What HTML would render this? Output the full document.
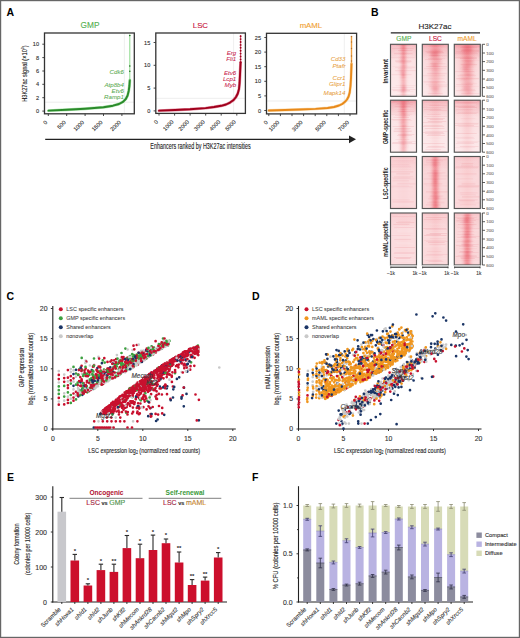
<!DOCTYPE html>
<html><head><meta charset="utf-8"><style>
html,body{margin:0;padding:0;background:#fff;}
svg{display:block;font-family:"Liberation Sans", sans-serif;}
</style></head><body>
<svg width="520" height="638" viewBox="0 0 520 638">
<rect x="0" y="0" width="520" height="638" fill="#fff"/>
<text x="6.5" y="16" font-size="10.5" fill="#000" font-weight="bold">A</text>
<text x="371" y="16" font-size="10.5" fill="#000" font-weight="bold">B</text>
<text x="6.5" y="300" font-size="10.5" fill="#000" font-weight="bold">C</text>
<text x="252" y="300" font-size="10.5" fill="#000" font-weight="bold">D</text>
<text x="7" y="480.5" font-size="10.5" fill="#000" font-weight="bold">E</text>
<text x="252" y="480.5" font-size="10.5" fill="#000" font-weight="bold">F</text>
<line x1="44.5" y1="102.2" x2="134.3" y2="102.2" stroke="#e0e0e0" stroke-width="0.6"/>
<line x1="124.4" y1="33" x2="124.4" y2="113.8" stroke="#e4e4e4" stroke-width="0.6"/>
<polyline points="48.5,110.6 66.7,109.8 85,108.7 103.5,107.2 113,105.7 119,104 123,101.8 125.8,99 127.6,95.5 128.7,91 129.4,86 129.8,80.3" fill="none" stroke="#6fcf6f" stroke-width="2.9" stroke-linejoin="round" stroke-linecap="round" opacity="0.55"/>
<polyline points="48.5,110.6 66.7,109.8 85,108.7 103.5,107.2 113,105.7 119,104 123,101.8 125.8,99 127.6,95.5 128.7,91 129.4,86 129.8,80.3" fill="none" stroke="#2a8a2a" stroke-width="1.9" stroke-linejoin="round" stroke-linecap="round"/>
<line x1="129.8" y1="80.3" x2="129.8" y2="34.5" stroke="#6fcf6f" stroke-width="0.8"/>
<circle cx="129.8" cy="35.5" r="0.8" fill="#1f6a1f"/>
<circle cx="129.8" cy="66" r="0.8" fill="#1f6a1f"/>
<circle cx="129.8" cy="71.2" r="0.8" fill="#1f6a1f"/>
<rect x="44.5" y="33" width="89.8" height="80.8" fill="none" stroke="#333" stroke-width="1.3"/>
<line x1="42.3" y1="111.1" x2="44.5" y2="111.1" stroke="#333" stroke-width="0.9"/>
<text x="39" y="113.1" font-size="5.6" fill="#333" stroke="#333" stroke-width="0.12" text-anchor="end">0</text>
<line x1="42.3" y1="97.7" x2="44.5" y2="97.7" stroke="#333" stroke-width="0.9"/>
<text x="39" y="99.7" font-size="5.6" fill="#333" stroke="#333" stroke-width="0.12" text-anchor="end">2</text>
<line x1="42.3" y1="84.3" x2="44.5" y2="84.3" stroke="#333" stroke-width="0.9"/>
<text x="39" y="86.3" font-size="5.6" fill="#333" stroke="#333" stroke-width="0.12" text-anchor="end">4</text>
<line x1="42.3" y1="71" x2="44.5" y2="71" stroke="#333" stroke-width="0.9"/>
<text x="39" y="73" font-size="5.6" fill="#333" stroke="#333" stroke-width="0.12" text-anchor="end">6</text>
<line x1="42.3" y1="57.6" x2="44.5" y2="57.6" stroke="#333" stroke-width="0.9"/>
<text x="39" y="59.6" font-size="5.6" fill="#333" stroke="#333" stroke-width="0.12" text-anchor="end">8</text>
<line x1="42.3" y1="44.2" x2="44.5" y2="44.2" stroke="#333" stroke-width="0.9"/>
<text x="39" y="46.2" font-size="5.6" fill="#333" stroke="#333" stroke-width="0.12" text-anchor="end">10</text>
<line x1="48.3" y1="113.8" x2="48.3" y2="116" stroke="#333" stroke-width="0.9"/>
<line x1="66.7" y1="113.8" x2="66.7" y2="116" stroke="#333" stroke-width="0.9"/>
<line x1="85.1" y1="113.8" x2="85.1" y2="116" stroke="#333" stroke-width="0.9"/>
<line x1="103.5" y1="113.8" x2="103.5" y2="116" stroke="#333" stroke-width="0.9"/>
<line x1="121.9" y1="113.8" x2="121.9" y2="116" stroke="#333" stroke-width="0.9"/>
<text x="47.7" y="122.8" font-size="5.6" fill="#333" stroke="#333" stroke-width="0.12" text-anchor="end" transform="rotate(-45 47.7 122.8)">0</text>
<text x="66.1" y="122.8" font-size="5.6" fill="#333" stroke="#333" stroke-width="0.12" text-anchor="end" transform="rotate(-45 66.1 122.8)">500</text>
<text x="84.5" y="122.8" font-size="5.6" fill="#333" stroke="#333" stroke-width="0.12" text-anchor="end" transform="rotate(-45 84.5 122.8)">1000</text>
<text x="102.9" y="122.8" font-size="5.6" fill="#333" stroke="#333" stroke-width="0.12" text-anchor="end" transform="rotate(-45 102.9 122.8)">1500</text>
<text x="121.3" y="122.8" font-size="5.6" fill="#333" stroke="#333" stroke-width="0.12" text-anchor="end" transform="rotate(-45 121.3 122.8)">2000</text>
<text x="90" y="28.3" font-size="8.3" fill="#55b04f" stroke="#55b04f" stroke-width="0.12" text-anchor="middle">GMP</text>
<text x="124" y="73.8" font-size="6.2" fill="#5aaa50" stroke="#5aaa50" stroke-width="0.05" text-anchor="end" font-style="italic">Cdk6</text>
<text x="124" y="86.5" font-size="6.2" fill="#5aaa50" stroke="#5aaa50" stroke-width="0.05" text-anchor="end" font-style="italic">Atp8b4</text>
<text x="124" y="93" font-size="6.2" fill="#5aaa50" stroke="#5aaa50" stroke-width="0.05" text-anchor="end" font-style="italic">Etv6</text>
<text x="124" y="99" font-size="6.2" fill="#5aaa50" stroke="#5aaa50" stroke-width="0.05" text-anchor="end" font-style="italic">Ramp1</text>
<line x1="155.8" y1="98.3" x2="245.4" y2="98.3" stroke="#e0e0e0" stroke-width="0.6"/>
<line x1="233.6" y1="33" x2="233.6" y2="113.4" stroke="#e4e4e4" stroke-width="0.6"/>
<polyline points="159,110.6 175,110 190,109.3 205.6,108.1 214,107 221.2,105.8 226,104.5 230,102.6 233.6,100 236,97 237.8,93.5 239,89 239.6,83 240,75 240.4,66 240.6,62.5" fill="none" stroke="#d04060" stroke-width="2.9" stroke-linejoin="round" stroke-linecap="round" opacity="0.55"/>
<polyline points="159,110.6 175,110 190,109.3 205.6,108.1 214,107 221.2,105.8 226,104.5 230,102.6 233.6,100 236,97 237.8,93.5 239,89 239.6,83 240,75 240.4,66 240.6,62.5" fill="none" stroke="#a0001c" stroke-width="1.9" stroke-linejoin="round" stroke-linecap="round"/>
<line x1="240.6" y1="62.5" x2="240.6" y2="35" stroke="#d04060" stroke-width="0.8"/>
<circle cx="240.6" cy="36.2" r="0.95" fill="#a0001c"/>
<circle cx="240.6" cy="39.1" r="0.95" fill="#a0001c"/>
<circle cx="240.6" cy="42" r="0.95" fill="#a0001c"/>
<circle cx="240.6" cy="44.9" r="0.95" fill="#a0001c"/>
<circle cx="240.6" cy="47.8" r="0.95" fill="#a0001c"/>
<circle cx="240.6" cy="50.7" r="0.95" fill="#a0001c"/>
<circle cx="240.6" cy="53.6" r="0.95" fill="#a0001c"/>
<circle cx="240.6" cy="56.5" r="0.95" fill="#a0001c"/>
<circle cx="240.6" cy="59.4" r="0.95" fill="#a0001c"/>
<circle cx="240.6" cy="62.3" r="0.95" fill="#a0001c"/>
<rect x="155.8" y="33" width="89.6" height="80.4" fill="none" stroke="#333" stroke-width="1.3"/>
<line x1="153.6" y1="110.9" x2="155.8" y2="110.9" stroke="#333" stroke-width="0.9"/>
<text x="150.3" y="112.9" font-size="5.6" fill="#333" stroke="#333" stroke-width="0.12" text-anchor="end">0</text>
<line x1="153.6" y1="88.1" x2="155.8" y2="88.1" stroke="#333" stroke-width="0.9"/>
<text x="150.3" y="90.1" font-size="5.6" fill="#333" stroke="#333" stroke-width="0.12" text-anchor="end">5</text>
<line x1="153.6" y1="65.3" x2="155.8" y2="65.3" stroke="#333" stroke-width="0.9"/>
<text x="150.3" y="67.3" font-size="5.6" fill="#333" stroke="#333" stroke-width="0.12" text-anchor="end">10</text>
<line x1="153.6" y1="42.5" x2="155.8" y2="42.5" stroke="#333" stroke-width="0.9"/>
<text x="150.3" y="44.5" font-size="5.6" fill="#333" stroke="#333" stroke-width="0.12" text-anchor="end">15</text>
<line x1="159" y1="113.4" x2="159" y2="115.6" stroke="#333" stroke-width="0.9"/>
<line x1="174.6" y1="113.4" x2="174.6" y2="115.6" stroke="#333" stroke-width="0.9"/>
<line x1="190.1" y1="113.4" x2="190.1" y2="115.6" stroke="#333" stroke-width="0.9"/>
<line x1="205.7" y1="113.4" x2="205.7" y2="115.6" stroke="#333" stroke-width="0.9"/>
<line x1="221.2" y1="113.4" x2="221.2" y2="115.6" stroke="#333" stroke-width="0.9"/>
<line x1="236.8" y1="113.4" x2="236.8" y2="115.6" stroke="#333" stroke-width="0.9"/>
<text x="158.4" y="122.4" font-size="5.6" fill="#333" stroke="#333" stroke-width="0.12" text-anchor="end" transform="rotate(-45 158.4 122.4)">0</text>
<text x="174" y="122.4" font-size="5.6" fill="#333" stroke="#333" stroke-width="0.12" text-anchor="end" transform="rotate(-45 174 122.4)">1000</text>
<text x="189.5" y="122.4" font-size="5.6" fill="#333" stroke="#333" stroke-width="0.12" text-anchor="end" transform="rotate(-45 189.5 122.4)">2000</text>
<text x="205.1" y="122.4" font-size="5.6" fill="#333" stroke="#333" stroke-width="0.12" text-anchor="end" transform="rotate(-45 205.1 122.4)">3000</text>
<text x="220.6" y="122.4" font-size="5.6" fill="#333" stroke="#333" stroke-width="0.12" text-anchor="end" transform="rotate(-45 220.6 122.4)">4000</text>
<text x="236.2" y="122.4" font-size="5.6" fill="#333" stroke="#333" stroke-width="0.12" text-anchor="end" transform="rotate(-45 236.2 122.4)">5000</text>
<text x="200.4" y="28.3" font-size="7.8" fill="#c8143c" stroke="#c8143c" stroke-width="0.12" text-anchor="middle">LSC</text>
<text x="236.3" y="54.6" font-size="6.2" fill="#c8204a" stroke="#c8204a" stroke-width="0.05" text-anchor="end" font-style="italic">Erg</text>
<text x="236.3" y="61.3" font-size="6.2" fill="#c8204a" stroke="#c8204a" stroke-width="0.05" text-anchor="end" font-style="italic">Fli1</text>
<text x="236.3" y="75.2" font-size="6.2" fill="#c8204a" stroke="#c8204a" stroke-width="0.05" text-anchor="end" font-style="italic">Etv6</text>
<text x="236.3" y="81" font-size="6.2" fill="#c8204a" stroke="#c8204a" stroke-width="0.05" text-anchor="end" font-style="italic">Lcp1</text>
<text x="236.3" y="87.3" font-size="6.2" fill="#c8204a" stroke="#c8204a" stroke-width="0.05" text-anchor="end" font-style="italic">Myb</text>
<line x1="266.5" y1="101" x2="356.6" y2="101" stroke="#e0e0e0" stroke-width="0.6"/>
<line x1="344.3" y1="33.3" x2="344.3" y2="113.9" stroke="#e4e4e4" stroke-width="0.6"/>
<polyline points="268.8,110.5 285,110 300,109.5 315.5,108.9 327.6,108 334,107 339,105.5 342.5,103.8 345,101.8 347,99.5 348.6,96.5 349.7,92.5 350.5,86 351,78 351.3,70 351.5,64" fill="none" stroke="#f6c070" stroke-width="2.9" stroke-linejoin="round" stroke-linecap="round" opacity="0.55"/>
<polyline points="268.8,110.5 285,110 300,109.5 315.5,108.9 327.6,108 334,107 339,105.5 342.5,103.8 345,101.8 347,99.5 348.6,96.5 349.7,92.5 350.5,86 351,78 351.3,70 351.5,64" fill="none" stroke="#e8891a" stroke-width="1.9" stroke-linejoin="round" stroke-linecap="round"/>
<line x1="351.5" y1="64" x2="351.5" y2="36" stroke="#eea040" stroke-width="1.4"/>
<circle cx="351.5" cy="36.5" r="0.7" fill="#b07030"/>
<circle cx="351.5" cy="42" r="0.7" fill="#b07030"/>
<circle cx="351.5" cy="48.5" r="0.7" fill="#b07030"/>
<circle cx="351.5" cy="56" r="0.7" fill="#b07030"/>
<circle cx="351.5" cy="61" r="0.7" fill="#b07030"/>
<rect x="266.5" y="33.3" width="90.1" height="80.6" fill="none" stroke="#333" stroke-width="1.3"/>
<line x1="264.3" y1="110.5" x2="266.5" y2="110.5" stroke="#333" stroke-width="0.9"/>
<text x="261" y="112.5" font-size="5.6" fill="#333" stroke="#333" stroke-width="0.12" text-anchor="end">0</text>
<line x1="264.3" y1="95.9" x2="266.5" y2="95.9" stroke="#333" stroke-width="0.9"/>
<text x="261" y="97.9" font-size="5.6" fill="#333" stroke="#333" stroke-width="0.12" text-anchor="end">5</text>
<line x1="264.3" y1="81.3" x2="266.5" y2="81.3" stroke="#333" stroke-width="0.9"/>
<text x="261" y="83.3" font-size="5.6" fill="#333" stroke="#333" stroke-width="0.12" text-anchor="end">10</text>
<line x1="264.3" y1="66.7" x2="266.5" y2="66.7" stroke="#333" stroke-width="0.9"/>
<text x="261" y="68.7" font-size="5.6" fill="#333" stroke="#333" stroke-width="0.12" text-anchor="end">15</text>
<line x1="264.3" y1="52.1" x2="266.5" y2="52.1" stroke="#333" stroke-width="0.9"/>
<text x="261" y="54.1" font-size="5.6" fill="#333" stroke="#333" stroke-width="0.12" text-anchor="end">20</text>
<line x1="264.3" y1="37.5" x2="266.5" y2="37.5" stroke="#333" stroke-width="0.9"/>
<text x="261" y="39.5" font-size="5.6" fill="#333" stroke="#333" stroke-width="0.12" text-anchor="end">25</text>
<line x1="268.8" y1="113.9" x2="268.8" y2="116.1" stroke="#333" stroke-width="0.9"/>
<line x1="280.4" y1="113.9" x2="280.4" y2="116.1" stroke="#333" stroke-width="0.9"/>
<line x1="292" y1="113.9" x2="292" y2="116.1" stroke="#333" stroke-width="0.9"/>
<line x1="303.6" y1="113.9" x2="303.6" y2="116.1" stroke="#333" stroke-width="0.9"/>
<line x1="315.2" y1="113.9" x2="315.2" y2="116.1" stroke="#333" stroke-width="0.9"/>
<line x1="326.8" y1="113.9" x2="326.8" y2="116.1" stroke="#333" stroke-width="0.9"/>
<line x1="338.4" y1="113.9" x2="338.4" y2="116.1" stroke="#333" stroke-width="0.9"/>
<line x1="350" y1="113.9" x2="350" y2="116.1" stroke="#333" stroke-width="0.9"/>
<text x="268.2" y="122.9" font-size="5.6" fill="#333" stroke="#333" stroke-width="0.12" text-anchor="end" transform="rotate(-45 268.2 122.9)">0</text>
<text x="279.8" y="122.9" font-size="5.6" fill="#333" stroke="#333" stroke-width="0.12" text-anchor="end" transform="rotate(-45 279.8 122.9)">1000</text>
<text x="303" y="122.9" font-size="5.6" fill="#333" stroke="#333" stroke-width="0.12" text-anchor="end" transform="rotate(-45 303 122.9)">3000</text>
<text x="326.2" y="122.9" font-size="5.6" fill="#333" stroke="#333" stroke-width="0.12" text-anchor="end" transform="rotate(-45 326.2 122.9)">5000</text>
<text x="349.4" y="122.9" font-size="5.6" fill="#333" stroke="#333" stroke-width="0.12" text-anchor="end" transform="rotate(-45 349.4 122.9)">7000</text>
<text x="310.9" y="28.3" font-size="7.8" fill="#f0a030" stroke="#f0a030" stroke-width="0.12" text-anchor="middle">mAML</text>
<text x="345.5" y="60.6" font-size="6.2" fill="#e8a040" stroke="#e8a040" stroke-width="0.05" text-anchor="end" font-style="italic">Cd33</text>
<text x="345.5" y="67.8" font-size="6.2" fill="#e8a040" stroke="#e8a040" stroke-width="0.05" text-anchor="end" font-style="italic">Ptafr</text>
<text x="345.5" y="80.4" font-size="6.2" fill="#e8a040" stroke="#e8a040" stroke-width="0.05" text-anchor="end" font-style="italic">Ccr1</text>
<text x="345.5" y="86" font-size="6.2" fill="#e8a040" stroke="#e8a040" stroke-width="0.05" text-anchor="end" font-style="italic">Glipr1</text>
<text x="345.5" y="94.5" font-size="6.2" fill="#e8a040" stroke="#e8a040" stroke-width="0.05" text-anchor="end" font-style="italic">Mapk14</text>
<text x="26.9" y="73.6" font-size="7.2" fill="#222" stroke="#222" stroke-width="0.12" text-anchor="middle" transform="rotate(-90 26.9 73.6)" textLength="56.5" lengthAdjust="spacingAndGlyphs">H3K27ac signal (×10<tspan font-size="4.4" dy="-2.6">3</tspan><tspan dy="2.6">)</tspan></text>
<line x1="45.2" y1="139.3" x2="350" y2="139.3" stroke="#222" stroke-width="1.2"/>
<path d="M349,135.4 L356,139.3 L349,143.2 Z" fill="#222"/>
<text x="150.3" y="149.4" font-size="8.6" fill="#222" stroke="#222" stroke-width="0.12" textLength="100.5" lengthAdjust="spacingAndGlyphs">Enhancers ranked by H3K27ac intensities</text>
<defs><linearGradient id="hb00" x1="0" x2="1" y1="0" y2="0"><stop offset="0.00" stop-color="#fbdcde"/><stop offset="0.05" stop-color="#fbdcde"/><stop offset="0.10" stop-color="#fbdcde"/><stop offset="0.15" stop-color="#fbdcde"/><stop offset="0.20" stop-color="#fbdcde"/><stop offset="0.25" stop-color="#fbdbde"/><stop offset="0.30" stop-color="#fbd9db"/><stop offset="0.35" stop-color="#fad0d3"/><stop offset="0.40" stop-color="#f7bcc0"/><stop offset="0.45" stop-color="#f4a2a8"/><stop offset="0.50" stop-color="#f3969c"/><stop offset="0.55" stop-color="#f4a2a8"/><stop offset="0.60" stop-color="#f7bcc0"/><stop offset="0.65" stop-color="#fad0d3"/><stop offset="0.70" stop-color="#fbd9db"/><stop offset="0.75" stop-color="#fbdbde"/><stop offset="0.80" stop-color="#fbdcde"/><stop offset="0.85" stop-color="#fbdcde"/><stop offset="0.90" stop-color="#fbdcde"/><stop offset="0.95" stop-color="#fbdcde"/><stop offset="1.00" stop-color="#fbdcde"/></linearGradient><linearGradient id="hb01" x1="0" x2="1" y1="0" y2="0"><stop offset="0.00" stop-color="#fad7d9"/><stop offset="0.05" stop-color="#fad6d9"/><stop offset="0.10" stop-color="#fad5d8"/><stop offset="0.15" stop-color="#fad3d6"/><stop offset="0.20" stop-color="#facfd2"/><stop offset="0.25" stop-color="#f9c8cb"/><stop offset="0.30" stop-color="#f8bec2"/><stop offset="0.35" stop-color="#f6b2b7"/><stop offset="0.40" stop-color="#f5a7ac"/><stop offset="0.45" stop-color="#f49ea4"/><stop offset="0.50" stop-color="#f49ba1"/><stop offset="0.55" stop-color="#f49ea4"/><stop offset="0.60" stop-color="#f5a7ac"/><stop offset="0.65" stop-color="#f6b2b7"/><stop offset="0.70" stop-color="#f8bec2"/><stop offset="0.75" stop-color="#f9c8cb"/><stop offset="0.80" stop-color="#facfd2"/><stop offset="0.85" stop-color="#fad3d6"/><stop offset="0.90" stop-color="#fad5d8"/><stop offset="0.95" stop-color="#fad6d9"/><stop offset="1.00" stop-color="#fad7d9"/></linearGradient><linearGradient id="hb02" x1="0" x2="1" y1="0" y2="0"><stop offset="0.00" stop-color="#fad5d7"/><stop offset="0.05" stop-color="#fad4d6"/><stop offset="0.10" stop-color="#fad2d5"/><stop offset="0.15" stop-color="#f9cfd1"/><stop offset="0.20" stop-color="#f9c9cc"/><stop offset="0.25" stop-color="#f8c0c3"/><stop offset="0.30" stop-color="#f6b4b8"/><stop offset="0.35" stop-color="#f5a6ab"/><stop offset="0.40" stop-color="#f3999f"/><stop offset="0.45" stop-color="#f28f96"/><stop offset="0.50" stop-color="#f28c93"/><stop offset="0.55" stop-color="#f28f96"/><stop offset="0.60" stop-color="#f3999f"/><stop offset="0.65" stop-color="#f5a6ab"/><stop offset="0.70" stop-color="#f6b4b8"/><stop offset="0.75" stop-color="#f8c0c3"/><stop offset="0.80" stop-color="#f9c9cc"/><stop offset="0.85" stop-color="#f9cfd1"/><stop offset="0.90" stop-color="#fad2d5"/><stop offset="0.95" stop-color="#fad4d6"/><stop offset="1.00" stop-color="#fad5d7"/></linearGradient><linearGradient id="hb10" x1="0" x2="1" y1="0" y2="0"><stop offset="0.00" stop-color="#fbdee0"/><stop offset="0.05" stop-color="#fbdee0"/><stop offset="0.10" stop-color="#fbdee0"/><stop offset="0.15" stop-color="#fbdee0"/><stop offset="0.20" stop-color="#fbdddf"/><stop offset="0.25" stop-color="#fbdcde"/><stop offset="0.30" stop-color="#fad7da"/><stop offset="0.35" stop-color="#f9cbce"/><stop offset="0.40" stop-color="#f7b6ba"/><stop offset="0.45" stop-color="#f49fa4"/><stop offset="0.50" stop-color="#f3949b"/><stop offset="0.55" stop-color="#f49fa4"/><stop offset="0.60" stop-color="#f7b6ba"/><stop offset="0.65" stop-color="#f9cbce"/><stop offset="0.70" stop-color="#fad7da"/><stop offset="0.75" stop-color="#fbdcde"/><stop offset="0.80" stop-color="#fbdddf"/><stop offset="0.85" stop-color="#fbdee0"/><stop offset="0.90" stop-color="#fbdee0"/><stop offset="0.95" stop-color="#fbdee0"/><stop offset="1.00" stop-color="#fbdee0"/></linearGradient><linearGradient id="hb11" x1="0" x2="1" y1="0" y2="0"><stop offset="0.00" stop-color="#fbdcde"/><stop offset="0.05" stop-color="#fbdcde"/><stop offset="0.10" stop-color="#fbdcde"/><stop offset="0.15" stop-color="#fbdbdd"/><stop offset="0.20" stop-color="#fbdadc"/><stop offset="0.25" stop-color="#fbd8da"/><stop offset="0.30" stop-color="#fad5d7"/><stop offset="0.35" stop-color="#fad1d3"/><stop offset="0.40" stop-color="#f9cccf"/><stop offset="0.45" stop-color="#f9c9cc"/><stop offset="0.50" stop-color="#f9c8cb"/><stop offset="0.55" stop-color="#f9c9cc"/><stop offset="0.60" stop-color="#f9cccf"/><stop offset="0.65" stop-color="#fad1d3"/><stop offset="0.70" stop-color="#fad5d7"/><stop offset="0.75" stop-color="#fbd8da"/><stop offset="0.80" stop-color="#fbdadc"/><stop offset="0.85" stop-color="#fbdbdd"/><stop offset="0.90" stop-color="#fbdcde"/><stop offset="0.95" stop-color="#fbdcde"/><stop offset="1.00" stop-color="#fbdcde"/></linearGradient><linearGradient id="hb12" x1="0" x2="1" y1="0" y2="0"><stop offset="0.00" stop-color="#fbdadc"/><stop offset="0.05" stop-color="#fbdadc"/><stop offset="0.10" stop-color="#fbdadc"/><stop offset="0.15" stop-color="#fbd9db"/><stop offset="0.20" stop-color="#fbd8da"/><stop offset="0.25" stop-color="#fad5d8"/><stop offset="0.30" stop-color="#fad1d4"/><stop offset="0.35" stop-color="#f9cccf"/><stop offset="0.40" stop-color="#f9c7ca"/><stop offset="0.45" stop-color="#f8c3c6"/><stop offset="0.50" stop-color="#f8c1c5"/><stop offset="0.55" stop-color="#f8c3c6"/><stop offset="0.60" stop-color="#f9c7ca"/><stop offset="0.65" stop-color="#f9cccf"/><stop offset="0.70" stop-color="#fad1d4"/><stop offset="0.75" stop-color="#fad5d8"/><stop offset="0.80" stop-color="#fbd8da"/><stop offset="0.85" stop-color="#fbd9db"/><stop offset="0.90" stop-color="#fbdadc"/><stop offset="0.95" stop-color="#fbdadc"/><stop offset="1.00" stop-color="#fbdadc"/></linearGradient><linearGradient id="hb20" x1="0" x2="1" y1="0" y2="0"><stop offset="0.00" stop-color="#fbdadc"/><stop offset="0.05" stop-color="#fbdadc"/><stop offset="0.10" stop-color="#fbdadc"/><stop offset="0.15" stop-color="#fbdadc"/><stop offset="0.20" stop-color="#fbdadc"/><stop offset="0.25" stop-color="#fbd9db"/><stop offset="0.30" stop-color="#fbd8db"/><stop offset="0.35" stop-color="#fad7da"/><stop offset="0.40" stop-color="#fad6d9"/><stop offset="0.45" stop-color="#fad6d8"/><stop offset="0.50" stop-color="#fad5d8"/><stop offset="0.55" stop-color="#fad6d8"/><stop offset="0.60" stop-color="#fad6d9"/><stop offset="0.65" stop-color="#fad7da"/><stop offset="0.70" stop-color="#fbd8db"/><stop offset="0.75" stop-color="#fbd9db"/><stop offset="0.80" stop-color="#fbdadc"/><stop offset="0.85" stop-color="#fbdadc"/><stop offset="0.90" stop-color="#fbdadc"/><stop offset="0.95" stop-color="#fbdadc"/><stop offset="1.00" stop-color="#fbdadc"/></linearGradient><linearGradient id="hb21" x1="0" x2="1" y1="0" y2="0"><stop offset="0.00" stop-color="#fad7d9"/><stop offset="0.05" stop-color="#fad7d9"/><stop offset="0.10" stop-color="#fad7d9"/><stop offset="0.15" stop-color="#fad7d9"/><stop offset="0.20" stop-color="#fad6d9"/><stop offset="0.25" stop-color="#fad5d7"/><stop offset="0.30" stop-color="#facfd2"/><stop offset="0.35" stop-color="#f8c2c5"/><stop offset="0.40" stop-color="#f6adb2"/><stop offset="0.45" stop-color="#f3979d"/><stop offset="0.50" stop-color="#f28d94"/><stop offset="0.55" stop-color="#f3979d"/><stop offset="0.60" stop-color="#f6adb2"/><stop offset="0.65" stop-color="#f8c2c5"/><stop offset="0.70" stop-color="#facfd2"/><stop offset="0.75" stop-color="#fad5d7"/><stop offset="0.80" stop-color="#fad6d9"/><stop offset="0.85" stop-color="#fad7d9"/><stop offset="0.90" stop-color="#fad7d9"/><stop offset="0.95" stop-color="#fad7d9"/><stop offset="1.00" stop-color="#fad7d9"/></linearGradient><linearGradient id="hb22" x1="0" x2="1" y1="0" y2="0"><stop offset="0.00" stop-color="#fbd9db"/><stop offset="0.05" stop-color="#fbd8db"/><stop offset="0.10" stop-color="#fbd8db"/><stop offset="0.15" stop-color="#fbd8da"/><stop offset="0.20" stop-color="#fad7da"/><stop offset="0.25" stop-color="#fad6d9"/><stop offset="0.30" stop-color="#fad4d7"/><stop offset="0.35" stop-color="#fad3d5"/><stop offset="0.40" stop-color="#fad1d3"/><stop offset="0.45" stop-color="#facfd2"/><stop offset="0.50" stop-color="#f9cfd1"/><stop offset="0.55" stop-color="#facfd2"/><stop offset="0.60" stop-color="#fad1d3"/><stop offset="0.65" stop-color="#fad3d5"/><stop offset="0.70" stop-color="#fad4d7"/><stop offset="0.75" stop-color="#fad6d9"/><stop offset="0.80" stop-color="#fad7da"/><stop offset="0.85" stop-color="#fbd8da"/><stop offset="0.90" stop-color="#fbd8db"/><stop offset="0.95" stop-color="#fbd8db"/><stop offset="1.00" stop-color="#fbd9db"/></linearGradient><linearGradient id="hb30" x1="0" x2="1" y1="0" y2="0"><stop offset="0.00" stop-color="#fbdcde"/><stop offset="0.05" stop-color="#fbdcde"/><stop offset="0.10" stop-color="#fbdcde"/><stop offset="0.15" stop-color="#fbdcde"/><stop offset="0.20" stop-color="#fbdbde"/><stop offset="0.25" stop-color="#fbdbdd"/><stop offset="0.30" stop-color="#fbdbdd"/><stop offset="0.35" stop-color="#fbdadc"/><stop offset="0.40" stop-color="#fbd9dc"/><stop offset="0.45" stop-color="#fbd9db"/><stop offset="0.50" stop-color="#fbd9db"/><stop offset="0.55" stop-color="#fbd9db"/><stop offset="0.60" stop-color="#fbd9dc"/><stop offset="0.65" stop-color="#fbdadc"/><stop offset="0.70" stop-color="#fbdbdd"/><stop offset="0.75" stop-color="#fbdbdd"/><stop offset="0.80" stop-color="#fbdbde"/><stop offset="0.85" stop-color="#fbdcde"/><stop offset="0.90" stop-color="#fbdcde"/><stop offset="0.95" stop-color="#fbdcde"/><stop offset="1.00" stop-color="#fbdcde"/></linearGradient><linearGradient id="hb31" x1="0" x2="1" y1="0" y2="0"><stop offset="0.00" stop-color="#fbdadc"/><stop offset="0.05" stop-color="#fbdadc"/><stop offset="0.10" stop-color="#fbdadc"/><stop offset="0.15" stop-color="#fbdadc"/><stop offset="0.20" stop-color="#fbd9db"/><stop offset="0.25" stop-color="#fbd8da"/><stop offset="0.30" stop-color="#fad6d8"/><stop offset="0.35" stop-color="#fad4d6"/><stop offset="0.40" stop-color="#fad1d4"/><stop offset="0.45" stop-color="#facfd2"/><stop offset="0.50" stop-color="#f9cfd1"/><stop offset="0.55" stop-color="#facfd2"/><stop offset="0.60" stop-color="#fad1d4"/><stop offset="0.65" stop-color="#fad4d6"/><stop offset="0.70" stop-color="#fad6d8"/><stop offset="0.75" stop-color="#fbd8da"/><stop offset="0.80" stop-color="#fbd9db"/><stop offset="0.85" stop-color="#fbdadc"/><stop offset="0.90" stop-color="#fbdadc"/><stop offset="0.95" stop-color="#fbdadc"/><stop offset="1.00" stop-color="#fbdadc"/></linearGradient><linearGradient id="hb32" x1="0" x2="1" y1="0" y2="0"><stop offset="0.00" stop-color="#fad7d9"/><stop offset="0.05" stop-color="#fad7d9"/><stop offset="0.10" stop-color="#fad7d9"/><stop offset="0.15" stop-color="#fad7d9"/><stop offset="0.20" stop-color="#fad6d8"/><stop offset="0.25" stop-color="#fad3d5"/><stop offset="0.30" stop-color="#f9cbcf"/><stop offset="0.35" stop-color="#f8bec2"/><stop offset="0.40" stop-color="#f5aaaf"/><stop offset="0.45" stop-color="#f3989e"/><stop offset="0.50" stop-color="#f29197"/><stop offset="0.55" stop-color="#f3989e"/><stop offset="0.60" stop-color="#f5aaaf"/><stop offset="0.65" stop-color="#f8bec2"/><stop offset="0.70" stop-color="#f9cbcf"/><stop offset="0.75" stop-color="#fad3d5"/><stop offset="0.80" stop-color="#fad6d8"/><stop offset="0.85" stop-color="#fad7d9"/><stop offset="0.90" stop-color="#fad7d9"/><stop offset="0.95" stop-color="#fad7d9"/><stop offset="1.00" stop-color="#fad7d9"/></linearGradient><filter id="blr" x="-20%" y="-20%" width="140%" height="140%"><feGaussianBlur stdDeviation="0.9"/></filter><linearGradient id="vfade" x1="0" x2="0" y1="0" y2="1"><stop offset="0" stop-color="#fff" stop-opacity="0"/><stop offset="1" stop-color="#fff" stop-opacity="0.45"/></linearGradient><linearGradient id="vtop" x1="0" x2="0" y1="0" y2="1"><stop offset="0" stop-color="#e85a6a" stop-opacity="1"/><stop offset="0.25" stop-color="#e85a6a" stop-opacity="0.55"/><stop offset="1" stop-color="#e04050" stop-opacity="0"/></linearGradient></defs>
<rect x="390.5" y="44.3" width="26" height="52" fill="url(#hb00)"/>
<rect x="390.5" y="44.3" width="26" height="52" fill="url(#vfade)"/>
<rect x="390.5" y="44.3" width="26" height="16" fill="url(#vtop)" opacity="0.3"/>
<g filter="url(#blr)">
<ellipse cx="403.8" cy="76.3" rx="2.2" ry="1.3" fill="#e04858" opacity="0.08"/>
<ellipse cx="403.6" cy="88.2" rx="2.3" ry="2.2" fill="#e04858" opacity="0.08"/>
<ellipse cx="403.9" cy="60.8" rx="1.6" ry="1.7" fill="#e04858" opacity="0.10"/>
<ellipse cx="402.1" cy="72.9" rx="2.2" ry="1.9" fill="#e04858" opacity="0.11"/>
<ellipse cx="403.3" cy="56.6" rx="2" ry="1.1" fill="#e04858" opacity="0.07"/>
<ellipse cx="400.9" cy="71" rx="2.4" ry="1.9" fill="#e04858" opacity="0.09"/>
<ellipse cx="403" cy="70.1" rx="1.5" ry="2" fill="#e04858" opacity="0.08"/>
<ellipse cx="403.5" cy="64" rx="2.3" ry="1.2" fill="#e04858" opacity="0.08"/>
<ellipse cx="403.6" cy="88.6" rx="2.3" ry="2" fill="#e04858" opacity="0.10"/>
<ellipse cx="404.4" cy="50.7" rx="1.9" ry="2.3" fill="#e04858" opacity="0.09"/>
<ellipse cx="402.3" cy="75" rx="1.7" ry="1.5" fill="#e04858" opacity="0.08"/>
<ellipse cx="403.4" cy="85.5" rx="2.5" ry="1.9" fill="#e04858" opacity="0.09"/>
<ellipse cx="403" cy="76.9" rx="1.4" ry="1.7" fill="#e04858" opacity="0.08"/>
<ellipse cx="404.4" cy="65.6" rx="2.5" ry="1.3" fill="#e04858" opacity="0.10"/>
<ellipse cx="401.4" cy="60.7" rx="2.1" ry="1.2" fill="#e04858" opacity="0.12"/>
<ellipse cx="403.2" cy="91.7" rx="2" ry="1.2" fill="#e04858" opacity="0.07"/>
<ellipse cx="403.2" cy="90.8" rx="1.5" ry="2.3" fill="#e04858" opacity="0.09"/>
<ellipse cx="403.5" cy="73.6" rx="1.8" ry="1.4" fill="#e04858" opacity="0.07"/>
<ellipse cx="404.2" cy="88.4" rx="1.9" ry="1.5" fill="#e04858" opacity="0.10"/>
<ellipse cx="402.2" cy="47.5" rx="1.3" ry="1.2" fill="#e04858" opacity="0.13"/>
<ellipse cx="402.6" cy="77.9" rx="1.9" ry="2.3" fill="#e04858" opacity="0.08"/>
<ellipse cx="403.7" cy="74.6" rx="1.7" ry="1.8" fill="#e04858" opacity="0.10"/>
</g>
<rect x="396.4" y="45.3" width="13.8" height="0.8" fill="#d84858" opacity="0.15"/>
<rect x="390.6" y="46.3" width="21" height="0.8" fill="#ffffff" opacity="0.10"/>
<rect x="392" y="48.3" width="21.6" height="0.8" fill="#d84858" opacity="0.13"/>
<rect x="395" y="49.3" width="18.9" height="0.8" fill="#ffffff" opacity="0.09"/>
<rect x="398.1" y="50.3" width="14.3" height="0.8" fill="#d84858" opacity="0.15"/>
<rect x="395" y="51.3" width="18.1" height="0.8" fill="#ffffff" opacity="0.15"/>
<rect x="393.9" y="53.3" width="18.6" height="0.8" fill="#d84858" opacity="0.15"/>
<rect x="396.1" y="55.3" width="15.5" height="0.8" fill="#ffffff" opacity="0.14"/>
<rect x="390.9" y="57.3" width="23.9" height="0.8" fill="#d84858" opacity="0.09"/>
<rect x="395.1" y="60.3" width="16.2" height="0.8" fill="#d84858" opacity="0.12"/>
<rect x="395.4" y="61.3" width="16.1" height="0.8" fill="#d84858" opacity="0.16"/>
<rect x="396.5" y="62.3" width="13.7" height="0.8" fill="#d84858" opacity="0.06"/>
<rect x="397.3" y="64.3" width="15.1" height="0.8" fill="#ffffff" opacity="0.15"/>
<rect x="392.5" y="66.3" width="22.1" height="0.8" fill="#d84858" opacity="0.05"/>
<rect x="395.1" y="67.3" width="20.1" height="0.8" fill="#d84858" opacity="0.11"/>
<rect x="397.8" y="68.3" width="14.5" height="0.8" fill="#d84858" opacity="0.05"/>
<rect x="395" y="70.3" width="21.2" height="0.8" fill="#d84858" opacity="0.12"/>
<rect x="391.4" y="74.3" width="20.2" height="0.8" fill="#d84858" opacity="0.09"/>
<rect x="391.5" y="76.3" width="19" height="0.8" fill="#ffffff" opacity="0.14"/>
<rect x="395.3" y="78.3" width="20.5" height="0.8" fill="#ffffff" opacity="0.11"/>
<rect x="396.8" y="79.3" width="17.2" height="0.8" fill="#ffffff" opacity="0.12"/>
<rect x="392.2" y="83.3" width="19.9" height="0.8" fill="#ffffff" opacity="0.05"/>
<rect x="395.6" y="85.3" width="20.1" height="0.8" fill="#d84858" opacity="0.08"/>
<rect x="397" y="86.3" width="16.6" height="0.8" fill="#ffffff" opacity="0.06"/>
<rect x="392.4" y="87.3" width="21.5" height="0.8" fill="#d84858" opacity="0.11"/>
<rect x="395" y="88.3" width="19.1" height="0.8" fill="#ffffff" opacity="0.06"/>
<rect x="391.5" y="89.3" width="23.9" height="0.8" fill="#d84858" opacity="0.13"/>
<rect x="392.9" y="90.3" width="17.1" height="0.8" fill="#d84858" opacity="0.15"/>
<rect x="397.4" y="91.3" width="16.2" height="0.8" fill="#d84858" opacity="0.07"/>
<rect x="396.9" y="93.3" width="14.3" height="0.8" fill="#ffffff" opacity="0.13"/>
<rect x="396.4" y="94.3" width="18.6" height="0.8" fill="#d84858" opacity="0.06"/>
<rect x="397.5" y="95.3" width="18" height="0.8" fill="#ffffff" opacity="0.11"/>
<rect x="390.5" y="44.3" width="26" height="52" fill="none" stroke="#555" stroke-width="1.15"/>
<rect x="422.3" y="44.3" width="26" height="52" fill="url(#hb01)"/>
<rect x="422.3" y="44.3" width="26" height="52" fill="url(#vfade)"/>
<rect x="422.3" y="44.3" width="26" height="16" fill="url(#vtop)" opacity="0.35"/>
<g filter="url(#blr)">
<ellipse cx="434.2" cy="55.1" rx="3.8" ry="2.1" fill="#e04858" opacity="0.12"/>
<ellipse cx="437.1" cy="91.4" rx="4.2" ry="1.6" fill="#e04858" opacity="0.09"/>
<ellipse cx="434.9" cy="55.2" rx="4.1" ry="2.1" fill="#e04858" opacity="0.09"/>
<ellipse cx="434.2" cy="64.5" rx="2.4" ry="2.3" fill="#e04858" opacity="0.09"/>
<ellipse cx="434.6" cy="64.9" rx="4" ry="1.6" fill="#e04858" opacity="0.11"/>
<ellipse cx="434.9" cy="90.4" rx="2.7" ry="2.1" fill="#e04858" opacity="0.10"/>
<ellipse cx="433.6" cy="53.4" rx="4.3" ry="2.4" fill="#e04858" opacity="0.08"/>
<ellipse cx="438.3" cy="50.7" rx="2.6" ry="1.3" fill="#e04858" opacity="0.10"/>
<ellipse cx="435.3" cy="67.7" rx="2.8" ry="2.4" fill="#e04858" opacity="0.08"/>
<ellipse cx="434.9" cy="83.2" rx="3.4" ry="1" fill="#e04858" opacity="0.08"/>
<ellipse cx="437.8" cy="61.3" rx="3.4" ry="1.1" fill="#e04858" opacity="0.11"/>
<ellipse cx="436.4" cy="89" rx="2.9" ry="1.6" fill="#e04858" opacity="0.07"/>
<ellipse cx="434" cy="52.3" rx="3.5" ry="1.2" fill="#e04858" opacity="0.08"/>
<ellipse cx="433.6" cy="87.6" rx="2.8" ry="2" fill="#e04858" opacity="0.08"/>
<ellipse cx="435.9" cy="71.6" rx="3.5" ry="1.9" fill="#e04858" opacity="0.09"/>
<ellipse cx="436.3" cy="65.3" rx="4.4" ry="1.3" fill="#e04858" opacity="0.07"/>
<ellipse cx="436.1" cy="51.7" rx="4.5" ry="1.3" fill="#e04858" opacity="0.12"/>
<ellipse cx="435" cy="56.3" rx="3.5" ry="2.4" fill="#e04858" opacity="0.07"/>
<ellipse cx="439.7" cy="61.4" rx="2.5" ry="1.4" fill="#e04858" opacity="0.09"/>
<ellipse cx="435" cy="88.6" rx="4.3" ry="2.1" fill="#e04858" opacity="0.09"/>
<ellipse cx="437.4" cy="87.1" rx="4.1" ry="1.5" fill="#e04858" opacity="0.07"/>
<ellipse cx="434.5" cy="82.6" rx="4.5" ry="1.9" fill="#e04858" opacity="0.08"/>
</g>
<rect x="429.8" y="45.3" width="14" height="0.8" fill="#d84858" opacity="0.11"/>
<rect x="427.3" y="47.3" width="13.6" height="0.8" fill="#ffffff" opacity="0.14"/>
<rect x="428.8" y="48.3" width="16.9" height="0.8" fill="#ffffff" opacity="0.10"/>
<rect x="428.3" y="49.3" width="19.5" height="0.8" fill="#ffffff" opacity="0.07"/>
<rect x="425.5" y="51.3" width="17.2" height="0.8" fill="#d84858" opacity="0.16"/>
<rect x="426.7" y="52.3" width="17.3" height="0.8" fill="#d84858" opacity="0.13"/>
<rect x="426.6" y="54.3" width="21.1" height="0.8" fill="#ffffff" opacity="0.10"/>
<rect x="429.2" y="55.3" width="17.6" height="0.8" fill="#d84858" opacity="0.07"/>
<rect x="426.6" y="56.3" width="15.4" height="0.8" fill="#ffffff" opacity="0.13"/>
<rect x="427.6" y="57.3" width="15.7" height="0.8" fill="#ffffff" opacity="0.12"/>
<rect x="428.1" y="58.3" width="17.2" height="0.8" fill="#d84858" opacity="0.11"/>
<rect x="424.9" y="59.3" width="16.9" height="0.8" fill="#d84858" opacity="0.13"/>
<rect x="425.8" y="60.3" width="17" height="0.8" fill="#ffffff" opacity="0.14"/>
<rect x="426.8" y="61.3" width="17.1" height="0.8" fill="#ffffff" opacity="0.09"/>
<rect x="425.6" y="62.3" width="21.3" height="0.8" fill="#ffffff" opacity="0.12"/>
<rect x="430.1" y="63.3" width="15.5" height="0.8" fill="#d84858" opacity="0.08"/>
<rect x="429.7" y="64.3" width="11.7" height="0.8" fill="#ffffff" opacity="0.09"/>
<rect x="426.2" y="65.3" width="16.8" height="0.8" fill="#ffffff" opacity="0.08"/>
<rect x="426.2" y="66.3" width="20.6" height="0.8" fill="#d84858" opacity="0.15"/>
<rect x="426" y="67.3" width="16.3" height="0.8" fill="#ffffff" opacity="0.14"/>
<rect x="423.9" y="68.3" width="22" height="0.8" fill="#d84858" opacity="0.09"/>
<rect x="425.8" y="71.3" width="22" height="0.8" fill="#ffffff" opacity="0.13"/>
<rect x="425.2" y="72.3" width="18.1" height="0.8" fill="#ffffff" opacity="0.08"/>
<rect x="427.2" y="73.3" width="19.5" height="0.8" fill="#d84858" opacity="0.10"/>
<rect x="422.8" y="75.3" width="22.2" height="0.8" fill="#d84858" opacity="0.08"/>
<rect x="428.3" y="78.3" width="16.2" height="0.8" fill="#d84858" opacity="0.07"/>
<rect x="428.2" y="80.3" width="17.5" height="0.8" fill="#ffffff" opacity="0.12"/>
<rect x="423.4" y="81.3" width="21.5" height="0.8" fill="#d84858" opacity="0.10"/>
<rect x="423.7" y="82.3" width="22.4" height="0.8" fill="#d84858" opacity="0.06"/>
<rect x="426" y="84.3" width="22.2" height="0.8" fill="#d84858" opacity="0.07"/>
<rect x="428.5" y="85.3" width="18.4" height="0.8" fill="#d84858" opacity="0.07"/>
<rect x="428.7" y="86.3" width="18.4" height="0.8" fill="#d84858" opacity="0.09"/>
<rect x="427" y="89.3" width="15.3" height="0.8" fill="#ffffff" opacity="0.06"/>
<rect x="423.2" y="90.3" width="22.6" height="0.8" fill="#ffffff" opacity="0.15"/>
<rect x="430" y="91.3" width="13.5" height="0.8" fill="#ffffff" opacity="0.14"/>
<rect x="429.7" y="92.3" width="13.8" height="0.8" fill="#ffffff" opacity="0.12"/>
<rect x="427.9" y="93.3" width="14.9" height="0.8" fill="#d84858" opacity="0.11"/>
<rect x="424.9" y="94.3" width="22.8" height="0.8" fill="#ffffff" opacity="0.14"/>
<rect x="425.8" y="95.3" width="15.3" height="0.8" fill="#d84858" opacity="0.07"/>
<rect x="422.3" y="44.3" width="26" height="52" fill="none" stroke="#555" stroke-width="1.15"/>
<rect x="454.3" y="44.3" width="26" height="52" fill="url(#hb02)"/>
<rect x="454.3" y="44.3" width="26" height="52" fill="url(#vfade)"/>
<rect x="454.3" y="44.3" width="26" height="16" fill="url(#vtop)" opacity="0.45"/>
<g filter="url(#blr)">
<ellipse cx="468.1" cy="59.7" rx="4.2" ry="2.3" fill="#e04858" opacity="0.10"/>
<ellipse cx="467.9" cy="46.5" rx="3.1" ry="1.2" fill="#e04858" opacity="0.12"/>
<ellipse cx="462.6" cy="79.2" rx="3.2" ry="2.4" fill="#e04858" opacity="0.08"/>
<ellipse cx="467.3" cy="80" rx="4.5" ry="1.2" fill="#e04858" opacity="0.09"/>
<ellipse cx="468.7" cy="48" rx="4.6" ry="1.1" fill="#e04858" opacity="0.09"/>
<ellipse cx="468.9" cy="83" rx="3.3" ry="1.9" fill="#e04858" opacity="0.09"/>
<ellipse cx="467" cy="87.7" rx="4.4" ry="2" fill="#e04858" opacity="0.10"/>
<ellipse cx="470.4" cy="64.5" rx="4.2" ry="1.6" fill="#e04858" opacity="0.07"/>
<ellipse cx="469.5" cy="92.5" rx="3" ry="2.1" fill="#e04858" opacity="0.08"/>
<ellipse cx="464.1" cy="68.8" rx="3.6" ry="1.4" fill="#e04858" opacity="0.09"/>
<ellipse cx="469.4" cy="50" rx="3.2" ry="1.3" fill="#e04858" opacity="0.08"/>
<ellipse cx="467.7" cy="68.7" rx="4.3" ry="2.4" fill="#e04858" opacity="0.09"/>
<ellipse cx="467.5" cy="73.8" rx="2.7" ry="1.2" fill="#e04858" opacity="0.11"/>
<ellipse cx="466" cy="69.1" rx="2.7" ry="1.9" fill="#e04858" opacity="0.12"/>
<ellipse cx="467.4" cy="87.9" rx="3.8" ry="1.6" fill="#e04858" opacity="0.10"/>
<ellipse cx="467.5" cy="49.8" rx="4.5" ry="1.7" fill="#e04858" opacity="0.10"/>
<ellipse cx="468.7" cy="92.8" rx="2.6" ry="1.6" fill="#e04858" opacity="0.07"/>
<ellipse cx="466.6" cy="50.2" rx="4.9" ry="1.9" fill="#e04858" opacity="0.11"/>
<ellipse cx="469.7" cy="61.8" rx="4.4" ry="1.9" fill="#e04858" opacity="0.12"/>
<ellipse cx="468.8" cy="72.7" rx="4" ry="1.7" fill="#e04858" opacity="0.08"/>
<ellipse cx="469.3" cy="76" rx="2.8" ry="1.8" fill="#e04858" opacity="0.11"/>
<ellipse cx="466.5" cy="65.6" rx="3.4" ry="1.8" fill="#e04858" opacity="0.11"/>
</g>
<rect x="461.5" y="44.3" width="18" height="0.8" fill="#ffffff" opacity="0.06"/>
<rect x="461.4" y="45.3" width="18.6" height="0.8" fill="#ffffff" opacity="0.07"/>
<rect x="461.5" y="46.3" width="18.3" height="0.8" fill="#d84858" opacity="0.07"/>
<rect x="460.1" y="47.3" width="16.8" height="0.8" fill="#d84858" opacity="0.10"/>
<rect x="460.2" y="48.3" width="19.2" height="0.8" fill="#ffffff" opacity="0.09"/>
<rect x="461.1" y="50.3" width="17.9" height="0.8" fill="#d84858" opacity="0.14"/>
<rect x="455.6" y="51.3" width="23.6" height="0.8" fill="#d84858" opacity="0.12"/>
<rect x="455.3" y="52.3" width="21.4" height="0.8" fill="#d84858" opacity="0.06"/>
<rect x="454.6" y="53.3" width="23.2" height="0.8" fill="#d84858" opacity="0.11"/>
<rect x="457.5" y="55.3" width="15.9" height="0.8" fill="#ffffff" opacity="0.09"/>
<rect x="455.4" y="57.3" width="21.5" height="0.8" fill="#d84858" opacity="0.13"/>
<rect x="459.9" y="58.3" width="16.7" height="0.8" fill="#d84858" opacity="0.15"/>
<rect x="455.3" y="59.3" width="17.9" height="0.8" fill="#ffffff" opacity="0.16"/>
<rect x="461.6" y="60.3" width="18.4" height="0.8" fill="#d84858" opacity="0.06"/>
<rect x="457.9" y="62.3" width="18" height="0.8" fill="#ffffff" opacity="0.06"/>
<rect x="460.6" y="64.3" width="16.5" height="0.8" fill="#d84858" opacity="0.16"/>
<rect x="461.7" y="68.3" width="15.7" height="0.8" fill="#ffffff" opacity="0.10"/>
<rect x="458" y="70.3" width="18.8" height="0.8" fill="#ffffff" opacity="0.09"/>
<rect x="454.8" y="71.3" width="19.6" height="0.8" fill="#d84858" opacity="0.10"/>
<rect x="456.1" y="72.3" width="22.4" height="0.8" fill="#ffffff" opacity="0.12"/>
<rect x="457.2" y="73.3" width="20.6" height="0.8" fill="#ffffff" opacity="0.08"/>
<rect x="459.7" y="74.3" width="14.7" height="0.8" fill="#d84858" opacity="0.07"/>
<rect x="457.5" y="75.3" width="18.3" height="0.8" fill="#d84858" opacity="0.12"/>
<rect x="458.9" y="76.3" width="20.2" height="0.8" fill="#ffffff" opacity="0.09"/>
<rect x="456.3" y="78.3" width="22.5" height="0.8" fill="#d84858" opacity="0.16"/>
<rect x="461.7" y="80.3" width="18.3" height="0.8" fill="#ffffff" opacity="0.12"/>
<rect x="456.9" y="81.3" width="20.8" height="0.8" fill="#ffffff" opacity="0.12"/>
<rect x="454.9" y="82.3" width="23.8" height="0.8" fill="#ffffff" opacity="0.05"/>
<rect x="461.5" y="83.3" width="15.4" height="0.8" fill="#d84858" opacity="0.06"/>
<rect x="456.2" y="84.3" width="16.6" height="0.8" fill="#d84858" opacity="0.13"/>
<rect x="454.5" y="86.3" width="24.1" height="0.8" fill="#d84858" opacity="0.06"/>
<rect x="455.1" y="87.3" width="24" height="0.8" fill="#ffffff" opacity="0.06"/>
<rect x="460.5" y="89.3" width="14.5" height="0.8" fill="#d84858" opacity="0.09"/>
<rect x="456.3" y="90.3" width="19.4" height="0.8" fill="#d84858" opacity="0.12"/>
<rect x="461.2" y="93.3" width="18.5" height="0.8" fill="#d84858" opacity="0.11"/>
<rect x="460.4" y="94.3" width="16.3" height="0.8" fill="#ffffff" opacity="0.13"/>
<rect x="461.9" y="95.3" width="16.5" height="0.8" fill="#ffffff" opacity="0.05"/>
<rect x="454.3" y="44.3" width="26" height="52" fill="none" stroke="#555" stroke-width="1.15"/>
<rect x="390.5" y="100.2" width="26" height="52" fill="url(#hb10)"/>
<rect x="390.5" y="100.2" width="26" height="52" fill="url(#vfade)"/>
<rect x="390.5" y="100.2" width="26" height="16" fill="url(#vtop)" opacity="0.5"/>
<g filter="url(#blr)">
<ellipse cx="403.2" cy="143.8" rx="1.8" ry="1.8" fill="#e04858" opacity="0.07"/>
<ellipse cx="402" cy="123.5" rx="2.4" ry="1.8" fill="#e04858" opacity="0.11"/>
<ellipse cx="402.7" cy="145.2" rx="1.8" ry="2.4" fill="#e04858" opacity="0.09"/>
<ellipse cx="402.9" cy="106.8" rx="2.8" ry="1.9" fill="#e04858" opacity="0.08"/>
<ellipse cx="403.6" cy="126.7" rx="2" ry="2.4" fill="#e04858" opacity="0.12"/>
<ellipse cx="403.9" cy="108.2" rx="2" ry="2.3" fill="#e04858" opacity="0.11"/>
<ellipse cx="402.8" cy="137.2" rx="1.7" ry="2.2" fill="#e04858" opacity="0.07"/>
<ellipse cx="403.1" cy="135.7" rx="2.1" ry="2.5" fill="#e04858" opacity="0.09"/>
<ellipse cx="404.3" cy="104.9" rx="2.3" ry="1.1" fill="#e04858" opacity="0.09"/>
<ellipse cx="402.9" cy="103.1" rx="1.9" ry="1.8" fill="#e04858" opacity="0.09"/>
<ellipse cx="404.8" cy="133.7" rx="2.7" ry="2.4" fill="#e04858" opacity="0.09"/>
<ellipse cx="406.2" cy="124.5" rx="1.8" ry="2.2" fill="#e04858" opacity="0.09"/>
<ellipse cx="405.5" cy="136.8" rx="2.3" ry="2.4" fill="#e04858" opacity="0.07"/>
<ellipse cx="404.4" cy="140.9" rx="1.9" ry="1.5" fill="#e04858" opacity="0.07"/>
<ellipse cx="404.7" cy="114.6" rx="1.5" ry="2" fill="#e04858" opacity="0.13"/>
<ellipse cx="403.2" cy="149.3" rx="2.5" ry="1.3" fill="#e04858" opacity="0.10"/>
<ellipse cx="401.7" cy="111.9" rx="2.6" ry="1.9" fill="#e04858" opacity="0.10"/>
<ellipse cx="403.3" cy="111.8" rx="1.8" ry="1.2" fill="#e04858" opacity="0.08"/>
<ellipse cx="404.7" cy="140.7" rx="1.6" ry="1" fill="#e04858" opacity="0.08"/>
<ellipse cx="402.4" cy="108.7" rx="2.2" ry="1.6" fill="#e04858" opacity="0.10"/>
<ellipse cx="403.9" cy="112.1" rx="1.8" ry="1.6" fill="#e04858" opacity="0.10"/>
<ellipse cx="405.6" cy="145.6" rx="2.4" ry="1.5" fill="#e04858" opacity="0.10"/>
</g>
<rect x="395.7" y="100.2" width="20" height="0.8" fill="#ffffff" opacity="0.11"/>
<rect x="392.8" y="101.2" width="16.2" height="0.8" fill="#d84858" opacity="0.16"/>
<rect x="391.2" y="102.2" width="21.6" height="0.8" fill="#d84858" opacity="0.07"/>
<rect x="396.8" y="103.2" width="13.4" height="0.8" fill="#d84858" opacity="0.09"/>
<rect x="395.4" y="104.2" width="17.7" height="0.8" fill="#d84858" opacity="0.07"/>
<rect x="394.9" y="106.2" width="15.6" height="0.8" fill="#d84858" opacity="0.11"/>
<rect x="393.8" y="108.2" width="19.5" height="0.8" fill="#ffffff" opacity="0.16"/>
<rect x="394.5" y="110.2" width="15.2" height="0.8" fill="#ffffff" opacity="0.12"/>
<rect x="397.7" y="111.2" width="16.4" height="0.8" fill="#d84858" opacity="0.10"/>
<rect x="397.9" y="112.2" width="18.4" height="0.8" fill="#ffffff" opacity="0.10"/>
<rect x="390.9" y="114.2" width="21.3" height="0.8" fill="#d84858" opacity="0.06"/>
<rect x="395.2" y="115.2" width="14.9" height="0.8" fill="#d84858" opacity="0.09"/>
<rect x="393.4" y="117.2" width="15.6" height="0.8" fill="#d84858" opacity="0.11"/>
<rect x="392.8" y="118.2" width="17.6" height="0.8" fill="#ffffff" opacity="0.15"/>
<rect x="391.4" y="119.2" width="19.2" height="0.8" fill="#d84858" opacity="0.15"/>
<rect x="392.8" y="120.2" width="19.4" height="0.8" fill="#d84858" opacity="0.07"/>
<rect x="394.1" y="123.2" width="16.4" height="0.8" fill="#ffffff" opacity="0.12"/>
<rect x="397.4" y="124.2" width="12.9" height="0.8" fill="#ffffff" opacity="0.15"/>
<rect x="392.6" y="126.2" width="21.4" height="0.8" fill="#d84858" opacity="0.13"/>
<rect x="390.6" y="127.2" width="24.4" height="0.8" fill="#ffffff" opacity="0.12"/>
<rect x="394.5" y="128.2" width="16.1" height="0.8" fill="#d84858" opacity="0.14"/>
<rect x="394.1" y="129.2" width="15.5" height="0.8" fill="#d84858" opacity="0.08"/>
<rect x="393.5" y="130.2" width="18.5" height="0.8" fill="#d84858" opacity="0.06"/>
<rect x="393.7" y="131.2" width="18" height="0.8" fill="#d84858" opacity="0.15"/>
<rect x="398" y="134.2" width="16.3" height="0.8" fill="#d84858" opacity="0.14"/>
<rect x="397.1" y="135.2" width="14.6" height="0.8" fill="#d84858" opacity="0.14"/>
<rect x="391" y="136.2" width="18" height="0.8" fill="#ffffff" opacity="0.06"/>
<rect x="394.2" y="138.2" width="21.3" height="0.8" fill="#ffffff" opacity="0.06"/>
<rect x="395.5" y="139.2" width="13.9" height="0.8" fill="#d84858" opacity="0.08"/>
<rect x="398.2" y="141.2" width="17.6" height="0.8" fill="#d84858" opacity="0.10"/>
<rect x="392.5" y="142.2" width="19.6" height="0.8" fill="#d84858" opacity="0.15"/>
<rect x="392.1" y="143.2" width="23.7" height="0.8" fill="#d84858" opacity="0.15"/>
<rect x="397.8" y="145.2" width="16.7" height="0.8" fill="#ffffff" opacity="0.15"/>
<rect x="396.5" y="146.2" width="19.6" height="0.8" fill="#ffffff" opacity="0.09"/>
<rect x="390.5" y="100.2" width="26" height="52" fill="none" stroke="#555" stroke-width="1.15"/>
<rect x="422.3" y="100.2" width="26" height="52" fill="url(#hb11)"/>
<rect x="422.3" y="100.2" width="26" height="52" fill="url(#vfade)"/>
<rect x="422.3" y="100.2" width="26" height="16" fill="url(#vtop)" opacity="0.35"/>
<rect x="423.4" y="101.2" width="21.9" height="0.8" fill="#ffffff" opacity="0.06"/>
<rect x="424.5" y="103.2" width="16" height="0.8" fill="#ffffff" opacity="0.11"/>
<rect x="429.4" y="105.2" width="17.4" height="0.8" fill="#d84858" opacity="0.09"/>
<rect x="427.5" y="106.2" width="15" height="0.8" fill="#ffffff" opacity="0.15"/>
<rect x="422.7" y="107.2" width="21.7" height="0.8" fill="#d84858" opacity="0.06"/>
<rect x="424.1" y="109.2" width="17.2" height="0.8" fill="#d84858" opacity="0.12"/>
<rect x="429.6" y="110.2" width="17.3" height="0.8" fill="#d84858" opacity="0.11"/>
<rect x="429.6" y="111.2" width="12.9" height="0.8" fill="#ffffff" opacity="0.11"/>
<rect x="429.9" y="112.2" width="18.3" height="0.8" fill="#ffffff" opacity="0.06"/>
<rect x="427.1" y="114.2" width="13.5" height="0.8" fill="#d84858" opacity="0.10"/>
<rect x="425.9" y="115.2" width="19.1" height="0.8" fill="#ffffff" opacity="0.09"/>
<rect x="424.2" y="116.2" width="23" height="0.8" fill="#d84858" opacity="0.10"/>
<rect x="428.9" y="117.2" width="16.7" height="0.8" fill="#ffffff" opacity="0.08"/>
<rect x="426.6" y="118.2" width="18.2" height="0.8" fill="#d84858" opacity="0.15"/>
<rect x="429.8" y="119.2" width="13.3" height="0.8" fill="#d84858" opacity="0.16"/>
<rect x="427.8" y="121.2" width="18.4" height="0.8" fill="#d84858" opacity="0.15"/>
<rect x="422.8" y="122.2" width="19.4" height="0.8" fill="#d84858" opacity="0.12"/>
<rect x="423" y="124.2" width="20.2" height="0.8" fill="#ffffff" opacity="0.09"/>
<rect x="424.1" y="125.2" width="18.6" height="0.8" fill="#d84858" opacity="0.12"/>
<rect x="423" y="126.2" width="21.1" height="0.8" fill="#d84858" opacity="0.13"/>
<rect x="422.7" y="127.2" width="19.5" height="0.8" fill="#ffffff" opacity="0.15"/>
<rect x="424.8" y="128.2" width="19.7" height="0.8" fill="#d84858" opacity="0.13"/>
<rect x="427.6" y="129.2" width="17.7" height="0.8" fill="#ffffff" opacity="0.13"/>
<rect x="425.9" y="130.2" width="18" height="0.8" fill="#ffffff" opacity="0.09"/>
<rect x="425.3" y="131.2" width="22.4" height="0.8" fill="#d84858" opacity="0.10"/>
<rect x="423.1" y="132.2" width="20.3" height="0.8" fill="#d84858" opacity="0.15"/>
<rect x="425.1" y="133.2" width="19.3" height="0.8" fill="#d84858" opacity="0.15"/>
<rect x="427.9" y="134.2" width="12.7" height="0.8" fill="#d84858" opacity="0.09"/>
<rect x="426.8" y="135.2" width="18.1" height="0.8" fill="#d84858" opacity="0.14"/>
<rect x="423.3" y="136.2" width="22.7" height="0.8" fill="#ffffff" opacity="0.14"/>
<rect x="428.1" y="139.2" width="15.2" height="0.8" fill="#ffffff" opacity="0.15"/>
<rect x="429.5" y="140.2" width="16.4" height="0.8" fill="#ffffff" opacity="0.09"/>
<rect x="425.8" y="141.2" width="16.3" height="0.8" fill="#ffffff" opacity="0.05"/>
<rect x="425.9" y="142.2" width="20.9" height="0.8" fill="#ffffff" opacity="0.12"/>
<rect x="423" y="143.2" width="21.7" height="0.8" fill="#d84858" opacity="0.13"/>
<rect x="429.7" y="144.2" width="12.1" height="0.8" fill="#ffffff" opacity="0.14"/>
<rect x="428" y="145.2" width="14.5" height="0.8" fill="#ffffff" opacity="0.07"/>
<rect x="427.5" y="146.2" width="16.7" height="0.8" fill="#d84858" opacity="0.14"/>
<rect x="426.1" y="147.2" width="19.3" height="0.8" fill="#d84858" opacity="0.09"/>
<rect x="427.6" y="148.2" width="13" height="0.8" fill="#ffffff" opacity="0.14"/>
<rect x="425.4" y="149.2" width="15.5" height="0.8" fill="#d84858" opacity="0.11"/>
<rect x="426.3" y="150.2" width="15.8" height="0.8" fill="#ffffff" opacity="0.13"/>
<rect x="423.8" y="151.2" width="22.1" height="0.8" fill="#d84858" opacity="0.09"/>
<rect x="422.3" y="100.2" width="26" height="52" fill="none" stroke="#555" stroke-width="1.15"/>
<rect x="454.3" y="100.2" width="26" height="52" fill="url(#hb12)"/>
<rect x="454.3" y="100.2" width="26" height="52" fill="url(#vfade)"/>
<rect x="454.3" y="100.2" width="26" height="16" fill="url(#vtop)" opacity="0.4"/>
<rect x="456.1" y="100.2" width="16.9" height="0.8" fill="#d84858" opacity="0.16"/>
<rect x="459.3" y="101.2" width="17.6" height="0.8" fill="#ffffff" opacity="0.16"/>
<rect x="457" y="102.2" width="20.1" height="0.8" fill="#d84858" opacity="0.06"/>
<rect x="455.4" y="104.2" width="20.5" height="0.8" fill="#ffffff" opacity="0.16"/>
<rect x="456.9" y="105.2" width="21.9" height="0.8" fill="#ffffff" opacity="0.05"/>
<rect x="454.4" y="106.2" width="20.3" height="0.8" fill="#d84858" opacity="0.12"/>
<rect x="458.5" y="107.2" width="18.3" height="0.8" fill="#d84858" opacity="0.14"/>
<rect x="454.8" y="108.2" width="21.6" height="0.8" fill="#ffffff" opacity="0.16"/>
<rect x="456.2" y="109.2" width="16.6" height="0.8" fill="#d84858" opacity="0.06"/>
<rect x="457.7" y="112.2" width="20.3" height="0.8" fill="#d84858" opacity="0.08"/>
<rect x="456.5" y="113.2" width="20.1" height="0.8" fill="#d84858" opacity="0.13"/>
<rect x="455.1" y="114.2" width="23.8" height="0.8" fill="#ffffff" opacity="0.12"/>
<rect x="462" y="115.2" width="12.9" height="0.8" fill="#ffffff" opacity="0.08"/>
<rect x="461.5" y="116.2" width="14.1" height="0.8" fill="#ffffff" opacity="0.08"/>
<rect x="461" y="117.2" width="16.6" height="0.8" fill="#ffffff" opacity="0.09"/>
<rect x="460.9" y="118.2" width="14.5" height="0.8" fill="#d84858" opacity="0.05"/>
<rect x="459.5" y="120.2" width="20.3" height="0.8" fill="#ffffff" opacity="0.09"/>
<rect x="457.8" y="121.2" width="21" height="0.8" fill="#ffffff" opacity="0.12"/>
<rect x="454.9" y="123.2" width="23.5" height="0.8" fill="#d84858" opacity="0.13"/>
<rect x="457.5" y="124.2" width="20.3" height="0.8" fill="#d84858" opacity="0.07"/>
<rect x="455.1" y="125.2" width="18.9" height="0.8" fill="#d84858" opacity="0.14"/>
<rect x="458.5" y="126.2" width="20" height="0.8" fill="#d84858" opacity="0.10"/>
<rect x="456.6" y="129.2" width="18.5" height="0.8" fill="#ffffff" opacity="0.05"/>
<rect x="456.4" y="133.2" width="20.2" height="0.8" fill="#d84858" opacity="0.14"/>
<rect x="455.4" y="134.2" width="23.6" height="0.8" fill="#ffffff" opacity="0.13"/>
<rect x="461.6" y="135.2" width="11.1" height="0.8" fill="#ffffff" opacity="0.10"/>
<rect x="454.3" y="137.2" width="19.5" height="0.8" fill="#d84858" opacity="0.08"/>
<rect x="456.8" y="138.2" width="17.8" height="0.8" fill="#d84858" opacity="0.06"/>
<rect x="461" y="139.2" width="14.4" height="0.8" fill="#ffffff" opacity="0.08"/>
<rect x="460.2" y="140.2" width="16.1" height="0.8" fill="#ffffff" opacity="0.07"/>
<rect x="456.9" y="141.2" width="22.9" height="0.8" fill="#d84858" opacity="0.07"/>
<rect x="457.3" y="142.2" width="20.4" height="0.8" fill="#d84858" opacity="0.10"/>
<rect x="455.8" y="143.2" width="18.3" height="0.8" fill="#d84858" opacity="0.12"/>
<rect x="460.2" y="144.2" width="13.5" height="0.8" fill="#ffffff" opacity="0.10"/>
<rect x="459.8" y="146.2" width="18.6" height="0.8" fill="#d84858" opacity="0.13"/>
<rect x="454.5" y="147.2" width="20.7" height="0.8" fill="#d84858" opacity="0.06"/>
<rect x="454.6" y="150.2" width="24.2" height="0.8" fill="#ffffff" opacity="0.12"/>
<rect x="458.5" y="151.2" width="19.1" height="0.8" fill="#d84858" opacity="0.10"/>
<rect x="454.3" y="100.2" width="26" height="52" fill="none" stroke="#555" stroke-width="1.15"/>
<rect x="390.5" y="156.5" width="26" height="52" fill="url(#hb20)"/>
<rect x="390.5" y="156.5" width="26" height="16" fill="url(#vtop)" opacity="0.14"/>
<rect x="392.4" y="156.5" width="18.6" height="0.8" fill="#ffffff" opacity="0.11"/>
<rect x="392.6" y="159.5" width="20.5" height="0.8" fill="#ffffff" opacity="0.15"/>
<rect x="392.6" y="160.5" width="21.1" height="0.8" fill="#d84858" opacity="0.11"/>
<rect x="392.1" y="162.5" width="24.3" height="0.8" fill="#d84858" opacity="0.05"/>
<rect x="390.9" y="164.5" width="18.6" height="0.8" fill="#d84858" opacity="0.11"/>
<rect x="391.8" y="166.5" width="19.5" height="0.8" fill="#d84858" opacity="0.10"/>
<rect x="394.5" y="169.5" width="16.5" height="0.8" fill="#d84858" opacity="0.05"/>
<rect x="390.7" y="170.5" width="23.7" height="0.8" fill="#ffffff" opacity="0.10"/>
<rect x="390.9" y="171.5" width="22.4" height="0.8" fill="#d84858" opacity="0.16"/>
<rect x="392" y="172.5" width="19" height="0.8" fill="#ffffff" opacity="0.07"/>
<rect x="396.2" y="173.5" width="13.8" height="0.8" fill="#d84858" opacity="0.15"/>
<rect x="394.4" y="174.5" width="18.4" height="0.8" fill="#ffffff" opacity="0.06"/>
<rect x="394" y="176.5" width="19.3" height="0.8" fill="#d84858" opacity="0.10"/>
<rect x="392.4" y="177.5" width="18" height="0.8" fill="#d84858" opacity="0.08"/>
<rect x="392.9" y="178.5" width="21.7" height="0.8" fill="#d84858" opacity="0.07"/>
<rect x="398.1" y="179.5" width="11.8" height="0.8" fill="#ffffff" opacity="0.11"/>
<rect x="392.4" y="180.5" width="16.7" height="0.8" fill="#d84858" opacity="0.10"/>
<rect x="395.1" y="181.5" width="19.2" height="0.8" fill="#ffffff" opacity="0.07"/>
<rect x="397.4" y="183.5" width="18.2" height="0.8" fill="#d84858" opacity="0.12"/>
<rect x="397.6" y="184.5" width="12.5" height="0.8" fill="#ffffff" opacity="0.15"/>
<rect x="391" y="185.5" width="18" height="0.8" fill="#d84858" opacity="0.05"/>
<rect x="390.6" y="186.5" width="22" height="0.8" fill="#d84858" opacity="0.09"/>
<rect x="393.4" y="187.5" width="16.5" height="0.8" fill="#ffffff" opacity="0.15"/>
<rect x="395.3" y="189.5" width="18.4" height="0.8" fill="#ffffff" opacity="0.14"/>
<rect x="395.7" y="192.5" width="19" height="0.8" fill="#ffffff" opacity="0.06"/>
<rect x="393.2" y="193.5" width="21.8" height="0.8" fill="#ffffff" opacity="0.08"/>
<rect x="392.2" y="194.5" width="20.7" height="0.8" fill="#ffffff" opacity="0.09"/>
<rect x="391.2" y="196.5" width="18" height="0.8" fill="#ffffff" opacity="0.08"/>
<rect x="395.9" y="198.5" width="18.2" height="0.8" fill="#ffffff" opacity="0.12"/>
<rect x="391.9" y="199.5" width="17.6" height="0.8" fill="#d84858" opacity="0.08"/>
<rect x="392.7" y="201.5" width="21.1" height="0.8" fill="#d84858" opacity="0.13"/>
<rect x="392.8" y="203.5" width="17.4" height="0.8" fill="#ffffff" opacity="0.11"/>
<rect x="397" y="204.5" width="11.9" height="0.8" fill="#ffffff" opacity="0.13"/>
<rect x="391.2" y="207.5" width="21.9" height="0.8" fill="#d84858" opacity="0.11"/>
<rect x="390.5" y="156.5" width="26" height="52" fill="none" stroke="#555" stroke-width="1.15"/>
<rect x="422.3" y="156.5" width="26" height="52" fill="url(#hb21)"/>
<rect x="422.3" y="156.5" width="26" height="16" fill="url(#vtop)" opacity="0.14"/>
<g filter="url(#blr)">
<ellipse cx="436.1" cy="193" rx="1.5" ry="2.4" fill="#e04858" opacity="0.09"/>
<ellipse cx="435.6" cy="172.5" rx="2.8" ry="2.1" fill="#e04858" opacity="0.10"/>
<ellipse cx="434.4" cy="180.7" rx="2" ry="2.2" fill="#e04858" opacity="0.12"/>
<ellipse cx="435.7" cy="181" rx="2.1" ry="2.1" fill="#e04858" opacity="0.12"/>
<ellipse cx="435.7" cy="174.4" rx="2.4" ry="1.8" fill="#e04858" opacity="0.08"/>
<ellipse cx="436.8" cy="206.1" rx="1.5" ry="2.4" fill="#e04858" opacity="0.11"/>
<ellipse cx="434.1" cy="164.5" rx="2.1" ry="2.1" fill="#e04858" opacity="0.13"/>
<ellipse cx="435" cy="184.3" rx="2.7" ry="2" fill="#e04858" opacity="0.13"/>
<ellipse cx="434.5" cy="171.5" rx="2.8" ry="1.5" fill="#e04858" opacity="0.10"/>
<ellipse cx="435.4" cy="174.5" rx="1.8" ry="1.5" fill="#e04858" opacity="0.08"/>
<ellipse cx="434" cy="195.2" rx="2.3" ry="1.4" fill="#e04858" opacity="0.10"/>
<ellipse cx="436.8" cy="194.7" rx="2.4" ry="1.6" fill="#e04858" opacity="0.11"/>
<ellipse cx="435.6" cy="201.6" rx="2.3" ry="2" fill="#e04858" opacity="0.08"/>
<ellipse cx="435.2" cy="204.7" rx="2.7" ry="1.9" fill="#e04858" opacity="0.13"/>
<ellipse cx="434.9" cy="162.8" rx="2.6" ry="2.4" fill="#e04858" opacity="0.12"/>
<ellipse cx="435.6" cy="187.4" rx="2.3" ry="1.8" fill="#e04858" opacity="0.13"/>
<ellipse cx="437.5" cy="198.2" rx="2.9" ry="1.1" fill="#e04858" opacity="0.12"/>
<ellipse cx="435.3" cy="180.8" rx="1.9" ry="1.7" fill="#e04858" opacity="0.13"/>
<ellipse cx="434.8" cy="160.2" rx="2.2" ry="2.3" fill="#e04858" opacity="0.09"/>
<ellipse cx="437" cy="198" rx="1.9" ry="1.8" fill="#e04858" opacity="0.12"/>
<ellipse cx="435.2" cy="200.7" rx="1.9" ry="2.1" fill="#e04858" opacity="0.12"/>
<ellipse cx="435" cy="177" rx="2.8" ry="1.7" fill="#e04858" opacity="0.13"/>
</g>
<rect x="424.7" y="156.5" width="19.1" height="0.8" fill="#ffffff" opacity="0.07"/>
<rect x="428.1" y="157.5" width="19.1" height="0.8" fill="#ffffff" opacity="0.07"/>
<rect x="429.1" y="158.5" width="15.3" height="0.8" fill="#ffffff" opacity="0.14"/>
<rect x="426.2" y="159.5" width="20.3" height="0.8" fill="#d84858" opacity="0.10"/>
<rect x="426" y="160.5" width="16.9" height="0.8" fill="#d84858" opacity="0.09"/>
<rect x="427.2" y="161.5" width="14.1" height="0.8" fill="#ffffff" opacity="0.16"/>
<rect x="426.4" y="162.5" width="14.2" height="0.8" fill="#d84858" opacity="0.14"/>
<rect x="424.7" y="163.5" width="17.1" height="0.8" fill="#ffffff" opacity="0.11"/>
<rect x="424.3" y="164.5" width="16.6" height="0.8" fill="#d84858" opacity="0.08"/>
<rect x="427.8" y="165.5" width="14.5" height="0.8" fill="#ffffff" opacity="0.08"/>
<rect x="423.3" y="166.5" width="24.5" height="0.8" fill="#ffffff" opacity="0.07"/>
<rect x="428" y="167.5" width="15.9" height="0.8" fill="#ffffff" opacity="0.10"/>
<rect x="424.9" y="168.5" width="22.7" height="0.8" fill="#ffffff" opacity="0.13"/>
<rect x="428.5" y="169.5" width="19.4" height="0.8" fill="#ffffff" opacity="0.14"/>
<rect x="426.6" y="171.5" width="15.3" height="0.8" fill="#ffffff" opacity="0.15"/>
<rect x="427" y="172.5" width="18.5" height="0.8" fill="#d84858" opacity="0.12"/>
<rect x="424.3" y="173.5" width="18" height="0.8" fill="#d84858" opacity="0.06"/>
<rect x="424.7" y="174.5" width="19.6" height="0.8" fill="#ffffff" opacity="0.05"/>
<rect x="428.5" y="175.5" width="19.5" height="0.8" fill="#d84858" opacity="0.07"/>
<rect x="423.7" y="178.5" width="22.1" height="0.8" fill="#d84858" opacity="0.09"/>
<rect x="422.4" y="180.5" width="25.3" height="0.8" fill="#ffffff" opacity="0.14"/>
<rect x="423.9" y="182.5" width="21" height="0.8" fill="#ffffff" opacity="0.08"/>
<rect x="423.7" y="183.5" width="18.6" height="0.8" fill="#d84858" opacity="0.12"/>
<rect x="427" y="184.5" width="19.7" height="0.8" fill="#ffffff" opacity="0.12"/>
<rect x="425.8" y="185.5" width="21.6" height="0.8" fill="#d84858" opacity="0.06"/>
<rect x="425.2" y="186.5" width="20.1" height="0.8" fill="#ffffff" opacity="0.12"/>
<rect x="429.6" y="187.5" width="18.4" height="0.8" fill="#ffffff" opacity="0.11"/>
<rect x="427.4" y="190.5" width="18.7" height="0.8" fill="#ffffff" opacity="0.13"/>
<rect x="426" y="191.5" width="22.1" height="0.8" fill="#d84858" opacity="0.15"/>
<rect x="423.3" y="194.5" width="20.9" height="0.8" fill="#ffffff" opacity="0.13"/>
<rect x="429.9" y="195.5" width="13.4" height="0.8" fill="#d84858" opacity="0.09"/>
<rect x="428.9" y="196.5" width="13.6" height="0.8" fill="#d84858" opacity="0.06"/>
<rect x="428" y="198.5" width="17.7" height="0.8" fill="#d84858" opacity="0.11"/>
<rect x="424" y="199.5" width="24.1" height="0.8" fill="#ffffff" opacity="0.10"/>
<rect x="427.9" y="200.5" width="14.6" height="0.8" fill="#ffffff" opacity="0.07"/>
<rect x="429" y="201.5" width="15.3" height="0.8" fill="#d84858" opacity="0.06"/>
<rect x="427.2" y="202.5" width="17.3" height="0.8" fill="#d84858" opacity="0.09"/>
<rect x="424.8" y="203.5" width="19" height="0.8" fill="#ffffff" opacity="0.08"/>
<rect x="426" y="204.5" width="15" height="0.8" fill="#d84858" opacity="0.13"/>
<rect x="430" y="207.5" width="11.3" height="0.8" fill="#d84858" opacity="0.14"/>
<rect x="422.3" y="156.5" width="26" height="52" fill="none" stroke="#555" stroke-width="1.15"/>
<rect x="454.3" y="156.5" width="26" height="52" fill="url(#hb22)"/>
<rect x="454.3" y="156.5" width="26" height="16" fill="url(#vtop)" opacity="0.14"/>
<rect x="460" y="156.5" width="19.3" height="0.8" fill="#d84858" opacity="0.14"/>
<rect x="460.2" y="159.5" width="18.9" height="0.8" fill="#ffffff" opacity="0.08"/>
<rect x="458.1" y="161.5" width="19.4" height="0.8" fill="#ffffff" opacity="0.16"/>
<rect x="460.3" y="162.5" width="12.9" height="0.8" fill="#ffffff" opacity="0.06"/>
<rect x="461.6" y="163.5" width="11.5" height="0.8" fill="#d84858" opacity="0.15"/>
<rect x="459.8" y="164.5" width="14" height="0.8" fill="#ffffff" opacity="0.14"/>
<rect x="461" y="165.5" width="12.2" height="0.8" fill="#d84858" opacity="0.11"/>
<rect x="455.7" y="166.5" width="23" height="0.8" fill="#d84858" opacity="0.13"/>
<rect x="455.1" y="167.5" width="22.7" height="0.8" fill="#d84858" opacity="0.08"/>
<rect x="454.7" y="169.5" width="23.3" height="0.8" fill="#ffffff" opacity="0.10"/>
<rect x="455.6" y="173.5" width="20.9" height="0.8" fill="#d84858" opacity="0.13"/>
<rect x="462" y="176.5" width="14.3" height="0.8" fill="#ffffff" opacity="0.06"/>
<rect x="458.1" y="177.5" width="19.5" height="0.8" fill="#ffffff" opacity="0.11"/>
<rect x="456.3" y="178.5" width="16.6" height="0.8" fill="#d84858" opacity="0.08"/>
<rect x="457.5" y="179.5" width="18.2" height="0.8" fill="#ffffff" opacity="0.13"/>
<rect x="460" y="180.5" width="16.4" height="0.8" fill="#ffffff" opacity="0.12"/>
<rect x="461.7" y="183.5" width="13.6" height="0.8" fill="#d84858" opacity="0.13"/>
<rect x="458.4" y="185.5" width="21" height="0.8" fill="#d84858" opacity="0.16"/>
<rect x="457.3" y="186.5" width="21.5" height="0.8" fill="#d84858" opacity="0.13"/>
<rect x="459.7" y="188.5" width="15.2" height="0.8" fill="#ffffff" opacity="0.09"/>
<rect x="460.1" y="190.5" width="14.6" height="0.8" fill="#ffffff" opacity="0.12"/>
<rect x="459.1" y="191.5" width="19.2" height="0.8" fill="#ffffff" opacity="0.06"/>
<rect x="460.1" y="192.5" width="17.5" height="0.8" fill="#d84858" opacity="0.11"/>
<rect x="460.4" y="194.5" width="15.5" height="0.8" fill="#d84858" opacity="0.10"/>
<rect x="456.9" y="195.5" width="16.7" height="0.8" fill="#ffffff" opacity="0.16"/>
<rect x="462" y="196.5" width="17.8" height="0.8" fill="#d84858" opacity="0.15"/>
<rect x="454.7" y="198.5" width="23.9" height="0.8" fill="#ffffff" opacity="0.10"/>
<rect x="458.2" y="199.5" width="19.6" height="0.8" fill="#d84858" opacity="0.13"/>
<rect x="459.4" y="200.5" width="15.4" height="0.8" fill="#d84858" opacity="0.15"/>
<rect x="455.6" y="202.5" width="24.5" height="0.8" fill="#d84858" opacity="0.06"/>
<rect x="460.2" y="204.5" width="15.9" height="0.8" fill="#d84858" opacity="0.10"/>
<rect x="461.5" y="205.5" width="12.3" height="0.8" fill="#ffffff" opacity="0.16"/>
<rect x="455.5" y="206.5" width="20" height="0.8" fill="#ffffff" opacity="0.08"/>
<rect x="457" y="207.5" width="17.9" height="0.8" fill="#ffffff" opacity="0.05"/>
<rect x="454.3" y="156.5" width="26" height="52" fill="none" stroke="#555" stroke-width="1.15"/>
<rect x="390.5" y="213" width="26" height="52" fill="url(#hb30)"/>
<rect x="390.5" y="213" width="26" height="16" fill="url(#vtop)" opacity="0.14"/>
<rect x="397.7" y="215" width="11.8" height="0.8" fill="#ffffff" opacity="0.14"/>
<rect x="392.5" y="216" width="22.7" height="0.8" fill="#d84858" opacity="0.08"/>
<rect x="392.2" y="218" width="22.2" height="0.8" fill="#ffffff" opacity="0.07"/>
<rect x="398.2" y="221" width="12.2" height="0.8" fill="#d84858" opacity="0.06"/>
<rect x="396.1" y="222" width="18.1" height="0.8" fill="#d84858" opacity="0.13"/>
<rect x="397.2" y="223" width="12.3" height="0.8" fill="#d84858" opacity="0.05"/>
<rect x="393.3" y="224" width="16.2" height="0.8" fill="#d84858" opacity="0.13"/>
<rect x="398.3" y="226" width="15.9" height="0.8" fill="#ffffff" opacity="0.14"/>
<rect x="394.1" y="227" width="20.2" height="0.8" fill="#d84858" opacity="0.09"/>
<rect x="397.1" y="228" width="18.2" height="0.8" fill="#ffffff" opacity="0.13"/>
<rect x="394.2" y="229" width="20.8" height="0.8" fill="#ffffff" opacity="0.12"/>
<rect x="397.5" y="230" width="15.8" height="0.8" fill="#ffffff" opacity="0.16"/>
<rect x="397.1" y="231" width="16.3" height="0.8" fill="#ffffff" opacity="0.15"/>
<rect x="397.7" y="232" width="16" height="0.8" fill="#ffffff" opacity="0.08"/>
<rect x="392.2" y="234" width="22.2" height="0.8" fill="#ffffff" opacity="0.10"/>
<rect x="391.3" y="235" width="19.1" height="0.8" fill="#d84858" opacity="0.08"/>
<rect x="391.6" y="236" width="21.7" height="0.8" fill="#ffffff" opacity="0.10"/>
<rect x="396.6" y="237" width="18.9" height="0.8" fill="#ffffff" opacity="0.11"/>
<rect x="394.2" y="239" width="16.9" height="0.8" fill="#d84858" opacity="0.12"/>
<rect x="395.7" y="242" width="14.1" height="0.8" fill="#ffffff" opacity="0.14"/>
<rect x="396.8" y="243" width="16.7" height="0.8" fill="#ffffff" opacity="0.15"/>
<rect x="397.4" y="244" width="17.8" height="0.8" fill="#ffffff" opacity="0.07"/>
<rect x="394.2" y="246" width="20.2" height="0.8" fill="#ffffff" opacity="0.05"/>
<rect x="394.5" y="247" width="20.5" height="0.8" fill="#d84858" opacity="0.14"/>
<rect x="395.7" y="248" width="15.2" height="0.8" fill="#ffffff" opacity="0.09"/>
<rect x="397.8" y="249" width="13.7" height="0.8" fill="#ffffff" opacity="0.06"/>
<rect x="394.3" y="252" width="20.4" height="0.8" fill="#d84858" opacity="0.10"/>
<rect x="393.6" y="253" width="20.7" height="0.8" fill="#d84858" opacity="0.11"/>
<rect x="395.7" y="254" width="16" height="0.8" fill="#ffffff" opacity="0.14"/>
<rect x="397.9" y="255" width="17.2" height="0.8" fill="#ffffff" opacity="0.09"/>
<rect x="395.2" y="256" width="14.9" height="0.8" fill="#ffffff" opacity="0.16"/>
<rect x="394" y="257" width="17.3" height="0.8" fill="#d84858" opacity="0.15"/>
<rect x="396" y="258" width="14.2" height="0.8" fill="#d84858" opacity="0.13"/>
<rect x="396.4" y="259" width="19.9" height="0.8" fill="#ffffff" opacity="0.16"/>
<rect x="395.4" y="260" width="14" height="0.8" fill="#ffffff" opacity="0.13"/>
<rect x="395.4" y="261" width="17.7" height="0.8" fill="#ffffff" opacity="0.15"/>
<rect x="394.7" y="263" width="19.8" height="0.8" fill="#ffffff" opacity="0.12"/>
<rect x="392.2" y="264" width="23.8" height="0.8" fill="#ffffff" opacity="0.07"/>
<rect x="390.5" y="213" width="26" height="52" fill="none" stroke="#555" stroke-width="1.15"/>
<rect x="422.3" y="213" width="26" height="52" fill="url(#hb31)"/>
<rect x="422.3" y="213" width="26" height="16" fill="url(#vtop)" opacity="0.14"/>
<rect x="429.1" y="213" width="12.5" height="0.8" fill="#ffffff" opacity="0.11"/>
<rect x="424.1" y="216" width="19.4" height="0.8" fill="#ffffff" opacity="0.07"/>
<rect x="425.6" y="217" width="21" height="0.8" fill="#d84858" opacity="0.14"/>
<rect x="423.7" y="219" width="17.9" height="0.8" fill="#d84858" opacity="0.12"/>
<rect x="424.5" y="223" width="19.8" height="0.8" fill="#ffffff" opacity="0.07"/>
<rect x="428.6" y="224" width="16.4" height="0.8" fill="#ffffff" opacity="0.11"/>
<rect x="423.1" y="228" width="23.1" height="0.8" fill="#d84858" opacity="0.15"/>
<rect x="425.4" y="229" width="21.4" height="0.8" fill="#d84858" opacity="0.09"/>
<rect x="424.8" y="230" width="19.9" height="0.8" fill="#ffffff" opacity="0.06"/>
<rect x="429.7" y="232" width="18" height="0.8" fill="#ffffff" opacity="0.14"/>
<rect x="429.7" y="233" width="17.2" height="0.8" fill="#d84858" opacity="0.15"/>
<rect x="426.3" y="234" width="14.7" height="0.8" fill="#d84858" opacity="0.15"/>
<rect x="424.2" y="235" width="22.2" height="0.8" fill="#d84858" opacity="0.16"/>
<rect x="422.7" y="236" width="25.3" height="0.8" fill="#ffffff" opacity="0.10"/>
<rect x="426" y="237" width="17.5" height="0.8" fill="#ffffff" opacity="0.12"/>
<rect x="430.1" y="238" width="15.6" height="0.8" fill="#d84858" opacity="0.05"/>
<rect x="424" y="240" width="21.8" height="0.8" fill="#d84858" opacity="0.07"/>
<rect x="426" y="241" width="22" height="0.8" fill="#d84858" opacity="0.10"/>
<rect x="428" y="242" width="16.6" height="0.8" fill="#d84858" opacity="0.16"/>
<rect x="429.4" y="244" width="16.3" height="0.8" fill="#d84858" opacity="0.09"/>
<rect x="424.7" y="245" width="22.6" height="0.8" fill="#ffffff" opacity="0.05"/>
<rect x="423.5" y="246" width="21.7" height="0.8" fill="#ffffff" opacity="0.14"/>
<rect x="425.9" y="247" width="21.4" height="0.8" fill="#ffffff" opacity="0.05"/>
<rect x="426.9" y="251" width="14.6" height="0.8" fill="#d84858" opacity="0.07"/>
<rect x="426.3" y="254" width="21.4" height="0.8" fill="#d84858" opacity="0.11"/>
<rect x="424.7" y="255" width="18.1" height="0.8" fill="#d84858" opacity="0.06"/>
<rect x="427.5" y="256" width="15.2" height="0.8" fill="#ffffff" opacity="0.06"/>
<rect x="422.9" y="258" width="23.7" height="0.8" fill="#ffffff" opacity="0.11"/>
<rect x="425.7" y="260" width="16.1" height="0.8" fill="#d84858" opacity="0.11"/>
<rect x="428.6" y="261" width="14.6" height="0.8" fill="#d84858" opacity="0.10"/>
<rect x="429.9" y="262" width="13.2" height="0.8" fill="#ffffff" opacity="0.15"/>
<rect x="423" y="264" width="21.6" height="0.8" fill="#ffffff" opacity="0.13"/>
<rect x="422.3" y="213" width="26" height="52" fill="none" stroke="#555" stroke-width="1.15"/>
<rect x="454.3" y="213" width="26" height="52" fill="url(#hb32)"/>
<rect x="454.3" y="213" width="26" height="16" fill="url(#vtop)" opacity="0.14"/>
<g filter="url(#blr)">
<ellipse cx="466.2" cy="244.1" rx="2.9" ry="2.1" fill="#e04858" opacity="0.13"/>
<ellipse cx="466.4" cy="232.9" rx="3.1" ry="1.6" fill="#e04858" opacity="0.12"/>
<ellipse cx="465.8" cy="235.2" rx="2.1" ry="1.3" fill="#e04858" opacity="0.10"/>
<ellipse cx="465.9" cy="222.8" rx="3.2" ry="1.1" fill="#e04858" opacity="0.08"/>
<ellipse cx="468.7" cy="215.2" rx="1.8" ry="2" fill="#e04858" opacity="0.09"/>
<ellipse cx="470.4" cy="224.5" rx="2.8" ry="1" fill="#e04858" opacity="0.13"/>
<ellipse cx="464.7" cy="242.3" rx="2" ry="2" fill="#e04858" opacity="0.11"/>
<ellipse cx="468.6" cy="230.3" rx="2.4" ry="2.4" fill="#e04858" opacity="0.11"/>
<ellipse cx="467.9" cy="255.3" rx="2.6" ry="1.7" fill="#e04858" opacity="0.12"/>
<ellipse cx="465.8" cy="238.6" rx="1.9" ry="1.5" fill="#e04858" opacity="0.13"/>
<ellipse cx="468.2" cy="234" rx="3.2" ry="1.9" fill="#e04858" opacity="0.08"/>
<ellipse cx="467.8" cy="251.3" rx="2.1" ry="2.3" fill="#e04858" opacity="0.10"/>
<ellipse cx="466.7" cy="217.7" rx="2" ry="1.9" fill="#e04858" opacity="0.12"/>
<ellipse cx="466.8" cy="219.8" rx="2.7" ry="1.6" fill="#e04858" opacity="0.10"/>
<ellipse cx="466.5" cy="254.4" rx="3.2" ry="2.2" fill="#e04858" opacity="0.08"/>
<ellipse cx="465.2" cy="222.2" rx="3.2" ry="1.1" fill="#e04858" opacity="0.11"/>
<ellipse cx="468.1" cy="234" rx="2.1" ry="1.4" fill="#e04858" opacity="0.09"/>
<ellipse cx="466.6" cy="220" rx="2.4" ry="2.1" fill="#e04858" opacity="0.11"/>
<ellipse cx="465.8" cy="260.7" rx="3.1" ry="1.6" fill="#e04858" opacity="0.11"/>
<ellipse cx="467" cy="253.6" rx="2.4" ry="1.9" fill="#e04858" opacity="0.08"/>
<ellipse cx="468.9" cy="240.5" rx="2" ry="1.9" fill="#e04858" opacity="0.13"/>
<ellipse cx="467.5" cy="263" rx="1.9" ry="1.8" fill="#e04858" opacity="0.10"/>
</g>
<rect x="458.7" y="213" width="16.8" height="0.8" fill="#ffffff" opacity="0.13"/>
<rect x="461.7" y="214" width="11" height="0.8" fill="#ffffff" opacity="0.12"/>
<rect x="456.6" y="216" width="19" height="0.8" fill="#ffffff" opacity="0.10"/>
<rect x="454.8" y="217" width="22.1" height="0.8" fill="#d84858" opacity="0.07"/>
<rect x="457.3" y="218" width="16.8" height="0.8" fill="#d84858" opacity="0.14"/>
<rect x="459.1" y="219" width="19.7" height="0.8" fill="#d84858" opacity="0.06"/>
<rect x="456.4" y="220" width="19.5" height="0.8" fill="#d84858" opacity="0.12"/>
<rect x="456.7" y="221" width="16.7" height="0.8" fill="#d84858" opacity="0.05"/>
<rect x="459.7" y="222" width="14.3" height="0.8" fill="#d84858" opacity="0.09"/>
<rect x="456" y="223" width="17.2" height="0.8" fill="#ffffff" opacity="0.14"/>
<rect x="457.9" y="224" width="18.5" height="0.8" fill="#d84858" opacity="0.14"/>
<rect x="457.2" y="227" width="15.3" height="0.8" fill="#d84858" opacity="0.06"/>
<rect x="460.3" y="228" width="19.3" height="0.8" fill="#d84858" opacity="0.09"/>
<rect x="457.4" y="230" width="21.8" height="0.8" fill="#ffffff" opacity="0.10"/>
<rect x="457.7" y="231" width="16.1" height="0.8" fill="#d84858" opacity="0.06"/>
<rect x="460.8" y="232" width="12.5" height="0.8" fill="#ffffff" opacity="0.11"/>
<rect x="459" y="233" width="17.7" height="0.8" fill="#ffffff" opacity="0.11"/>
<rect x="457.2" y="234" width="17.1" height="0.8" fill="#d84858" opacity="0.08"/>
<rect x="454.6" y="235" width="18.4" height="0.8" fill="#ffffff" opacity="0.07"/>
<rect x="460.7" y="236" width="19.5" height="0.8" fill="#d84858" opacity="0.11"/>
<rect x="457.4" y="237" width="18.7" height="0.8" fill="#d84858" opacity="0.11"/>
<rect x="455.1" y="238" width="19.5" height="0.8" fill="#ffffff" opacity="0.16"/>
<rect x="462" y="239" width="17.3" height="0.8" fill="#ffffff" opacity="0.13"/>
<rect x="457.1" y="241" width="16.2" height="0.8" fill="#d84858" opacity="0.07"/>
<rect x="458.2" y="242" width="15.8" height="0.8" fill="#ffffff" opacity="0.06"/>
<rect x="454.4" y="243" width="22.2" height="0.8" fill="#ffffff" opacity="0.15"/>
<rect x="461.2" y="244" width="17.6" height="0.8" fill="#d84858" opacity="0.11"/>
<rect x="456" y="245" width="17.2" height="0.8" fill="#d84858" opacity="0.12"/>
<rect x="458.9" y="246" width="18.6" height="0.8" fill="#d84858" opacity="0.08"/>
<rect x="459.8" y="247" width="16.7" height="0.8" fill="#ffffff" opacity="0.11"/>
<rect x="459.2" y="248" width="17.7" height="0.8" fill="#d84858" opacity="0.05"/>
<rect x="461.3" y="250" width="11.8" height="0.8" fill="#ffffff" opacity="0.14"/>
<rect x="459.6" y="251" width="13.3" height="0.8" fill="#d84858" opacity="0.15"/>
<rect x="459" y="252" width="19.5" height="0.8" fill="#d84858" opacity="0.11"/>
<rect x="459.3" y="253" width="15.4" height="0.8" fill="#ffffff" opacity="0.09"/>
<rect x="455.2" y="254" width="17.6" height="0.8" fill="#ffffff" opacity="0.08"/>
<rect x="457.8" y="255" width="18.9" height="0.8" fill="#d84858" opacity="0.09"/>
<rect x="455.6" y="256" width="21.3" height="0.8" fill="#d84858" opacity="0.13"/>
<rect x="460.4" y="257" width="19" height="0.8" fill="#d84858" opacity="0.10"/>
<rect x="460.8" y="258" width="13.9" height="0.8" fill="#d84858" opacity="0.14"/>
<rect x="458.4" y="259" width="16.6" height="0.8" fill="#ffffff" opacity="0.09"/>
<rect x="457.7" y="261" width="22.6" height="0.8" fill="#ffffff" opacity="0.11"/>
<rect x="459" y="262" width="19.1" height="0.8" fill="#ffffff" opacity="0.12"/>
<rect x="457" y="264" width="22.4" height="0.8" fill="#ffffff" opacity="0.08"/>
<rect x="454.3" y="213" width="26" height="52" fill="none" stroke="#555" stroke-width="1.15"/>
<line x1="482.3" y1="44.3" x2="482.3" y2="96.3" stroke="#333" stroke-width="0.9"/>
<line x1="482.3" y1="44.3" x2="485" y2="44.3" stroke="#333" stroke-width="0.8"/>
<text x="486.3" y="45.9" font-size="4.4" fill="#777" stroke="#777" stroke-width="0.12">0</text>
<line x1="482.3" y1="53" x2="485" y2="53" stroke="#333" stroke-width="0.8"/>
<text x="486.3" y="54.6" font-size="4.4" fill="#777" stroke="#777" stroke-width="0.12">100</text>
<line x1="482.3" y1="61.6" x2="485" y2="61.6" stroke="#333" stroke-width="0.8"/>
<text x="486.3" y="63.2" font-size="4.4" fill="#777" stroke="#777" stroke-width="0.12">200</text>
<line x1="482.3" y1="70.3" x2="485" y2="70.3" stroke="#333" stroke-width="0.8"/>
<text x="486.3" y="71.9" font-size="4.4" fill="#777" stroke="#777" stroke-width="0.12">300</text>
<line x1="482.3" y1="79" x2="485" y2="79" stroke="#333" stroke-width="0.8"/>
<text x="486.3" y="80.6" font-size="4.4" fill="#777" stroke="#777" stroke-width="0.12">400</text>
<line x1="482.3" y1="87.6" x2="485" y2="87.6" stroke="#333" stroke-width="0.8"/>
<text x="486.3" y="89.2" font-size="4.4" fill="#777" stroke="#777" stroke-width="0.12">500</text>
<line x1="482.3" y1="96.3" x2="485" y2="96.3" stroke="#333" stroke-width="0.8"/>
<text x="486.3" y="97.9" font-size="4.4" fill="#777" stroke="#777" stroke-width="0.12">600</text>
<line x1="482.3" y1="100.2" x2="482.3" y2="152.2" stroke="#333" stroke-width="0.9"/>
<line x1="482.3" y1="100.2" x2="485" y2="100.2" stroke="#333" stroke-width="0.8"/>
<text x="486.3" y="101.8" font-size="4.4" fill="#777" stroke="#777" stroke-width="0.12">0</text>
<line x1="482.3" y1="108.9" x2="485" y2="108.9" stroke="#333" stroke-width="0.8"/>
<text x="486.3" y="110.5" font-size="4.4" fill="#777" stroke="#777" stroke-width="0.12">100</text>
<line x1="482.3" y1="117.5" x2="485" y2="117.5" stroke="#333" stroke-width="0.8"/>
<text x="486.3" y="119.1" font-size="4.4" fill="#777" stroke="#777" stroke-width="0.12">200</text>
<line x1="482.3" y1="126.2" x2="485" y2="126.2" stroke="#333" stroke-width="0.8"/>
<text x="486.3" y="127.8" font-size="4.4" fill="#777" stroke="#777" stroke-width="0.12">300</text>
<line x1="482.3" y1="134.9" x2="485" y2="134.9" stroke="#333" stroke-width="0.8"/>
<text x="486.3" y="136.5" font-size="4.4" fill="#777" stroke="#777" stroke-width="0.12">400</text>
<line x1="482.3" y1="143.5" x2="485" y2="143.5" stroke="#333" stroke-width="0.8"/>
<text x="486.3" y="145.1" font-size="4.4" fill="#777" stroke="#777" stroke-width="0.12">500</text>
<line x1="482.3" y1="152.2" x2="485" y2="152.2" stroke="#333" stroke-width="0.8"/>
<text x="486.3" y="153.8" font-size="4.4" fill="#777" stroke="#777" stroke-width="0.12">600</text>
<line x1="482.3" y1="156.5" x2="482.3" y2="208.5" stroke="#333" stroke-width="0.9"/>
<line x1="482.3" y1="156.5" x2="485" y2="156.5" stroke="#333" stroke-width="0.8"/>
<text x="486.3" y="158.1" font-size="4.4" fill="#777" stroke="#777" stroke-width="0.12">0</text>
<line x1="482.3" y1="165.2" x2="485" y2="165.2" stroke="#333" stroke-width="0.8"/>
<text x="486.3" y="166.8" font-size="4.4" fill="#777" stroke="#777" stroke-width="0.12">100</text>
<line x1="482.3" y1="173.8" x2="485" y2="173.8" stroke="#333" stroke-width="0.8"/>
<text x="486.3" y="175.4" font-size="4.4" fill="#777" stroke="#777" stroke-width="0.12">200</text>
<line x1="482.3" y1="182.5" x2="485" y2="182.5" stroke="#333" stroke-width="0.8"/>
<text x="486.3" y="184.1" font-size="4.4" fill="#777" stroke="#777" stroke-width="0.12">300</text>
<line x1="482.3" y1="191.2" x2="485" y2="191.2" stroke="#333" stroke-width="0.8"/>
<text x="486.3" y="192.8" font-size="4.4" fill="#777" stroke="#777" stroke-width="0.12">400</text>
<line x1="482.3" y1="199.8" x2="485" y2="199.8" stroke="#333" stroke-width="0.8"/>
<text x="486.3" y="201.4" font-size="4.4" fill="#777" stroke="#777" stroke-width="0.12">500</text>
<line x1="482.3" y1="208.5" x2="485" y2="208.5" stroke="#333" stroke-width="0.8"/>
<text x="486.3" y="210.1" font-size="4.4" fill="#777" stroke="#777" stroke-width="0.12">600</text>
<line x1="482.3" y1="213" x2="482.3" y2="265" stroke="#333" stroke-width="0.9"/>
<line x1="482.3" y1="213" x2="485" y2="213" stroke="#333" stroke-width="0.8"/>
<text x="486.3" y="214.6" font-size="4.4" fill="#777" stroke="#777" stroke-width="0.12">0</text>
<line x1="482.3" y1="221.7" x2="485" y2="221.7" stroke="#333" stroke-width="0.8"/>
<text x="486.3" y="223.3" font-size="4.4" fill="#777" stroke="#777" stroke-width="0.12">100</text>
<line x1="482.3" y1="230.3" x2="485" y2="230.3" stroke="#333" stroke-width="0.8"/>
<text x="486.3" y="231.9" font-size="4.4" fill="#777" stroke="#777" stroke-width="0.12">200</text>
<line x1="482.3" y1="239" x2="485" y2="239" stroke="#333" stroke-width="0.8"/>
<text x="486.3" y="240.6" font-size="4.4" fill="#777" stroke="#777" stroke-width="0.12">300</text>
<line x1="482.3" y1="247.7" x2="485" y2="247.7" stroke="#333" stroke-width="0.8"/>
<text x="486.3" y="249.3" font-size="4.4" fill="#777" stroke="#777" stroke-width="0.12">400</text>
<line x1="482.3" y1="256.3" x2="485" y2="256.3" stroke="#333" stroke-width="0.8"/>
<text x="486.3" y="257.9" font-size="4.4" fill="#777" stroke="#777" stroke-width="0.12">500</text>
<line x1="482.3" y1="265" x2="485" y2="265" stroke="#333" stroke-width="0.8"/>
<text x="486.3" y="266.6" font-size="4.4" fill="#777" stroke="#777" stroke-width="0.12">600</text>
<rect x="390.5" y="265.2" width="26" height="2" fill="#dcdcdc"/>
<line x1="390.5" y1="267.3" x2="416.5" y2="267.3" stroke="#444" stroke-width="1.1"/>
<line x1="390.8" y1="266.5" x2="390.8" y2="268.4" stroke="#444" stroke-width="0.8"/>
<line x1="416.2" y1="266.5" x2="416.2" y2="268.4" stroke="#444" stroke-width="0.8"/>
<text x="387" y="274.5" font-size="4.8" fill="#444" stroke="#444" stroke-width="0.12">−1k</text>
<text x="417.5" y="274.5" font-size="4.8" fill="#444" stroke="#444" stroke-width="0.12" text-anchor="end">1k</text>
<rect x="422.3" y="265.2" width="26" height="2" fill="#dcdcdc"/>
<line x1="422.3" y1="267.3" x2="448.3" y2="267.3" stroke="#444" stroke-width="1.1"/>
<line x1="422.6" y1="266.5" x2="422.6" y2="268.4" stroke="#444" stroke-width="0.8"/>
<line x1="448" y1="266.5" x2="448" y2="268.4" stroke="#444" stroke-width="0.8"/>
<text x="418.8" y="274.5" font-size="4.8" fill="#444" stroke="#444" stroke-width="0.12">−1k</text>
<text x="449.3" y="274.5" font-size="4.8" fill="#444" stroke="#444" stroke-width="0.12" text-anchor="end">1k</text>
<rect x="454.3" y="265.2" width="26" height="2" fill="#dcdcdc"/>
<line x1="454.3" y1="267.3" x2="480.3" y2="267.3" stroke="#444" stroke-width="1.1"/>
<line x1="454.6" y1="266.5" x2="454.6" y2="268.4" stroke="#444" stroke-width="0.8"/>
<line x1="480" y1="266.5" x2="480" y2="268.4" stroke="#444" stroke-width="0.8"/>
<text x="450.8" y="274.5" font-size="4.8" fill="#444" stroke="#444" stroke-width="0.12">−1k</text>
<text x="481.3" y="274.5" font-size="4.8" fill="#444" stroke="#444" stroke-width="0.12" text-anchor="end">1k</text>
<text x="435" y="28.5" font-size="8.0" fill="#222" stroke="#222" stroke-width="0.12" text-anchor="middle">H3K27ac</text>
<line x1="390.8" y1="32.8" x2="480" y2="32.8" stroke="#222" stroke-width="1.2"/>
<text x="403.8" y="41.3" font-size="6.6" fill="#55b04f" stroke="#55b04f" stroke-width="0.12" text-anchor="middle">GMP</text>
<text x="435.4" y="41.3" font-size="6.6" fill="#c8143c" stroke="#c8143c" stroke-width="0.12" text-anchor="middle">LSC</text>
<text x="467.1" y="41.3" font-size="6.6" fill="#f0a030" stroke="#f0a030" stroke-width="0.12" text-anchor="middle">mAML</text>
<text x="388.2" y="71.3" font-size="7.2" fill="#222" text-anchor="middle" font-weight="bold" transform="rotate(-90 388.2 71.3)" textLength="24.6" lengthAdjust="spacingAndGlyphs">Invariant</text>
<text x="388.2" y="127" font-size="7.2" fill="#222" text-anchor="middle" font-weight="bold" transform="rotate(-90 388.2 127)" textLength="34.6" lengthAdjust="spacingAndGlyphs">GMP-specific</text>
<text x="388.2" y="183.2" font-size="7.2" fill="#222" text-anchor="middle" font-weight="bold" transform="rotate(-90 388.2 183.2)" textLength="31.6" lengthAdjust="spacingAndGlyphs">LSC-specific</text>
<text x="388.2" y="238.8" font-size="7.2" fill="#222" text-anchor="middle" font-weight="bold" transform="rotate(-90 388.2 238.8)" textLength="36" lengthAdjust="spacingAndGlyphs">mAML-specific</text>
<line x1="52.8" y1="306" x2="52.8" y2="429.6" stroke="#222" stroke-width="1.1"/>
<line x1="52.3" y1="429" x2="235.8" y2="429" stroke="#222" stroke-width="1.1"/>
<line x1="50.8" y1="429" x2="52.8" y2="429" stroke="#222" stroke-width="0.9"/>
<text x="47.5" y="431.4" font-size="6.9" fill="#333" stroke="#333" stroke-width="0.12" text-anchor="end">0</text>
<line x1="52.8" y1="429" x2="52.8" y2="431" stroke="#222" stroke-width="0.9"/>
<text x="52.8" y="441" font-size="6.9" fill="#333" stroke="#333" stroke-width="0.12" text-anchor="middle">0</text>
<line x1="50.8" y1="398.9" x2="52.8" y2="398.9" stroke="#222" stroke-width="0.9"/>
<text x="47.5" y="401.3" font-size="6.9" fill="#333" stroke="#333" stroke-width="0.12" text-anchor="end">5</text>
<line x1="97.8" y1="429" x2="97.8" y2="431" stroke="#222" stroke-width="0.9"/>
<text x="97.8" y="441" font-size="6.9" fill="#333" stroke="#333" stroke-width="0.12" text-anchor="middle">5</text>
<line x1="50.8" y1="368.8" x2="52.8" y2="368.8" stroke="#222" stroke-width="0.9"/>
<text x="47.5" y="371.1" font-size="6.9" fill="#333" stroke="#333" stroke-width="0.12" text-anchor="end">10</text>
<line x1="142.8" y1="429" x2="142.8" y2="431" stroke="#222" stroke-width="0.9"/>
<text x="142.8" y="441" font-size="6.9" fill="#333" stroke="#333" stroke-width="0.12" text-anchor="middle">10</text>
<line x1="50.8" y1="338.6" x2="52.8" y2="338.6" stroke="#222" stroke-width="0.9"/>
<text x="47.5" y="341" font-size="6.9" fill="#333" stroke="#333" stroke-width="0.12" text-anchor="end">15</text>
<line x1="187.8" y1="429" x2="187.8" y2="431" stroke="#222" stroke-width="0.9"/>
<text x="187.8" y="441" font-size="6.9" fill="#333" stroke="#333" stroke-width="0.12" text-anchor="middle">15</text>
<line x1="50.8" y1="308.5" x2="52.8" y2="308.5" stroke="#222" stroke-width="0.9"/>
<text x="47.5" y="310.9" font-size="6.9" fill="#333" stroke="#333" stroke-width="0.12" text-anchor="end">20</text>
<line x1="232.8" y1="429" x2="232.8" y2="431" stroke="#222" stroke-width="0.9"/>
<text x="232.8" y="441" font-size="6.9" fill="#333" stroke="#333" stroke-width="0.12" text-anchor="middle">20</text>
<circle cx="60.8" cy="309.2" r="2.0" fill="#c8102e"/>
<text x="66.3" y="311.2" font-size="5.45" fill="#3a3a3a" stroke="#3a3a3a" stroke-width="0.05">LSC specific enhancers</text>
<circle cx="60.8" cy="318.2" r="2.0" fill="#3ca040"/>
<text x="66.3" y="320.2" font-size="5.45" fill="#3a3a3a" stroke="#3a3a3a" stroke-width="0.05">GMP specific enhancers</text>
<circle cx="60.8" cy="327.2" r="2.0" fill="#1b3566"/>
<text x="66.3" y="329.2" font-size="5.45" fill="#3a3a3a" stroke="#3a3a3a" stroke-width="0.05">Shared enhancers</text>
<circle cx="60.8" cy="336.2" r="2.0" fill="#c9c9c9"/>
<text x="66.3" y="338.2" font-size="5.45" fill="#3a3a3a" stroke="#3a3a3a" stroke-width="0.05">nonoverlap</text>
<text x="23.6" y="367.4" font-size="7.2" fill="#222" stroke="#222" stroke-width="0.12" text-anchor="middle" transform="rotate(-90 23.6 367.4)" textLength="39.5" lengthAdjust="spacingAndGlyphs">GMP expression</text>
<text x="33.5" y="368.8" font-size="7.0" fill="#222" stroke="#222" stroke-width="0.12" text-anchor="middle" transform="rotate(-90 33.5 368.8)" textLength="72" lengthAdjust="spacingAndGlyphs">log<tspan font-size="4.6" dy="1.6">2</tspan><tspan dy="-1.6"> (normalized read counts)</tspan></text>
<text x="88.2" y="452.5" font-size="7.9" fill="#222" stroke="#222" stroke-width="0.12" textLength="112" lengthAdjust="spacingAndGlyphs">LSC expression log<tspan font-size="5" dy="1.7">2</tspan><tspan dy="-1.7"> (normalized read counts)</tspan></text>
<path d="M103.0 383.3h0M168.6 342.7h0M94.8 387.3h0M94.9 380.0h0M101.6 384.3h0M82.1 373.9h0M160.1 349.5h0M141.7 354.5h0M136.2 365.2h0M102.0 384.1h0M88.7 388.3h0M169.1 367.9h0M73.5 370.4h0M159.2 350.1h0M64.2 400.7h0M118.4 373.6h0M114.4 374.1h0M111.8 427.5h0M105.3 381.1h0M114.3 372.4h0M140.2 360.1h0M132.6 350.1h0M92.2 387.6h0M158.3 350.5h0M165.4 346.4h0M154.3 352.8h0M134.7 362.9h0M140.8 361.2h0M156.2 371.5h0M154.7 350.9h0M181.7 372.0h0M94.7 385.0h0M167.7 368.6h0M73.5 381.7h0M189.0 353.5h0M130.2 364.4h0M117.7 372.3h0M107.1 377.2h0M151.9 353.5h0M117.8 372.2h0M133.4 362.7h0M156.0 352.0h0M85.6 387.3h0M153.2 352.6h0M97.4 370.1h0M158.8 349.4h0M78.4 396.5h0M131.5 365.1h0M89.5 390.2h0M141.0 360.9h0M105.9 381.9h0M162.3 346.0h0M116.2 375.6h0M161.1 348.9h0M113.3 367.8h0M86.5 390.7h0M73.5 389.4h0M121.5 372.6h0M120.6 372.4h0M104.7 409.9h0M101.7 375.8h0M88.2 381.9h0M137.2 357.1h0M157.1 350.8h0M106.1 377.8h0M163.7 341.4h0M129.8 401.5h0M141.2 360.3h0M128.1 367.0h0M101.3 383.5h0M138.3 364.3h0M64.2 374.6h0M120.1 374.5h0M122.5 372.3h0M136.0 383.9h0M70.8 398.7h0M150.2 352.2h0M111.4 378.5h0M89.8 389.7h0M148.9 354.4h0M113.0 376.2h0M119.0 375.5h0M163.9 346.6h0M95.2 387.0h0M149.8 353.1h0M142.3 354.6h0M91.0 386.0h0M84.7 391.1h0M82.9 390.4h0M176.7 356.4h0M121.5 373.0h0M160.5 346.2h0M100.7 381.2h0M78.1 388.2h0M104.5 377.2h0M131.3 368.4h0M149.8 351.2h0M98.6 374.0h0M90.7 389.1h0M128.8 369.1h0M107.3 379.2h0M110.8 370.9h0M106.5 378.5h0M168.0 341.6h0M142.1 360.5h0M157.0 348.6h0M135.0 355.7h0M80.1 393.1h0M128.8 369.4h0M58.8 401.5h0M140.6 361.5h0M144.9 359.9h0M95.2 386.6h0M141.3 361.8h0M84.0 389.2h0M148.1 356.9h0M166.4 344.0h0" stroke="#c9c9c9" stroke-width="2.70" stroke-linecap="round" fill="none"/>
<path d="M114.0 375.4h0M110.3 370.8h0M82.2 370.1h0M79.2 369.4h0M157.7 349.2h0M94.2 388.5h0M154.0 347.6h0M87.2 373.6h0M133.4 359.6h0M146.2 355.4h0M128.7 368.5h0M100.8 376.1h0M150.9 381.3h0M175.0 373.2h0M88.8 391.0h0M76.0 399.4h0M151.3 378.1h0M94.0 376.6h0M106.2 370.4h0M119.6 367.7h0M161.2 344.8h0M182.9 356.3h0M126.7 393.0h0M102.0 384.2h0M85.7 373.9h0M126.7 391.7h0M139.9 399.3h0M136.1 359.4h0M94.3 378.8h0M118.7 361.8h0M143.5 388.5h0M132.5 397.1h0M107.1 379.8h0M120.0 374.2h0M94.6 380.6h0M104.0 378.5h0M79.6 390.1h0M140.4 359.7h0M132.2 354.1h0M145.4 356.6h0M145.6 353.2h0M129.7 364.0h0M105.0 380.3h0M161.6 366.4h0M73.5 366.9h0M113.6 367.1h0M153.6 388.9h0M186.9 355.1h0M126.2 412.7h0M141.2 381.8h0M166.3 372.5h0M120.4 374.0h0M172.1 360.3h0M104.0 369.6h0M88.7 389.6h0M103.1 381.1h0M136.2 362.0h0M91.5 378.0h0M115.0 366.2h0M106.3 374.3h0M116.4 364.2h0M81.8 385.8h0M58.8 393.9h0M150.3 376.9h0M171.3 364.2h0M136.7 385.2h0M85.8 391.4h0M94.1 384.7h0M101.0 378.3h0M83.2 376.0h0M128.8 357.1h0M58.8 386.4h0M118.7 369.3h0M188.0 353.1h0M100.8 378.5h0M125.9 359.4h0M102.1 384.4h0M147.0 355.2h0M81.7 357.9h0M151.6 346.3h0M92.5 382.4h0M94.6 386.6h0M139.9 358.9h0M125.4 348.6h0M103.0 380.4h0M155.6 350.7h0M126.6 366.2h0M93.7 388.8h0M130.6 368.0h0M131.6 366.3h0M100.0 366.5h0M170.4 364.9h0" stroke="#3ca040" stroke-width="2.70" stroke-linecap="round" fill="none"/>
<path d="M186.2 354.0h0M126.2 368.0h0M191.6 350.1h0M84.5 385.7h0M125.9 368.4h0M190.4 351.1h0M123.8 358.9h0M171.6 361.2h0M169.1 363.8h0M153.9 371.9h0M140.7 357.7h0M156.1 421.0h0M175.7 357.4h0M160.0 377.1h0M130.9 362.1h0M82.4 394.8h0M88.8 382.3h0M165.7 368.8h0M101.9 363.2h0M165.5 345.4h0M164.3 372.7h0M189.5 349.2h0M192.4 356.3h0M180.6 357.4h0M145.5 353.3h0M135.6 358.1h0M181.5 398.6h0M171.0 365.1h0M137.7 406.4h0M82.4 389.0h0M100.4 375.1h0M175.8 359.3h0M91.8 370.2h0M184.2 355.8h0M103.8 410.1h0M142.1 356.1h0M101.5 373.0h0M146.1 350.0h0M166.5 363.8h0M136.2 358.0h0M150.5 389.8h0M106.1 372.2h0M178.6 356.8h0M139.8 387.6h0M166.8 388.3h0M163.6 366.7h0M155.9 370.3h0" stroke="#1b3566" stroke-width="2.70" stroke-linecap="round" fill="none"/>
<path d="M117.9 407.3h0M153.0 354.4h0M89.4 383.1h0M85.7 368.6h0M171.8 376.8h0M183.1 353.0h0M160.2 370.9h0M190.5 366.2h0M136.3 360.6h0M179.4 355.2h0M197.1 350.8h0M109.9 412.0h0M137.4 396.7h0M67.9 403.0h0M106.0 409.4h0M132.1 358.9h0M165.2 388.2h0M119.4 402.7h0M188.9 352.1h0M131.9 360.8h0M169.6 368.3h0M160.2 367.3h0M182.9 352.7h0M137.2 413.1h0M190.2 369.7h0M124.6 368.3h0M115.2 401.5h0M161.6 373.4h0M115.0 402.1h0M144.7 391.7h0M184.9 351.7h0M192.5 348.7h0M183.0 352.6h0M109.3 376.6h0M166.6 369.3h0M119.4 406.8h0M142.6 360.3h0M78.6 395.5h0M170.4 398.9h0M165.4 386.3h0M92.6 386.7h0M106.9 407.4h0M139.1 385.0h0M130.8 364.0h0M166.7 377.1h0M111.3 409.7h0M183.2 360.1h0M161.1 372.5h0M162.9 365.1h0M99.2 427.5h0M110.8 374.6h0M171.9 381.9h0M154.3 377.8h0M111.6 403.2h0M98.8 380.0h0M171.9 360.9h0M138.0 357.8h0M145.2 386.8h0M133.5 345.7h0M128.1 390.8h0M119.2 362.8h0M185.6 356.5h0M170.0 362.7h0M198.3 350.5h0M110.3 374.5h0M135.4 390.8h0M129.9 391.6h0M111.1 378.2h0M144.7 358.7h0M93.4 385.1h0M149.2 380.4h0M123.4 401.9h0M168.1 363.1h0M166.6 364.1h0M129.7 390.2h0M150.3 383.6h0M136.5 386.9h0M128.4 361.8h0M148.0 377.9h0M93.8 380.1h0M124.4 421.3h0M101.0 427.5h0M159.8 346.3h0M125.6 366.5h0M78.9 370.1h0M124.0 400.2h0M128.0 393.3h0M150.7 373.3h0M148.3 355.4h0M147.4 384.2h0M144.5 391.5h0M158.0 377.0h0M162.0 343.0h0M147.3 378.3h0M100.8 370.7h0M132.6 394.0h0M188.9 360.8h0M164.7 366.1h0M119.7 397.9h0M115.0 406.3h0M107.5 361.9h0M146.7 358.2h0M101.3 412.9h0M140.0 388.7h0M152.3 384.9h0M146.6 352.5h0M159.5 373.5h0M84.1 391.3h0M134.4 385.5h0M156.6 391.3h0M152.5 375.9h0M141.1 383.3h0M107.3 412.8h0M93.0 366.7h0M161.7 366.9h0M149.0 356.3h0M103.3 413.1h0M107.8 412.9h0M118.7 398.4h0M84.8 387.1h0M150.6 414.0h0M163.9 367.9h0M129.8 396.1h0M147.3 352.0h0M103.7 382.1h0M141.1 353.7h0M124.7 364.8h0M118.3 363.5h0M135.9 356.5h0M184.7 355.8h0M132.2 396.3h0M70.8 376.2h0M80.3 385.8h0M168.5 366.3h0M124.6 408.0h0M155.0 390.2h0M132.9 401.3h0M174.5 361.3h0M113.2 413.1h0M111.5 421.3h0M127.5 391.3h0M95.6 380.6h0M175.1 370.1h0M120.5 398.8h0M135.3 388.5h0M142.1 381.6h0M144.3 380.2h0M181.4 362.9h0M97.1 370.8h0M165.0 367.0h0M108.0 372.9h0M148.4 378.8h0M142.6 398.5h0M140.4 403.5h0M122.2 404.9h0M157.8 384.5h0M195.5 394.5h0M141.1 390.2h0M156.9 386.0h0M198.5 348.4h0M127.5 414.5h0M149.3 377.6h0M152.7 407.0h0M117.5 400.9h0M89.1 380.2h0M106.6 377.1h0M92.7 387.1h0M124.0 394.9h0M105.4 412.5h0M114.8 375.8h0M156.4 373.3h0M191.4 355.2h0M143.0 380.4h0M134.3 349.3h0M123.5 409.7h0M83.6 383.2h0M157.4 381.8h0M109.1 412.1h0M177.0 358.6h0M127.2 357.9h0M104.1 413.7h0M138.7 352.8h0M175.8 357.0h0M152.8 384.9h0M171.2 359.9h0M138.9 389.8h0M96.7 374.9h0M103.0 410.8h0M136.6 357.1h0M141.0 381.9h0M176.0 366.1h0M94.0 386.8h0M161.9 394.5h0M108.7 412.0h0M135.5 387.6h0M161.0 375.9h0M116.1 359.2h0M104.1 380.4h0M149.2 402.5h0M140.7 387.4h0M157.3 368.7h0M149.8 388.2h0M115.7 402.0h0M58.8 379.1h0M137.6 364.7h0M91.4 387.8h0M93.7 366.5h0M170.3 360.6h0M113.0 401.9h0M150.7 354.2h0M164.0 367.3h0M134.7 402.3h0M172.9 386.5h0M122.5 365.5h0M106.8 417.6h0M73.5 400.7h0M120.9 360.7h0M118.9 398.6h0M140.5 393.7h0M176.9 361.0h0M119.7 369.0h0M83.3 393.5h0M140.3 390.0h0M114.3 404.6h0M198.6 347.6h0M149.6 385.8h0M165.3 368.8h0M91.0 389.8h0M121.8 395.7h0M140.1 358.3h0M140.2 359.7h0M118.7 400.1h0M141.3 387.1h0M142.5 354.4h0M150.7 373.9h0M165.3 384.6h0M122.7 368.5h0M163.8 365.1h0M150.2 354.0h0M129.3 365.0h0M179.2 356.2h0M106.7 410.7h0M116.1 399.8h0M158.7 345.4h0M127.8 392.6h0M139.4 384.2h0M99.9 372.5h0M103.2 410.7h0M114.4 404.7h0M133.3 391.8h0M125.2 396.4h0M150.7 416.6h0M146.3 351.8h0M175.2 372.0h0M94.1 386.7h0M167.2 366.9h0M109.7 412.2h0M94.2 421.3h0M166.0 365.8h0M122.6 394.9h0M148.3 375.0h0M122.0 412.1h0M153.3 372.6h0M189.1 349.2h0M152.5 347.7h0M133.7 391.7h0M178.3 356.3h0M134.3 363.5h0M129.5 404.0h0M133.8 386.7h0M126.7 407.1h0M148.8 388.0h0M161.6 368.0h0M143.0 352.2h0M123.7 395.2h0M132.8 391.0h0M179.0 364.5h0M162.4 366.4h0M174.2 359.4h0M169.1 374.4h0M154.3 372.5h0M178.5 356.0h0M129.4 388.8h0M146.1 382.2h0M131.0 363.3h0M118.9 373.3h0M107.0 409.2h0M129.1 392.6h0M167.7 363.6h0M177.1 365.1h0M170.3 360.5h0M134.2 404.0h0M147.9 386.0h0M163.7 344.5h0M127.8 412.1h0M115.7 403.4h0M88.8 371.7h0M108.2 373.2h0M185.9 360.5h0M101.9 371.5h0M141.8 390.7h0M159.8 376.0h0M186.5 353.3h0M131.4 401.3h0M151.6 354.4h0M107.5 371.9h0M163.9 365.9h0M140.0 388.6h0M84.5 370.7h0M126.8 395.0h0M166.5 345.0h0M123.1 395.7h0M136.1 390.3h0M153.3 385.0h0M123.4 400.2h0M141.7 386.3h0M108.7 413.9h0M139.1 408.6h0M167.0 363.4h0M197.8 350.3h0M147.6 352.9h0M101.0 377.9h0M192.7 350.5h0M163.3 367.2h0M181.9 353.8h0M159.1 380.7h0M117.7 375.9h0M105.0 413.8h0M119.2 412.3h0M174.1 359.9h0M184.0 357.5h0M169.0 361.9h0M131.8 362.1h0M166.1 364.2h0M167.0 365.8h0M125.4 393.5h0M133.5 361.6h0M185.7 365.5h0M147.5 349.3h0M139.0 398.0h0M182.6 395.4h0M148.2 354.2h0M144.8 377.7h0M145.1 353.5h0M160.8 344.6h0M157.0 398.9h0M89.4 390.4h0M89.0 391.1h0" stroke="#c8102e" stroke-width="2.70" stroke-linecap="round" fill="none"/>
<path d="M149.3 382.4h0M126.6 369.9h0M107.1 377.8h0M97.6 384.7h0M83.6 389.1h0M79.0 382.1h0M167.3 386.7h0M150.1 353.7h0M161.6 345.0h0M105.5 378.8h0M127.3 399.6h0M162.7 347.2h0M79.8 382.0h0M168.7 344.1h0M105.4 381.2h0M108.3 380.6h0M124.2 369.8h0M135.8 398.9h0M88.3 390.3h0M187.5 366.6h0M167.9 341.0h0M187.9 360.6h0M70.8 372.1h0M108.9 380.4h0M155.6 379.5h0M93.3 389.2h0M122.7 399.3h0M159.2 345.9h0M112.0 377.3h0M76.0 376.7h0M134.1 363.7h0M171.2 366.1h0M135.0 360.4h0M123.2 371.5h0M170.1 363.0h0M99.4 373.9h0M89.1 388.0h0M95.3 375.4h0M141.1 350.9h0M127.7 395.3h0M100.3 382.9h0M143.7 357.7h0M198.4 348.3h0M150.4 400.2h0M116.2 399.3h0M163.7 386.3h0M160.3 367.6h0M149.5 356.0h0M160.8 371.6h0M157.4 349.9h0M136.4 365.4h0M146.7 357.5h0M94.2 364.8h0M189.7 352.4h0M140.3 361.3h0M105.4 382.2h0M125.3 370.4h0M187.5 351.6h0M128.1 369.8h0M169.4 371.4h0M115.8 374.9h0M83.2 392.0h0M91.6 388.7h0M103.8 380.2h0M126.0 359.4h0M92.1 388.6h0M150.1 353.2h0M136.3 364.8h0M58.8 371.1h0M166.5 345.6h0M140.5 361.6h0M98.2 384.2h0M99.5 381.6h0M89.3 388.9h0M98.5 421.3h0M188.4 369.6h0M136.1 364.4h0M147.8 355.3h0M113.9 377.7h0M100.8 382.4h0M130.5 396.3h0M162.6 346.6h0M146.2 357.3h0M111.8 408.0h0M107.4 374.5h0M94.2 371.6h0M140.3 356.7h0M85.7 360.6h0M129.2 357.2h0M104.2 380.9h0M142.5 379.7h0M114.1 375.7h0M158.4 348.1h0M98.5 356.9h0M173.4 358.6h0M91.4 388.9h0M164.5 343.9h0M135.3 361.8h0M120.9 358.5h0M157.7 347.0h0M154.9 349.0h0M167.1 345.4h0M155.7 351.4h0M130.1 368.7h0M91.2 389.0h0M152.9 349.8h0M162.2 348.4h0M85.7 389.0h0M130.6 365.1h0M119.5 399.1h0M154.0 350.2h0M130.0 362.6h0" stroke="#c9c9c9" stroke-width="2.70" stroke-linecap="round" fill="none"/>
<path d="M132.5 361.0h0M133.1 360.6h0M113.1 369.5h0M115.8 364.1h0M144.0 382.7h0M161.9 371.7h0M95.8 375.7h0M117.5 364.0h0M82.6 388.1h0M120.3 367.5h0M119.5 373.7h0M108.0 368.8h0M151.1 351.6h0M130.2 356.0h0M86.7 386.2h0M98.8 371.7h0M117.4 374.7h0M77.7 382.7h0M90.8 384.5h0M153.7 350.1h0M163.0 338.5h0M129.9 358.6h0M149.0 352.3h0M168.5 344.1h0M140.9 400.3h0M92.4 373.9h0M82.9 383.3h0M151.3 349.6h0M147.3 400.8h0M64.2 396.6h0M88.9 380.1h0M82.4 392.8h0M128.4 362.9h0M145.9 358.5h0M146.2 377.7h0M132.5 360.0h0M147.5 351.7h0M110.2 370.5h0M86.6 376.0h0M168.0 363.6h0M84.8 388.9h0M99.4 383.2h0M102.5 377.2h0M141.2 384.3h0M106.9 378.3h0M96.0 378.2h0M168.0 345.4h0M100.9 371.3h0M129.2 366.6h0M137.1 390.0h0M133.8 355.0h0M161.9 348.3h0M118.8 372.8h0M80.6 393.0h0M133.8 366.3h0M121.5 353.0h0M129.4 368.7h0M70.8 383.6h0M125.6 363.1h0M103.3 412.3h0M85.5 366.9h0M162.1 343.3h0M108.2 372.2h0M89.3 374.9h0M94.0 358.5h0M93.3 376.4h0M91.6 386.7h0M169.5 340.9h0M87.2 392.3h0M134.1 386.5h0M124.1 400.9h0M76.0 373.5h0M125.4 359.0h0M86.3 388.1h0M136.8 354.7h0M138.9 383.3h0M106.2 378.6h0M105.8 375.0h0M131.8 390.3h0M90.0 379.7h0M138.5 355.9h0M116.2 373.3h0M158.6 367.7h0M120.2 404.8h0M126.4 358.5h0M121.0 363.3h0M102.8 360.4h0M81.8 391.4h0M140.5 354.8h0M116.7 366.5h0M158.3 370.2h0M161.6 369.2h0M166.2 364.4h0" stroke="#3ca040" stroke-width="2.70" stroke-linecap="round" fill="none"/>
<path d="M180.5 361.5h0M157.6 419.5h0M110.5 406.3h0M185.7 359.6h0M97.4 368.1h0M164.9 368.9h0M142.1 381.6h0M113.0 372.1h0M150.4 382.5h0M108.7 368.6h0M173.0 397.5h0M181.8 357.7h0M138.2 384.9h0M194.9 352.0h0M164.2 414.8h0M123.8 371.5h0M133.2 359.3h0M85.4 388.3h0M138.6 352.8h0M80.5 382.3h0M187.8 363.8h0M127.9 359.9h0M180.3 360.4h0M105.4 377.0h0M188.8 351.8h0M76.0 369.8h0M190.4 350.7h0M98.7 377.9h0M198.9 420.3h0M167.2 386.3h0M187.3 371.6h0M171.9 365.4h0M103.6 380.9h0M176.9 378.9h0M90.8 380.1h0M147.1 352.0h0M184.0 387.7h0M138.6 406.4h0M142.8 352.8h0M84.5 385.8h0M160.9 368.4h0M93.8 427.5h0M194.7 353.2h0M166.1 343.6h0M151.6 414.1h0M93.3 388.3h0M110.3 367.3h0M104.6 374.1h0M118.0 407.2h0M73.5 374.1h0M148.2 416.2h0M175.4 358.6h0M167.3 365.7h0M98.6 376.5h0" stroke="#1b3566" stroke-width="2.70" stroke-linecap="round" fill="none"/>
<path d="M155.6 341.2h0M147.5 390.7h0M143.3 351.4h0M167.0 374.6h0M130.1 405.9h0M142.9 397.4h0M88.0 370.6h0M165.1 366.1h0M143.6 384.2h0M108.6 406.1h0M97.2 375.8h0M143.6 358.2h0M77.7 385.1h0M151.9 381.5h0M143.8 394.9h0M191.2 355.2h0M136.8 407.9h0M163.8 369.6h0M97.3 427.5h0M112.7 407.2h0M102.2 413.5h0M136.4 396.0h0M103.5 413.5h0M168.2 366.0h0M67.9 370.1h0M110.2 410.4h0M141.8 352.9h0M92.3 387.9h0M162.5 365.2h0M158.2 375.3h0M189.0 349.5h0M102.2 379.1h0M102.6 411.3h0M193.4 347.9h0M149.2 376.5h0M145.6 381.0h0M164.3 386.2h0M155.5 388.2h0M110.3 377.4h0M121.1 396.8h0M165.8 385.5h0M196.8 420.4h0M132.5 390.7h0M153.9 374.6h0M97.3 379.6h0M136.4 388.0h0M193.6 347.5h0M81.4 370.9h0M113.0 412.2h0M103.6 379.2h0M58.8 397.9h0M160.5 371.2h0M170.9 361.7h0M124.7 392.6h0M116.0 400.2h0M165.8 369.6h0M97.0 377.9h0M104.9 375.7h0M70.8 380.4h0M120.3 417.6h0M137.4 421.3h0M137.4 384.5h0M114.5 406.2h0M103.9 412.5h0M192.6 357.1h0M132.0 427.5h0M108.1 376.3h0M125.2 362.0h0M177.5 358.1h0M126.2 399.5h0M163.5 378.3h0M128.1 403.1h0M190.8 357.1h0M194.3 365.8h0M81.0 385.9h0M143.4 384.2h0M79.2 381.1h0M155.8 352.5h0M194.2 352.8h0M124.1 397.4h0M81.7 380.9h0M73.5 378.3h0M143.9 382.2h0M156.2 381.5h0M166.5 363.3h0M164.6 369.6h0M110.0 427.5h0M122.8 358.7h0M107.9 410.8h0M167.0 394.2h0M169.7 374.5h0M188.2 355.1h0M173.4 358.7h0M140.4 385.8h0M169.1 370.7h0M118.5 410.5h0M116.1 402.0h0M145.3 388.8h0M157.5 349.0h0M170.0 366.4h0M126.4 391.7h0M145.9 354.0h0M181.4 354.5h0M139.4 407.7h0M104.6 427.5h0M150.6 353.6h0M139.8 413.4h0M116.6 411.5h0M141.6 380.9h0M113.2 408.4h0M137.6 382.7h0M127.4 404.7h0M78.3 374.7h0M122.7 371.4h0M136.4 384.6h0M144.1 387.0h0M166.5 363.8h0M106.1 378.5h0M103.0 377.1h0M161.9 371.3h0M195.4 352.1h0M140.9 392.8h0M116.6 404.8h0M132.2 413.5h0M73.5 397.6h0M136.5 355.6h0M111.2 411.8h0M116.8 402.8h0M184.3 368.2h0M120.9 399.3h0M160.6 370.5h0M58.8 404.7h0M197.4 353.6h0M149.1 379.2h0M101.2 376.0h0M127.6 391.6h0M161.0 388.3h0M170.7 365.5h0M183.6 353.3h0M164.2 372.6h0M129.9 395.8h0M164.9 373.0h0M175.6 357.2h0M136.1 385.6h0M143.7 378.1h0M161.7 342.4h0M133.7 390.9h0M154.5 384.4h0M161.0 372.3h0M125.1 371.4h0M138.8 392.3h0M162.0 373.5h0M166.9 362.7h0M134.3 389.4h0M103.0 410.5h0M122.4 396.0h0M171.1 362.0h0M100.2 373.6h0M102.3 383.2h0M156.6 382.0h0M108.2 427.5h0M163.5 365.8h0M131.4 402.9h0M154.9 371.8h0M118.9 414.5h0M125.2 371.1h0M115.7 400.9h0M143.5 385.5h0M173.2 360.1h0M156.2 371.0h0M107.8 414.2h0M114.5 409.2h0M143.4 407.2h0M131.6 360.6h0M109.4 405.3h0M76.0 391.8h0M156.6 395.1h0M117.8 401.2h0M152.7 373.3h0M163.3 365.6h0M193.3 353.1h0M148.0 391.8h0M131.9 366.2h0M123.0 367.4h0M185.6 364.9h0M106.4 427.5h0M96.5 384.1h0M136.8 345.0h0M154.2 378.1h0M120.5 371.8h0M195.7 347.2h0M107.5 368.6h0M103.9 410.3h0M180.7 357.0h0M196.3 347.2h0M111.6 373.7h0M106.8 411.7h0M146.6 389.8h0M104.8 409.2h0M149.6 387.1h0M133.7 393.0h0M143.3 378.6h0M146.2 387.6h0M169.2 362.9h0M187.4 359.0h0M110.2 412.9h0M151.9 375.1h0M125.6 396.8h0M182.1 363.5h0M127.0 362.3h0M128.2 396.1h0M160.8 371.0h0M187.7 351.1h0M153.4 390.1h0M167.5 372.5h0M116.3 403.2h0M161.7 368.4h0M140.7 384.6h0M189.5 350.5h0M182.8 355.6h0M150.1 351.6h0M197.4 346.8h0M142.7 390.9h0M150.2 385.2h0M120.2 372.8h0M139.4 383.0h0M115.8 421.3h0M97.7 371.9h0M149.2 374.2h0M120.0 399.4h0M141.9 381.6h0M142.3 386.2h0M94.0 365.5h0M149.3 390.0h0M139.2 395.1h0M121.7 404.6h0M81.4 368.8h0M110.4 361.6h0M172.4 372.3h0M132.5 389.6h0M106.6 411.1h0M143.1 387.2h0M162.7 369.6h0M184.4 355.7h0M139.2 384.5h0M106.6 408.1h0M163.9 344.7h0M107.2 407.1h0M178.4 367.3h0M92.0 385.8h0M157.1 370.3h0M125.9 411.5h0M119.4 396.9h0M147.8 381.5h0M169.9 368.0h0M86.3 361.7h0M134.5 388.2h0M185.5 351.4h0M125.2 407.7h0M163.6 345.8h0M118.5 398.4h0M130.3 388.2h0M85.7 391.7h0M145.8 376.7h0M120.0 367.1h0M126.3 405.2h0M161.6 367.8h0M129.7 366.1h0M133.2 367.3h0M157.5 374.9h0M122.6 406.8h0M140.2 382.0h0M92.8 380.5h0M126.1 360.0h0M145.7 380.3h0M86.2 391.7h0M106.6 407.8h0M164.6 368.1h0M158.8 370.0h0M123.2 401.7h0M99.1 358.6h0M171.4 365.9h0M122.7 364.9h0M103.2 383.8h0M117.8 398.5h0M144.0 379.2h0M102.8 421.3h0M164.0 373.9h0M135.7 388.7h0M147.4 382.3h0M156.3 398.7h0M144.2 380.0h0M112.8 373.4h0M140.7 382.9h0M81.6 365.8h0M102.8 427.5h0M151.1 394.2h0M159.4 348.0h0M80.9 393.6h0M157.1 372.3h0M109.3 407.9h0M133.0 387.2h0M138.2 383.0h0M138.9 385.4h0M121.3 403.1h0M159.3 349.1h0M146.8 348.7h0M161.7 377.6h0M197.8 352.8h0M111.6 360.4h0M64.2 381.8h0M165.0 363.9h0M125.2 401.1h0M172.8 361.8h0M144.7 388.7h0M80.3 377.2h0M106.7 409.3h0M114.2 360.4h0M125.1 392.6h0M130.2 390.2h0M110.4 407.9h0M148.4 379.8h0M160.2 345.3h0M145.3 381.6h0M151.7 387.8h0M134.0 403.9h0M133.5 402.7h0M164.8 370.7h0M154.9 380.8h0M184.2 351.8h0M169.6 369.7h0M105.0 370.7h0M80.0 394.7h0M148.2 381.5h0M115.8 360.7h0M142.9 351.8h0M165.6 365.8h0M160.2 377.0h0M198.9 399.8h0M84.6 373.1h0M97.9 372.2h0M162.2 413.4h0M171.7 375.6h0M98.2 383.0h0M183.7 387.5h0" stroke="#c8102e" stroke-width="2.70" stroke-linecap="round" fill="none"/>
<path d="M115.9 375.8h0M67.9 396.7h0M137.2 364.6h0M143.5 350.5h0M112.8 408.3h0M115.2 377.5h0M192.1 350.4h0M95.9 380.3h0M141.8 407.3h0M112.8 405.4h0M153.0 352.8h0M139.5 382.6h0M149.2 353.1h0M150.9 347.8h0M144.2 379.3h0M133.1 421.3h0M160.1 349.2h0M161.5 347.8h0M151.9 351.8h0M131.8 397.2h0M102.5 411.8h0M162.3 348.0h0M140.3 398.1h0M132.8 368.0h0M151.8 355.1h0M92.2 386.7h0M121.4 398.1h0M132.1 363.9h0M114.4 374.6h0M159.3 394.5h0M126.8 370.9h0M185.8 371.3h0M145.1 358.7h0M109.3 376.1h0M58.8 382.5h0M144.5 356.4h0M130.0 356.8h0M164.1 347.0h0M90.9 384.6h0M119.6 374.2h0M158.4 347.5h0M82.0 392.6h0M79.8 393.2h0M99.3 383.3h0M67.9 381.4h0M78.5 390.1h0M104.6 376.7h0M153.6 353.9h0M97.9 386.2h0M78.0 392.0h0M155.3 352.0h0M219.3 367.5h0M125.5 405.6h0M94.5 388.5h0M161.3 346.9h0M135.4 362.4h0M97.0 385.9h0M130.0 367.5h0M138.7 344.7h0M119.4 372.8h0M95.7 387.2h0M104.6 370.8h0M128.6 367.7h0M112.0 374.6h0M176.5 357.9h0M138.3 361.6h0M140.6 386.3h0M158.8 349.7h0M154.8 351.9h0M162.3 346.8h0M70.8 369.1h0M139.6 362.9h0M143.6 360.4h0M103.5 382.7h0M147.6 376.7h0M64.2 393.3h0M109.7 379.7h0M147.5 354.0h0M127.6 349.5h0M168.4 362.0h0M130.2 366.3h0M114.7 404.1h0M130.7 366.7h0M196.7 348.5h0M157.3 349.5h0M124.1 369.8h0M169.4 379.7h0M116.1 361.3h0M149.6 353.6h0M148.3 357.0h0M153.1 350.2h0M132.5 366.2h0M107.9 381.3h0M150.5 355.2h0M166.3 345.3h0M159.1 347.0h0M146.0 353.0h0M96.0 387.5h0M87.2 390.2h0M109.9 379.1h0M137.8 360.4h0M114.7 374.0h0M96.0 387.3h0M167.7 345.4h0M146.4 356.1h0M89.1 389.4h0M150.1 396.0h0M138.9 359.9h0M115.8 375.7h0M166.6 363.2h0M85.1 388.5h0M141.3 359.5h0M160.8 346.6h0M88.3 380.4h0M76.0 395.4h0M106.7 374.3h0M89.9 365.5h0M155.3 381.0h0M85.4 362.9h0M141.5 357.1h0M151.5 353.4h0M79.2 395.5h0M116.9 355.1h0M107.7 414.5h0M125.1 372.3h0M115.8 417.6h0M114.2 377.8h0M116.4 374.4h0M165.4 346.3h0M141.3 359.0h0M165.3 345.2h0M169.0 341.1h0M161.1 370.1h0M119.6 369.9h0M99.9 380.7h0M117.1 374.1h0M104.9 379.3h0M168.9 368.6h0M108.8 413.0h0" stroke="#c9c9c9" stroke-width="2.70" stroke-linecap="round" fill="none"/>
<path d="M112.4 414.4h0M142.0 356.9h0M111.0 373.1h0M141.2 358.4h0M98.8 375.4h0M126.3 370.1h0M70.8 402.9h0M58.8 390.2h0M154.9 371.8h0M171.5 360.9h0M133.9 356.0h0M93.2 371.5h0M129.9 363.1h0M122.2 363.2h0M83.8 392.1h0M150.6 355.3h0M121.3 365.1h0M138.8 358.6h0M165.2 373.0h0M166.4 340.9h0M170.6 364.2h0M70.8 395.0h0M92.7 375.1h0M127.9 363.6h0M147.1 379.0h0M104.7 362.6h0M119.5 360.9h0M90.5 388.0h0M92.6 370.6h0M106.3 380.4h0M148.1 355.8h0M91.7 386.8h0M158.9 344.1h0M82.6 391.2h0M116.0 376.1h0M115.3 367.4h0M117.5 358.6h0M148.2 382.5h0M83.7 374.5h0M134.8 360.3h0M143.2 380.9h0M133.2 356.7h0M152.3 383.6h0M109.0 371.9h0M197.9 345.7h0M165.2 344.6h0M153.0 349.2h0M76.0 384.7h0M80.3 395.2h0M107.9 370.9h0M126.7 392.5h0M131.3 361.4h0M109.7 377.3h0M129.7 388.6h0M148.5 347.9h0M139.6 356.2h0M145.4 393.3h0M164.8 343.3h0M120.8 360.4h0M149.5 352.8h0M191.1 362.3h0M149.6 397.5h0M90.0 380.2h0M67.9 392.4h0M114.9 364.4h0M78.2 374.9h0M101.9 380.8h0M154.1 351.9h0M93.8 365.8h0M97.2 382.2h0M64.2 385.9h0M123.0 364.4h0M146.1 384.2h0M166.6 341.9h0M161.9 346.1h0" stroke="#3ca040" stroke-width="2.70" stroke-linecap="round" fill="none"/>
<path d="M149.9 350.8h0M187.3 364.3h0M170.1 363.2h0M174.2 386.9h0M78.3 396.3h0M130.2 369.2h0M136.0 396.9h0M173.3 389.3h0M149.8 355.1h0M125.2 359.2h0M135.1 356.7h0M97.9 380.5h0M149.7 354.7h0M163.1 387.4h0M80.7 367.7h0M143.8 385.7h0M181.6 397.1h0M195.2 348.8h0M164.4 367.7h0M160.5 379.2h0M189.5 361.3h0M173.7 358.9h0M94.7 381.0h0M92.0 380.4h0M159.9 386.6h0M150.5 408.1h0M92.8 382.3h0M177.6 360.5h0M133.5 364.2h0M166.5 364.6h0M161.9 373.4h0M171.8 360.8h0M112.8 363.5h0M191.9 357.0h0M73.5 385.8h0M118.6 402.6h0M186.5 393.9h0M151.3 373.2h0M179.2 377.3h0M148.6 402.0h0M163.0 372.3h0M150.2 378.5h0M196.6 348.6h0M165.4 364.0h0M183.8 406.3h0M107.4 374.9h0M180.5 356.1h0M162.0 365.7h0M172.9 360.3h0M170.7 400.2h0M100.3 413.9h0M141.9 361.9h0" stroke="#1b3566" stroke-width="2.70" stroke-linecap="round" fill="none"/>
<path d="M137.5 385.8h0M155.6 351.3h0M67.9 377.7h0M135.8 399.2h0M145.0 385.0h0M133.1 389.0h0M155.5 396.6h0M106.1 412.0h0M118.2 404.0h0M103.4 411.6h0M143.4 396.9h0M142.8 382.0h0M163.0 367.0h0M164.8 363.7h0M120.5 402.6h0M85.7 376.0h0M114.9 366.4h0M198.3 355.1h0M197.4 347.3h0M113.7 403.4h0M110.4 405.5h0M106.7 410.9h0M127.9 363.1h0M118.2 373.6h0M157.4 378.5h0M113.4 404.2h0M122.4 360.8h0M133.8 390.3h0M174.0 360.3h0M64.2 404.4h0M58.8 374.9h0M101.3 374.7h0M81.6 379.4h0M158.8 393.8h0M140.8 383.1h0M113.6 405.7h0M153.7 351.1h0M163.0 345.0h0M113.3 408.2h0M106.9 378.3h0M151.5 352.6h0M144.1 358.2h0M149.6 390.6h0M152.7 377.1h0M155.8 370.5h0M197.4 346.3h0M144.7 401.6h0M161.3 366.2h0M144.2 381.7h0M188.2 354.5h0M111.9 370.4h0M138.7 385.7h0M96.5 369.8h0M181.5 354.6h0M82.7 392.7h0M165.3 367.5h0M152.8 373.5h0M87.8 376.2h0M164.9 367.7h0M157.9 350.0h0M131.8 387.8h0M173.0 361.6h0M125.9 393.5h0M196.4 349.8h0M114.6 372.5h0M106.6 411.0h0M162.3 371.6h0M133.1 411.8h0M139.2 384.6h0M150.3 351.2h0M109.8 370.9h0M162.6 369.9h0M142.1 389.4h0M120.3 396.3h0M152.8 377.0h0M142.1 398.7h0M167.2 364.4h0M118.5 403.5h0M101.3 378.1h0M104.1 371.8h0M129.8 389.8h0M168.5 362.8h0M150.0 408.1h0M152.1 373.0h0M115.7 363.0h0M107.2 421.3h0M115.1 408.7h0M123.1 366.9h0M116.8 401.1h0M194.6 357.8h0M113.0 368.6h0M108.4 410.0h0M196.8 348.7h0M172.6 364.0h0M91.2 385.1h0M139.9 389.9h0M162.1 375.1h0M146.2 398.4h0M101.6 384.7h0M141.5 383.5h0M87.9 390.0h0M159.0 406.0h0M159.3 379.6h0M146.2 382.9h0M89.6 372.6h0M160.5 368.5h0M197.1 352.8h0M112.6 375.0h0M158.1 414.6h0M186.9 353.8h0M138.1 403.3h0M125.0 371.0h0M132.9 407.6h0M132.8 395.4h0M90.5 387.5h0M85.8 385.1h0M112.8 378.3h0M130.4 401.4h0M95.8 374.3h0M194.5 351.7h0M151.0 384.2h0M67.9 399.9h0M196.2 352.5h0M111.2 403.9h0M116.4 403.1h0M85.9 386.0h0M77.6 393.4h0M187.1 355.9h0M92.2 386.5h0M115.1 377.3h0M195.7 349.1h0M182.8 372.5h0M132.9 365.9h0M144.3 382.3h0M98.6 366.6h0M169.9 360.6h0M167.5 362.8h0M93.3 377.6h0M115.8 368.6h0M149.9 377.6h0M133.0 366.3h0M139.6 386.7h0M109.8 408.4h0M145.8 378.6h0M141.2 361.0h0M130.4 391.3h0M104.6 410.7h0M103.1 375.5h0M86.9 381.0h0M86.9 382.3h0M112.0 369.6h0M102.8 380.5h0M194.2 352.7h0M142.6 385.3h0M158.5 346.0h0M144.2 389.8h0M67.9 388.1h0M84.7 390.5h0M77.9 395.4h0M174.1 358.4h0M152.2 375.6h0M182.2 360.1h0M147.3 380.1h0M156.2 372.0h0M146.1 383.3h0M147.5 377.4h0M120.1 421.3h0M144.9 379.1h0M100.2 367.4h0M145.4 385.8h0M114.5 402.5h0M159.2 349.4h0M143.2 355.7h0M109.5 408.1h0M183.9 365.4h0M166.7 363.7h0M160.4 347.9h0M167.2 368.4h0M160.6 369.2h0M126.6 392.9h0M149.2 384.9h0M169.0 369.3h0M118.6 403.2h0M132.6 392.9h0M127.1 396.2h0M151.5 372.4h0M123.5 357.0h0M159.7 388.5h0M145.5 396.3h0M109.3 368.8h0M158.0 377.0h0M144.9 381.7h0M144.4 399.9h0M171.8 362.9h0M111.3 417.6h0M160.2 377.0h0M180.7 359.9h0M125.4 401.4h0M125.2 402.0h0M162.8 369.4h0M146.6 409.4h0M155.6 383.8h0M166.9 344.6h0M140.5 387.8h0M163.2 364.9h0M120.4 360.8h0M126.1 400.1h0M137.1 394.3h0M164.6 343.1h0M131.0 392.7h0M172.5 365.1h0M186.7 367.6h0M145.4 379.3h0M64.2 378.1h0M112.2 404.6h0M140.0 381.4h0M190.7 348.5h0M161.8 370.2h0M105.5 408.2h0M150.3 388.8h0M148.0 381.3h0M109.9 407.4h0M144.6 384.7h0M198.4 352.1h0M145.5 357.1h0M185.8 354.4h0M154.3 375.5h0M153.4 372.8h0M122.7 398.8h0M119.1 401.1h0M105.9 413.8h0M178.6 355.3h0M170.6 361.9h0M121.7 370.6h0M113.6 427.5h0M133.0 386.5h0M141.1 381.0h0M138.9 414.2h0M113.0 410.1h0M126.9 391.3h0M131.2 362.9h0M108.2 374.0h0M162.2 407.9h0M159.3 367.3h0M127.7 397.9h0M173.3 364.3h0M171.6 360.1h0M159.8 369.5h0M125.2 395.8h0M137.3 389.0h0M132.7 387.0h0M146.3 383.5h0M112.3 363.8h0M160.1 370.7h0M156.9 384.7h0M144.6 385.1h0M108.2 411.1h0M107.3 410.5h0M126.9 392.8h0M154.4 370.9h0M122.2 407.9h0M104.0 381.6h0M127.5 427.5h0M130.7 389.7h0M112.5 404.1h0M129.1 393.5h0M115.9 362.4h0M103.4 411.7h0M160.5 369.8h0M148.5 388.6h0M147.0 381.7h0M93.9 385.1h0M119.0 401.9h0M158.5 371.1h0M130.7 390.1h0M151.3 416.2h0M191.8 351.2h0M141.7 380.3h0M83.8 393.4h0M95.5 427.5h0M142.7 381.5h0M171.6 360.0h0M160.9 372.3h0M155.6 413.9h0M142.2 381.6h0M121.9 357.0h0M150.4 376.6h0M177.7 365.6h0M142.9 384.2h0M194.9 353.8h0M104.3 358.2h0M187.6 352.8h0M135.8 360.7h0M67.9 385.3h0M115.1 404.6h0M158.0 375.0h0M143.3 380.6h0M114.5 410.8h0M137.5 411.6h0M163.2 346.7h0M157.1 369.0h0M161.2 366.3h0M120.2 373.3h0M123.4 405.8h0M150.3 377.1h0M126.3 363.5h0M186.4 355.9h0M111.7 373.6h0M90.5 371.8h0M140.9 358.7h0M129.8 361.6h0M184.4 363.9h0M126.7 398.5h0M137.9 386.3h0M190.3 350.2h0M143.7 385.8h0M187.2 351.3h0M144.9 354.7h0M147.0 354.0h0M148.5 406.3h0M193.9 348.9h0M125.8 371.0h0M197.8 347.2h0M144.9 379.2h0M73.5 393.5h0M131.8 388.9h0M171.4 360.4h0M172.3 359.1h0M104.1 412.4h0M129.6 390.9h0M142.9 383.5h0M110.5 374.0h0M197.6 354.5h0M170.6 360.9h0M167.9 344.3h0M164.5 338.5h0M161.9 374.5h0M121.4 406.2h0" stroke="#c8102e" stroke-width="2.70" stroke-linecap="round" fill="none"/>
<text x="131.5" y="377.7" font-size="6.4" fill="#3a3a3a" stroke="#3a3a3a" stroke-width="0.12" font-style="italic">Mecom</text>
<text x="146" y="384.5" font-size="6.4" fill="#3a3a3a" stroke="#3a3a3a" stroke-width="0.12" font-style="italic">Klf2</text>
<text x="96" y="417.7" font-size="6.4" fill="#3a3a3a" stroke="#3a3a3a" stroke-width="0.12" font-style="italic">Mgst2</text>
<line x1="298.5" y1="306" x2="298.5" y2="429.6" stroke="#222" stroke-width="1.1"/>
<line x1="298" y1="429" x2="481.5" y2="429" stroke="#222" stroke-width="1.1"/>
<line x1="296.5" y1="429" x2="298.5" y2="429" stroke="#222" stroke-width="0.9"/>
<text x="293.2" y="431.4" font-size="6.9" fill="#333" stroke="#333" stroke-width="0.12" text-anchor="end">0</text>
<line x1="298.5" y1="429" x2="298.5" y2="431" stroke="#222" stroke-width="0.9"/>
<text x="298.5" y="441" font-size="6.9" fill="#333" stroke="#333" stroke-width="0.12" text-anchor="middle">0</text>
<line x1="296.5" y1="398.9" x2="298.5" y2="398.9" stroke="#222" stroke-width="0.9"/>
<text x="293.2" y="401.3" font-size="6.9" fill="#333" stroke="#333" stroke-width="0.12" text-anchor="end">5</text>
<line x1="343.5" y1="429" x2="343.5" y2="431" stroke="#222" stroke-width="0.9"/>
<text x="343.5" y="441" font-size="6.9" fill="#333" stroke="#333" stroke-width="0.12" text-anchor="middle">5</text>
<line x1="296.5" y1="368.8" x2="298.5" y2="368.8" stroke="#222" stroke-width="0.9"/>
<text x="293.2" y="371.1" font-size="6.9" fill="#333" stroke="#333" stroke-width="0.12" text-anchor="end">10</text>
<line x1="388.5" y1="429" x2="388.5" y2="431" stroke="#222" stroke-width="0.9"/>
<text x="388.5" y="441" font-size="6.9" fill="#333" stroke="#333" stroke-width="0.12" text-anchor="middle">10</text>
<line x1="296.5" y1="338.6" x2="298.5" y2="338.6" stroke="#222" stroke-width="0.9"/>
<text x="293.2" y="341" font-size="6.9" fill="#333" stroke="#333" stroke-width="0.12" text-anchor="end">15</text>
<line x1="433.5" y1="429" x2="433.5" y2="431" stroke="#222" stroke-width="0.9"/>
<text x="433.5" y="441" font-size="6.9" fill="#333" stroke="#333" stroke-width="0.12" text-anchor="middle">15</text>
<line x1="296.5" y1="308.5" x2="298.5" y2="308.5" stroke="#222" stroke-width="0.9"/>
<text x="293.2" y="310.9" font-size="6.9" fill="#333" stroke="#333" stroke-width="0.12" text-anchor="end">20</text>
<line x1="478.5" y1="429" x2="478.5" y2="431" stroke="#222" stroke-width="0.9"/>
<text x="478.5" y="441" font-size="6.9" fill="#333" stroke="#333" stroke-width="0.12" text-anchor="middle">20</text>
<circle cx="306.5" cy="309.2" r="2.0" fill="#c8102e"/>
<text x="312" y="311.2" font-size="5.45" fill="#3a3a3a" stroke="#3a3a3a" stroke-width="0.05">LSC specific enhancers</text>
<circle cx="306.5" cy="318.2" r="2.0" fill="#f0961e"/>
<text x="312" y="320.2" font-size="5.45" fill="#3a3a3a" stroke="#3a3a3a" stroke-width="0.05">mAML specific enhancers</text>
<circle cx="306.5" cy="327.2" r="2.0" fill="#1b3566"/>
<text x="312" y="329.2" font-size="5.45" fill="#3a3a3a" stroke="#3a3a3a" stroke-width="0.05">Shared enhancers</text>
<circle cx="306.5" cy="336.2" r="2.0" fill="#c9c9c9"/>
<text x="312" y="338.2" font-size="5.45" fill="#3a3a3a" stroke="#3a3a3a" stroke-width="0.05">nonoverlap</text>
<text x="270.3" y="367.7" font-size="7.2" fill="#222" stroke="#222" stroke-width="0.12" text-anchor="middle" transform="rotate(-90 270.3 367.7)" textLength="43" lengthAdjust="spacingAndGlyphs">mAML expression</text>
<text x="279.2" y="368.8" font-size="7.0" fill="#222" stroke="#222" stroke-width="0.12" text-anchor="middle" transform="rotate(-90 279.2 368.8)" textLength="72" lengthAdjust="spacingAndGlyphs">log<tspan font-size="4.6" dy="1.6">2</tspan><tspan dy="-1.6"> (normalized read counts)</tspan></text>
<text x="333.9" y="452.5" font-size="7.9" fill="#222" stroke="#222" stroke-width="0.12" textLength="112" lengthAdjust="spacingAndGlyphs">LSC expression log<tspan font-size="5" dy="1.7">2</tspan><tspan dy="-1.7"> (normalized read counts)</tspan></text>
<path d="M388.5 357.5h0M360.4 369.6h0M361.5 423.6h0M344.6 417.7h0M367.9 401.1h0M379.5 391.7h0M323.9 377.2h0M424.8 348.5h0M362.3 364.0h0M326.2 392.7h0M351.7 403.0h0M354.9 376.2h0M409.7 342.9h0M402.1 378.5h0M346.6 356.4h0M344.9 417.7h0M405.8 367.6h0M442.8 347.6h0M350.3 363.3h0M366.0 394.1h0M383.1 386.6h0M382.0 358.5h0M421.3 378.0h0M381.3 387.3h0M341.4 389.5h0M339.8 417.0h0M425.4 357.7h0M360.2 402.2h0M339.4 423.6h0M386.7 385.8h0M342.8 379.7h0M397.0 373.2h0M375.2 395.8h0M406.7 372.3h0M371.6 389.0h0M354.5 373.7h0M402.1 367.0h0M345.6 371.7h0M373.7 390.9h0M349.7 375.6h0M379.5 383.1h0M418.7 360.3h0M356.4 403.4h0M385.4 366.4h0M391.1 381.7h0M393.8 385.2h0M402.7 368.0h0M394.7 385.3h0M354.8 407.9h0M321.9 366.7h0M421.9 359.7h0M370.9 395.1h0M388.3 388.3h0M366.3 342.9h0M393.6 382.0h0M363.5 393.9h0M416.5 364.0h0M385.4 384.4h0M387.8 361.1h0M358.8 412.5h0M357.0 365.3h0M405.1 377.7h0M417.3 360.1h0M404.3 352.3h0M373.1 364.2h0M384.5 329.2h0M412.5 363.9h0M372.9 391.3h0M395.3 382.9h0M385.3 388.9h0M339.8 388.0h0M342.9 384.4h0M355.9 409.0h0M413.7 363.7h0M411.6 362.0h0M358.8 347.5h0M412.9 364.8h0M352.4 407.1h0M374.4 365.7h0M337.0 368.9h0M341.7 425.0h0M408.7 380.2h0M389.0 364.0h0M388.6 350.0h0M400.3 370.4h0M384.9 339.8h0M399.0 337.9h0M385.6 386.0h0M364.3 404.7h0M360.4 406.8h0M340.7 415.9h0M389.0 377.7h0M391.8 355.0h0M338.0 367.5h0M405.3 371.7h0M365.5 400.6h0M334.8 388.2h0M416.9 358.7h0M355.1 398.9h0M400.2 373.1h0M424.9 359.9h0M363.8 397.8h0M327.3 381.9h0M407.2 365.4h0M345.9 408.5h0M397.0 372.8h0M371.1 366.6h0M406.3 366.8h0M421.1 359.2h0M331.9 367.9h0M312.6 385.3h0M416.0 362.1h0M363.7 399.8h0M372.1 392.3h0M443.1 348.3h0M313.1 391.8h0M353.9 405.7h0M418.0 359.2h0M322.3 397.7h0M365.1 405.9h0M427.1 350.1h0M375.8 391.6h0M411.7 338.3h0M446.1 344.6h0M362.1 400.9h0M349.5 413.6h0M382.0 343.9h0M382.5 378.5h0M390.9 381.6h0M385.6 328.3h0M348.3 378.4h0M364.1 410.0h0M403.9 367.8h0M347.2 412.9h0M349.9 410.5h0M365.7 355.7h0M416.4 370.8h0M385.2 386.2h0M365.3 390.6h0M319.2 386.5h0M390.3 382.9h0M399.6 381.0h0M408.9 351.7h0M431.8 351.1h0M391.1 357.7h0M330.9 395.3h0M377.2 339.1h0M371.7 395.0h0M353.6 402.7h0M396.7 337.5h0M388.9 362.1h0M396.5 372.3h0M312.7 381.7h0M370.3 399.6h0M335.2 387.4h0" stroke="#c9c9c9" stroke-width="2.70" stroke-linecap="round" fill="none"/>
<path d="M331.8 372.5h0M326.0 393.8h0M397.2 376.2h0M350.1 374.1h0M357.3 358.0h0M324.8 397.2h0M341.4 374.0h0M380.5 366.8h0M361.4 380.1h0M367.7 374.1h0M336.0 355.0h0M345.1 382.6h0M361.7 372.1h0M381.0 371.3h0M388.0 367.8h0M392.7 347.9h0M409.5 349.8h0M407.5 345.6h0M367.7 369.7h0M372.0 369.3h0M392.8 359.9h0M336.2 355.8h0M351.3 369.7h0M397.6 357.6h0M327.0 383.2h0M345.7 381.1h0M368.6 371.0h0M345.2 379.2h0M388.3 353.1h0M299.3 369.0h0M350.7 385.6h0M349.0 377.7h0M341.1 385.2h0M349.6 362.2h0M346.7 372.5h0M377.9 357.2h0M398.2 351.0h0M403.5 344.0h0M307.4 401.8h0M330.1 374.0h0M365.0 369.6h0M346.5 387.8h0M350.7 363.8h0M369.9 402.3h0M347.2 371.7h0M357.7 378.3h0M393.9 357.0h0M382.5 336.6h0M340.9 374.8h0M392.6 364.3h0M316.8 390.4h0M329.9 390.7h0M359.5 372.3h0M380.2 391.6h0M426.1 356.1h0M353.4 373.5h0M389.3 380.1h0M344.2 387.9h0M384.5 361.7h0M327.5 394.4h0M373.8 354.2h0M313.2 388.5h0M339.1 384.3h0M327.0 383.4h0M379.4 337.9h0M380.4 344.0h0M339.0 392.2h0M379.1 372.6h0M382.9 386.3h0M344.3 390.0h0M379.2 390.9h0M375.2 372.3h0M349.2 371.7h0M405.5 344.4h0M338.5 390.7h0M397.3 357.3h0M391.8 364.5h0M399.9 337.0h0M386.3 347.4h0M402.9 344.3h0M400.2 344.0h0M361.6 360.4h0M387.3 354.4h0M338.9 389.2h0M333.2 377.6h0M378.6 370.9h0M379.7 371.5h0M379.5 360.4h0M357.9 355.1h0M373.6 369.8h0M385.1 338.4h0M400.1 354.4h0M380.9 362.9h0M338.2 376.1h0M392.3 345.7h0M364.0 373.8h0M402.4 348.6h0M372.8 391.8h0M382.5 361.3h0M377.7 383.5h0M400.5 342.5h0M378.9 364.7h0M363.3 379.2h0M387.0 366.4h0M399.5 351.8h0M356.5 375.4h0M382.7 369.6h0M412.6 365.1h0M348.8 383.7h0M380.1 397.5h0M345.4 368.5h0M389.7 352.5h0M319.2 398.2h0M336.6 392.4h0M386.3 353.4h0M327.1 391.3h0M390.9 378.3h0M393.9 358.7h0M339.8 371.1h0M392.9 341.9h0M316.6 386.2h0M365.1 365.2h0M361.8 368.7h0M325.7 379.1h0M328.8 384.8h0M384.2 366.2h0M407.2 347.8h0M366.4 363.5h0M352.2 383.8h0M372.0 373.8h0M326.6 386.2h0M343.4 362.1h0M384.7 337.8h0M363.4 374.7h0M323.5 396.4h0M356.1 364.8h0M334.3 386.0h0M323.9 374.7h0M399.3 329.0h0M394.0 376.3h0M383.4 384.7h0M392.5 361.6h0M335.6 358.6h0M355.3 376.4h0M369.4 368.7h0M345.1 386.8h0M368.1 356.5h0M347.6 383.6h0M411.9 334.7h0M412.1 347.2h0M384.1 354.2h0M365.2 346.9h0M393.0 346.8h0M391.5 385.7h0M390.0 366.0h0M372.3 346.9h0M336.9 390.2h0M392.3 353.9h0M331.5 377.8h0M378.7 343.7h0M345.6 369.8h0M398.9 357.7h0M344.3 386.4h0M404.2 346.4h0M362.2 373.8h0M319.2 375.0h0M393.0 352.1h0M359.1 378.8h0M428.3 352.2h0M370.2 375.3h0M342.5 408.9h0M343.6 379.6h0M403.7 347.6h0M377.4 358.0h0M386.9 348.2h0M364.9 375.7h0M360.1 374.8h0M347.2 358.3h0M332.4 366.5h0M408.0 344.4h0M330.5 393.5h0M327.1 386.1h0M316.6 371.3h0M320.0 383.5h0M405.6 352.8h0M313.0 386.8h0M389.0 361.4h0M386.2 357.5h0M375.2 389.6h0M401.8 350.9h0M355.5 383.4h0M335.7 394.0h0M326.6 398.1h0M335.3 363.8h0M330.4 366.6h0M386.5 353.5h0M368.3 357.0h0M335.8 386.3h0M369.5 374.2h0M347.8 371.0h0M358.5 378.5h0M346.3 386.2h0M369.2 366.3h0M326.9 395.9h0M348.3 387.1h0M370.2 355.7h0M389.1 354.0h0M323.7 379.2h0M380.5 363.0h0M387.3 361.8h0M342.4 377.5h0M384.2 358.5h0M326.2 389.4h0M401.9 375.9h0M419.7 362.5h0M402.0 342.0h0M347.2 377.8h0M398.8 345.6h0M325.0 397.2h0M319.6 393.8h0M343.6 412.5h0M358.2 377.7h0M330.1 382.0h0M362.4 375.7h0M403.9 340.7h0M403.6 351.8h0M345.8 372.9h0M333.6 377.8h0M385.6 357.2h0M405.6 369.7h0M395.2 350.8h0M410.2 366.8h0M389.5 343.1h0M343.9 387.8h0M369.0 343.3h0M405.0 330.2h0M362.8 373.9h0M384.5 354.7h0M352.3 350.2h0M382.5 356.1h0M341.2 374.2h0M393.9 360.6h0M342.0 363.0h0M344.4 389.9h0M383.9 368.8h0M399.9 352.9h0M370.7 370.9h0M392.8 355.9h0M355.1 379.6h0M336.6 356.2h0M356.2 375.4h0M403.4 351.5h0M373.3 397.4h0M331.5 376.1h0M334.0 391.8h0M331.2 395.5h0M365.3 342.3h0M369.9 373.6h0M368.6 360.7h0M335.2 371.0h0M360.6 375.7h0M299.1 395.3h0M333.1 371.5h0M308.0 378.6h0M390.4 362.9h0M335.8 393.2h0M402.9 353.5h0M410.9 341.8h0M331.5 387.1h0M379.6 352.7h0M349.3 364.4h0M411.9 338.2h0M324.5 360.3h0M313.2 374.8h0M391.1 336.1h0M390.5 331.6h0M370.8 375.5h0M352.6 385.1h0M334.4 364.9h0M312.8 395.9h0" stroke="#f0961e" stroke-width="2.70" stroke-linecap="round" fill="none"/>
<path d="M375.8 345.3h0M337.4 383.4h0M417.2 363.5h0M389.5 382.8h0M386.6 331.1h0M350.1 412.4h0M332.0 393.6h0M362.3 361.9h0M323.5 386.4h0M403.0 365.9h0M371.5 351.8h0M341.5 354.0h0M395.1 334.1h0M402.6 371.1h0M336.8 370.2h0M378.2 389.8h0M379.8 367.3h0M434.7 343.8h0M390.7 378.1h0M343.4 365.9h0M388.1 340.3h0M334.1 371.8h0M359.0 364.2h0M395.6 379.6h0M384.8 386.5h0M376.8 340.8h0M387.0 381.0h0M396.7 341.5h0M397.8 395.1h0M401.4 386.9h0M397.5 371.9h0M381.7 342.5h0M340.6 414.4h0M367.7 335.0h0M387.1 383.3h0M357.8 349.1h0M341.2 367.9h0M413.0 362.2h0M382.0 370.2h0M359.9 409.3h0M333.7 392.8h0M342.6 423.6h0M382.9 385.7h0M388.9 335.9h0M406.2 371.9h0M359.2 360.9h0M325.6 390.5h0M345.1 414.0h0M422.2 378.5h0M367.9 401.8h0M380.1 385.5h0M365.3 395.7h0M398.0 375.8h0M382.9 331.3h0M369.8 352.2h0M419.6 355.7h0M421.6 352.5h0M414.8 364.1h0M325.4 362.8h0M397.5 382.3h0M391.0 383.3h0M459.6 345.3h0M356.0 406.3h0M384.0 384.5h0M352.9 368.1h0M412.0 360.5h0M380.2 353.7h0M455.8 345.7h0M336.5 350.1h0M312.9 394.5h0M391.1 380.4h0M375.6 395.7h0M391.7 337.5h0M340.7 355.0h0M411.7 367.2h0M408.3 362.9h0M369.1 337.0h0M384.1 394.5h0M409.0 370.0h0M466.4 356.6h0M367.6 396.8h0M390.3 388.1h0M443.4 317.5h0M432.6 316.3h0M368.3 365.2h0M402.6 335.5h0M349.5 352.9h0M344.7 351.4h0M326.9 354.4h0M344.7 410.1h0M466.5 339.8h0M394.0 393.7h0M349.5 414.0h0M343.5 428.7h0M380.7 403.7h0M370.9 420.0h0M355.6 403.8h0M346.6 355.5h0M331.7 371.8h0M377.3 393.7h0M336.3 423.6h0M341.4 367.9h0M382.5 390.4h0M440.8 350.1h0M327.4 358.8h0M395.8 359.9h0M361.0 363.3h0M397.4 381.6h0M370.4 394.0h0M375.8 417.1h0M376.9 390.4h0M341.4 421.0h0M378.0 369.2h0M384.7 384.0h0M355.3 352.3h0M390.7 381.3h0M392.4 388.4h0M361.8 405.0h0M416.4 314.5h0M312.7 372.8h0M338.1 366.6h0M371.7 356.5h0M400.8 371.3h0M347.9 355.7h0" stroke="#1b3566" stroke-width="2.70" stroke-linecap="round" fill="none"/>
<path d="M414.0 361.6h0M336.3 391.6h0M392.2 382.8h0M298.9 384.2h0M360.7 362.2h0M391.0 380.6h0M338.0 390.0h0M422.5 355.1h0M418.2 359.5h0M363.1 406.6h0M381.5 351.9h0M433.2 376.6h0M338.6 419.9h0M361.8 397.9h0M382.2 365.9h0M380.2 358.1h0M383.6 354.7h0M390.2 377.2h0M347.8 407.4h0M404.9 373.5h0M355.1 366.2h0M409.5 368.0h0M383.5 387.8h0M347.7 385.1h0M331.6 394.6h0M378.4 387.1h0M331.2 375.9h0M401.3 377.3h0M299.1 402.5h0M356.0 409.3h0M370.1 352.3h0M397.8 378.9h0M392.1 376.5h0M375.1 389.1h0M390.3 391.6h0M402.3 379.6h0M403.5 370.1h0M346.2 382.5h0M371.5 366.5h0M390.2 381.0h0M407.2 372.6h0M298.7 386.7h0M455.1 346.5h0M391.7 385.7h0M420.4 359.6h0M339.8 425.2h0M355.9 408.8h0M335.9 368.2h0M379.8 386.4h0M412.0 364.0h0" stroke="#c8102e" stroke-width="2.70" stroke-linecap="round" fill="none"/>
<path d="M398.4 375.2h0M396.4 382.2h0M384.3 361.5h0M389.3 381.5h0M383.4 389.4h0M433.0 353.5h0M389.0 382.1h0M340.2 370.9h0M363.5 395.8h0M392.7 357.0h0M381.4 393.7h0M403.0 332.3h0M409.3 347.9h0M437.4 346.6h0M390.8 388.4h0M362.5 410.3h0M375.8 390.7h0M415.2 363.0h0M400.4 370.0h0M434.7 352.8h0M351.9 381.6h0M396.3 383.8h0M417.8 361.1h0M365.1 399.8h0M378.0 391.5h0M359.9 401.1h0M365.6 377.8h0M384.4 387.5h0M376.1 371.7h0M413.1 362.9h0M377.7 391.6h0M376.1 395.4h0M395.8 337.1h0M365.6 398.2h0M366.9 395.1h0M428.6 353.2h0M369.9 342.7h0M343.4 410.0h0M366.2 366.5h0M407.5 339.6h0M408.2 367.2h0M398.6 379.0h0M345.1 416.3h0M393.6 373.9h0M430.7 354.4h0M359.7 404.6h0M391.7 377.9h0M388.0 384.1h0M387.7 358.6h0M367.6 370.8h0M423.5 355.3h0M403.9 373.6h0M362.9 403.1h0M319.0 377.2h0M394.6 343.3h0M346.6 363.6h0M412.9 374.2h0M366.0 399.3h0M343.7 411.3h0M425.6 350.3h0M316.1 388.2h0M374.6 394.5h0M429.9 350.9h0M364.5 377.2h0M383.9 361.9h0M412.1 363.9h0M409.5 356.9h0M379.3 354.2h0M362.8 366.1h0M394.7 391.3h0M390.3 339.7h0M404.6 372.3h0M405.7 368.8h0M347.0 412.1h0M400.1 371.5h0M307.6 385.6h0M365.9 396.9h0M350.1 371.6h0M389.7 385.4h0M433.7 350.3h0M338.8 418.9h0M357.7 373.8h0M396.7 377.1h0M344.9 362.7h0M422.5 355.3h0M343.5 413.1h0M392.2 381.0h0M361.4 344.6h0M407.5 372.7h0M393.6 375.1h0M380.5 383.6h0M424.7 354.3h0M399.8 357.2h0M340.3 371.9h0M399.0 371.9h0M375.1 370.2h0M345.4 407.0h0M390.3 385.8h0M371.5 389.4h0M371.1 389.3h0M325.6 381.7h0M380.2 395.1h0M331.6 377.3h0M381.5 387.4h0M391.1 382.2h0M383.7 387.7h0M373.5 392.5h0M352.9 368.6h0M377.7 396.7h0M391.7 374.4h0M383.2 389.2h0M445.4 347.0h0M374.9 392.5h0M386.6 382.9h0M374.1 392.6h0M411.0 359.7h0M416.9 360.9h0M374.0 395.1h0M390.5 339.7h0M384.1 388.2h0M346.5 404.6h0M415.1 364.9h0M372.8 389.8h0M423.1 353.4h0M330.4 356.7h0M395.0 350.4h0M386.7 381.3h0M413.2 361.6h0M388.6 380.8h0M376.3 388.1h0M352.1 401.8h0M321.5 373.3h0M369.8 354.3h0M415.2 362.2h0M362.2 409.6h0M407.4 368.3h0M388.4 375.7h0M352.8 413.7h0M393.0 373.4h0M378.3 347.6h0M397.7 339.8h0M367.2 396.5h0M401.5 373.7h0M393.3 344.4h0M400.8 367.1h0M389.6 347.2h0M398.3 374.5h0M353.6 381.0h0M412.9 361.6h0M380.2 340.7h0M384.5 353.4h0M391.3 380.6h0" stroke="#c9c9c9" stroke-width="2.70" stroke-linecap="round" fill="none"/>
<path d="M369.5 351.3h0M403.0 345.6h0M352.3 384.1h0M385.4 355.7h0M330.4 387.5h0M321.8 381.0h0M357.9 378.0h0M374.7 368.8h0M346.7 386.5h0M356.5 367.7h0M356.4 381.4h0M329.9 395.8h0M307.4 390.2h0M388.8 361.5h0M404.5 355.2h0M367.3 365.9h0M411.2 331.3h0M441.0 346.2h0M388.1 360.2h0M332.2 388.2h0M336.1 389.9h0M348.5 373.8h0M387.9 333.7h0M376.2 370.7h0M368.6 374.6h0M374.7 373.1h0M338.3 356.2h0M347.6 351.0h0M411.4 362.9h0M401.5 355.5h0M328.8 374.4h0M391.1 337.6h0M326.3 370.3h0M362.9 349.1h0M384.0 365.0h0M375.4 372.1h0M324.9 381.9h0M364.5 355.9h0M411.9 344.4h0M373.3 372.0h0M350.4 373.1h0M328.0 394.0h0M354.6 366.4h0M343.9 374.0h0M338.7 380.4h0M332.2 391.7h0M403.7 355.2h0M335.4 394.0h0M348.3 361.7h0M361.4 375.2h0M345.1 379.0h0M378.2 349.4h0M379.9 371.1h0M387.2 334.1h0M400.7 357.8h0M334.3 366.0h0M381.2 370.3h0M390.2 361.5h0M381.3 384.0h0M385.2 392.2h0M335.4 380.5h0M399.9 354.3h0M384.0 368.4h0M406.7 344.7h0M387.3 347.2h0M357.0 367.8h0M385.4 369.2h0M337.3 376.3h0M334.1 382.3h0M344.0 369.0h0M348.2 380.2h0M363.3 370.1h0M397.5 335.4h0M365.6 358.3h0M358.4 366.5h0M375.1 370.3h0M345.1 414.9h0M345.7 353.8h0M398.8 344.0h0M329.1 389.4h0M325.7 383.9h0M353.1 348.9h0M341.9 387.2h0M376.6 390.6h0M388.4 350.9h0M363.3 377.3h0M312.8 369.7h0M410.4 346.0h0M411.0 356.7h0M365.0 374.8h0M404.9 351.5h0M384.4 347.3h0M325.7 393.9h0M380.8 365.6h0M372.4 352.0h0M397.3 358.1h0M401.9 353.2h0M366.1 379.9h0M329.5 383.4h0M373.3 373.4h0M396.9 357.3h0M357.7 379.3h0M393.3 348.0h0M364.0 378.5h0M387.8 362.1h0M327.9 397.5h0M410.1 348.1h0M367.2 333.6h0M389.3 360.1h0M378.3 356.6h0M361.0 358.0h0M322.2 362.2h0M360.9 371.5h0M372.0 365.1h0M381.7 369.7h0M319.2 380.1h0M331.5 378.4h0M341.6 390.0h0M446.1 348.8h0M387.4 350.9h0M381.9 386.6h0M377.6 371.5h0M342.7 381.1h0M369.9 375.0h0M336.4 380.2h0M366.7 378.3h0M372.4 340.7h0M403.8 354.5h0M370.6 373.5h0M393.5 359.8h0M371.4 367.7h0M381.2 367.2h0M411.9 347.6h0M332.4 387.2h0M336.4 390.0h0M374.7 363.0h0M316.7 381.3h0M316.8 363.5h0M354.7 381.2h0M395.1 357.5h0M362.8 362.0h0M345.5 378.6h0M327.5 379.9h0M381.3 394.7h0M351.5 373.5h0M371.1 370.6h0M332.5 392.6h0M389.4 364.4h0M325.6 387.5h0M340.5 366.0h0M343.5 388.2h0M366.2 375.7h0M401.7 356.6h0M330.9 366.0h0M362.8 367.3h0M339.4 390.6h0M384.0 351.7h0M412.7 345.9h0M409.4 350.7h0M391.3 349.7h0M414.7 363.9h0M407.1 349.9h0M386.5 365.3h0M403.1 355.1h0M349.1 382.1h0M346.2 384.1h0M380.6 364.0h0M382.2 364.1h0M350.0 370.1h0M375.6 373.4h0M337.6 365.9h0M408.7 335.2h0M327.0 379.7h0M326.1 362.8h0M336.6 391.3h0M406.2 369.5h0M307.3 398.0h0M400.8 336.9h0M374.2 371.8h0M316.1 366.6h0M354.8 373.2h0M369.2 372.3h0M359.3 374.2h0M396.2 382.5h0M322.0 370.8h0M331.8 385.6h0M402.6 348.4h0M381.5 356.5h0M383.8 369.0h0M321.5 392.6h0M380.8 360.6h0M438.1 346.2h0M370.0 353.6h0M370.2 373.9h0M369.6 351.9h0M394.1 350.5h0M408.0 339.6h0M319.3 370.2h0M363.2 380.9h0M401.4 327.6h0M387.2 361.0h0M345.6 373.8h0M406.3 375.3h0M411.1 340.2h0M357.8 378.3h0M375.8 372.0h0M396.5 358.6h0M357.5 377.3h0M327.8 391.7h0M402.2 352.9h0M405.6 353.5h0M397.4 348.8h0M348.7 386.9h0M359.7 379.3h0M374.2 404.2h0M344.1 389.5h0M364.6 348.9h0M346.2 383.4h0M369.6 339.8h0M387.2 365.8h0M357.8 378.3h0M377.5 370.0h0M344.7 368.8h0M316.9 377.7h0M404.9 349.4h0M324.6 388.5h0M339.6 380.3h0M367.1 379.5h0M372.3 364.7h0M343.5 416.6h0M399.5 377.3h0M391.3 357.3h0M369.7 374.1h0M398.0 344.0h0M299.1 374.4h0M384.8 361.0h0M378.7 369.3h0M371.3 373.3h0M394.8 343.5h0M397.4 360.5h0M369.1 346.4h0M354.6 368.8h0M380.3 371.6h0M367.6 365.5h0M316.6 382.5h0M323.5 367.2h0M338.3 386.0h0M382.9 366.6h0M391.0 347.6h0M353.3 361.9h0M440.4 342.3h0M368.7 373.7h0M330.4 378.0h0M408.5 366.4h0M333.5 389.0h0M425.8 347.4h0M355.6 368.0h0M307.9 379.9h0M359.9 396.3h0M368.3 398.5h0M394.1 351.2h0M367.1 369.3h0M371.6 365.7h0M395.5 361.3h0M375.3 373.3h0M399.2 347.9h0M321.4 382.9h0M329.4 383.9h0M377.0 372.5h0M360.4 382.1h0M400.1 345.8h0M403.5 367.6h0M369.2 375.8h0M340.3 360.3h0M340.7 391.1h0M406.8 337.3h0M340.3 388.2h0M392.4 358.7h0M388.1 358.3h0M330.5 389.0h0M331.0 392.4h0M323.6 393.8h0M332.5 395.0h0M327.4 396.4h0M371.1 343.1h0M325.7 394.4h0M298.9 379.7h0M333.0 371.4h0M331.0 394.3h0M327.8 354.5h0M355.4 371.3h0M404.9 347.6h0M402.0 355.7h0" stroke="#f0961e" stroke-width="2.70" stroke-linecap="round" fill="none"/>
<path d="M373.4 372.3h0M323.4 390.0h0M413.4 364.1h0M372.6 374.8h0M400.2 382.1h0M325.6 370.6h0M356.6 401.4h0M374.9 397.3h0M409.4 368.0h0M463.2 324.3h0M370.6 340.3h0M399.9 373.5h0M334.4 369.8h0M363.6 359.0h0M398.6 387.4h0M391.2 400.0h0M386.6 384.5h0M377.5 372.3h0M400.1 381.1h0M414.6 367.7h0M369.5 401.8h0M397.2 356.1h0M379.3 391.3h0M393.8 337.5h0M369.4 398.5h0M367.8 423.6h0M416.0 361.0h0M366.6 399.9h0M377.8 386.2h0M399.2 338.0h0M307.5 375.7h0M360.9 359.5h0M456.1 356.2h0M333.4 356.3h0M338.7 350.9h0M318.9 389.4h0M360.9 411.3h0M410.9 367.6h0M379.7 394.3h0M369.4 393.5h0M412.0 367.7h0M373.1 361.5h0M321.9 376.1h0M344.8 372.9h0M403.9 338.3h0M382.4 344.9h0M418.1 362.1h0M368.7 404.0h0M336.9 359.7h0M386.7 349.8h0M410.0 390.2h0M328.1 366.4h0M339.2 364.2h0M365.3 360.5h0M396.8 333.9h0M343.0 360.2h0M390.3 378.1h0M355.7 403.4h0M346.3 367.3h0M388.9 342.9h0M374.1 392.6h0M382.4 366.3h0M365.8 396.7h0M389.6 337.3h0M393.7 375.8h0M373.4 339.0h0M316.6 368.6h0M361.5 402.8h0M350.4 413.0h0M390.2 359.8h0M435.3 348.6h0M348.8 350.6h0M316.4 375.8h0M391.4 336.8h0M376.9 330.5h0M360.6 414.7h0M432.0 376.8h0M467.7 350.1h0M337.0 362.2h0M462.5 343.8h0M379.2 368.2h0M379.7 342.1h0M382.1 384.8h0M397.0 384.2h0M390.6 347.6h0M417.1 359.6h0M337.5 365.0h0M360.1 349.4h0M374.6 353.4h0M341.9 386.6h0M408.1 332.6h0M345.8 360.7h0M312.1 398.1h0M451.3 344.9h0M341.6 414.4h0M374.3 392.8h0M420.3 353.2h0M319.4 372.6h0M321.8 395.4h0M307.6 383.3h0M372.1 335.1h0M389.9 327.8h0M377.5 394.4h0M396.4 369.0h0M423.7 353.9h0M362.1 357.2h0M381.1 388.7h0M374.9 389.7h0M404.5 376.8h0M405.4 370.5h0M384.8 385.5h0M372.7 394.0h0M325.7 380.1h0M307.6 374.3h0M386.8 388.5h0M392.2 335.6h0M389.3 340.6h0M370.9 391.2h0M378.3 371.6h0M351.6 407.2h0" stroke="#1b3566" stroke-width="2.70" stroke-linecap="round" fill="none"/>
<path d="M431.5 353.7h0M370.5 398.3h0M378.0 387.7h0M360.3 368.9h0M424.5 362.0h0M395.6 378.0h0M298.6 404.6h0M435.9 361.3h0M326.5 381.8h0M298.9 371.9h0M405.3 368.3h0M331.6 395.8h0M394.7 381.7h0M384.0 385.6h0M346.3 388.3h0M307.5 395.4h0M382.5 385.0h0M404.5 342.9h0M342.3 377.1h0M367.2 401.2h0M383.3 345.0h0M298.6 381.9h0M384.2 382.9h0M299.0 397.4h0M328.9 394.4h0M353.3 376.1h0M384.6 378.5h0M299.0 390.0h0M360.0 399.0h0M371.3 372.4h0M363.5 397.7h0M339.4 371.5h0M346.6 412.8h0M461.9 351.5h0M346.5 412.8h0M343.6 368.5h0M355.8 396.8h0M442.7 351.1h0M368.0 392.4h0M298.8 407.3h0M392.2 351.1h0M423.8 350.6h0M298.9 399.7h0M414.7 365.4h0" stroke="#c8102e" stroke-width="2.70" stroke-linecap="round" fill="none"/>
<path d="M411.1 366.4h0M319.5 396.4h0M365.4 403.9h0M361.8 408.5h0M404.0 379.0h0M380.2 390.3h0M403.9 364.2h0M345.2 366.8h0M380.7 384.1h0M366.0 393.7h0M365.5 400.6h0M435.5 349.9h0M342.7 409.9h0M363.2 406.1h0M312.8 377.1h0M344.5 412.9h0M383.8 369.4h0M343.8 375.3h0M399.7 378.2h0M417.7 358.3h0M373.6 398.1h0M385.4 382.8h0M375.6 369.2h0M354.2 378.4h0M384.7 384.1h0M381.8 385.4h0M344.4 413.4h0M367.2 397.2h0M409.1 363.6h0M390.0 382.8h0M411.6 333.0h0M307.9 370.9h0M383.5 346.7h0M414.5 364.9h0M340.3 419.7h0M376.0 368.1h0M363.2 401.9h0M374.2 385.7h0M425.2 356.8h0M388.4 379.4h0M368.0 393.2h0M397.7 336.9h0M348.1 386.4h0M379.0 390.2h0M361.8 403.0h0M374.2 395.6h0M381.1 388.1h0M402.5 374.1h0M369.9 400.7h0M375.7 360.3h0M412.1 366.6h0M353.1 354.9h0M387.2 380.4h0M381.3 388.3h0M388.8 376.8h0M411.8 346.0h0M379.5 392.6h0M411.5 361.4h0M363.2 398.9h0M397.3 352.3h0M365.7 397.8h0M402.9 371.3h0M412.5 364.2h0M344.5 413.7h0M353.9 404.4h0M388.6 366.3h0M365.6 398.5h0M438.9 347.4h0M345.8 423.6h0M372.3 393.2h0M399.6 376.0h0M369.0 400.2h0M368.7 372.1h0M352.9 404.0h0M337.7 383.6h0M361.1 403.3h0M419.9 355.9h0M374.5 394.8h0M382.3 350.4h0M377.2 390.1h0M382.7 385.7h0M426.2 361.7h0M386.8 385.5h0M346.3 413.7h0M369.9 399.0h0M347.3 416.4h0M441.9 346.2h0M386.9 387.2h0M408.0 367.7h0M370.3 370.7h0M366.0 395.0h0M403.0 376.7h0M393.9 369.3h0M367.1 369.7h0M443.2 344.8h0M347.4 383.1h0M363.8 405.2h0M361.7 401.3h0M426.0 358.6h0M344.7 389.8h0M396.7 372.5h0M465.9 335.0h0M407.9 368.0h0M354.9 403.7h0M382.2 385.3h0M359.9 367.8h0M397.4 369.4h0M389.3 381.5h0M404.1 366.4h0M361.6 347.7h0M373.1 375.4h0M410.9 337.4h0M367.7 357.3h0M392.2 381.6h0M416.9 353.0h0M398.0 380.6h0M375.1 396.7h0M406.5 368.2h0M367.4 395.8h0M372.2 394.9h0M348.7 412.2h0M395.2 337.5h0M388.9 383.1h0M359.5 401.6h0M376.4 372.8h0M358.8 409.0h0M383.0 343.4h0M400.5 373.2h0M424.1 354.5h0M344.5 422.4h0M404.4 375.1h0M370.1 393.6h0M368.0 397.0h0M388.7 383.9h0M421.6 361.4h0M326.7 375.3h0M373.8 391.4h0M381.7 350.2h0M381.1 381.9h0M382.3 388.1h0M358.4 402.3h0M363.0 396.0h0M367.6 392.9h0M356.4 400.0h0M364.6 378.1h0M395.0 386.9h0M422.2 355.8h0M395.2 374.0h0M392.9 375.8h0M348.9 423.6h0M369.7 403.9h0M342.2 369.4h0" stroke="#c9c9c9" stroke-width="2.70" stroke-linecap="round" fill="none"/>
<path d="M390.6 358.5h0M369.1 367.2h0M356.0 358.0h0M405.2 374.1h0M375.0 371.6h0M316.2 394.5h0M345.3 356.5h0M340.4 353.1h0M377.4 363.1h0M377.0 369.7h0M351.0 379.1h0M384.0 358.2h0M299.1 392.4h0M404.2 352.2h0M361.0 375.3h0M352.9 415.6h0M392.3 326.3h0M339.8 389.2h0M335.4 368.8h0M380.8 371.3h0M368.0 357.8h0M385.2 365.6h0M362.3 381.2h0M334.1 371.6h0M387.4 365.4h0M316.5 374.0h0M379.6 388.7h0M410.4 331.5h0M363.4 353.1h0M321.5 385.3h0M398.5 342.4h0M378.2 360.6h0M354.4 339.6h0M363.7 400.4h0M360.2 367.1h0M382.3 367.8h0M376.5 398.7h0M359.9 367.6h0M368.8 371.3h0M399.5 354.6h0M364.6 378.8h0M357.5 377.1h0M378.8 365.6h0M385.7 342.6h0M398.3 353.3h0M319.7 362.7h0M378.1 371.2h0M404.9 345.9h0M381.9 365.1h0M333.4 377.3h0M378.9 366.0h0M367.0 352.8h0M406.4 346.1h0M403.4 337.6h0M331.2 395.3h0M386.0 362.0h0M339.5 391.2h0M384.9 360.0h0M323.4 391.4h0M393.3 361.5h0M365.8 363.3h0M361.9 347.1h0M409.6 344.0h0M368.4 371.6h0M384.8 386.1h0M390.8 356.2h0M403.5 341.4h0M349.9 378.3h0M392.4 362.4h0M324.8 391.6h0M370.0 363.5h0M339.5 364.2h0M406.1 345.5h0M386.7 367.4h0M379.4 355.1h0M373.7 366.8h0M357.6 376.9h0M350.5 384.4h0M326.3 397.8h0M366.9 375.3h0M369.4 364.6h0M374.5 360.0h0M409.7 339.7h0M406.4 340.2h0M371.9 364.6h0M378.8 367.1h0M397.3 351.1h0M328.0 365.2h0M323.8 362.1h0M401.8 333.4h0M352.0 377.1h0M323.5 372.2h0M395.1 346.5h0M416.9 359.1h0M403.3 342.0h0M400.9 345.1h0M357.8 359.9h0M365.7 350.6h0M359.7 366.0h0M362.9 378.8h0M389.5 354.8h0M398.7 334.7h0M349.7 379.4h0M408.9 370.7h0M351.0 366.8h0M322.1 363.5h0M376.0 370.9h0M340.5 365.6h0M398.4 343.8h0M307.1 399.6h0M387.3 337.6h0M412.4 341.5h0M363.0 379.4h0M390.4 363.9h0M323.9 369.7h0M375.0 362.6h0M349.3 377.5h0M389.7 385.1h0M392.7 362.8h0M352.6 367.9h0M365.3 375.3h0M327.5 381.3h0M332.4 389.3h0M376.4 373.6h0M354.5 359.8h0M413.2 368.7h0M346.9 385.5h0M342.6 355.5h0M364.1 360.1h0M392.6 356.4h0M325.1 398.8h0M328.4 389.2h0M353.3 380.6h0M358.5 368.1h0M349.0 382.7h0M354.5 400.1h0M337.8 392.1h0M326.3 370.0h0M353.6 370.7h0M326.3 393.1h0M329.9 384.1h0M370.7 368.2h0M393.0 335.5h0M327.9 384.6h0M365.0 362.7h0M399.2 329.5h0M406.4 350.9h0M393.1 380.4h0M375.9 339.8h0M382.0 364.5h0M332.2 380.4h0M357.7 374.6h0M349.3 384.8h0M393.5 354.3h0M364.6 366.1h0M378.1 363.9h0M394.9 341.2h0M384.3 381.3h0M368.2 341.5h0M358.7 373.3h0M339.1 378.4h0M345.7 380.7h0M365.3 366.3h0M364.8 363.9h0M396.6 345.4h0M401.8 356.5h0M369.6 372.6h0M358.8 380.0h0M336.5 372.0h0M350.6 386.5h0M372.2 365.3h0M321.8 368.9h0M407.6 364.0h0M372.0 362.9h0M364.8 361.6h0M335.6 364.1h0M400.6 356.7h0M410.7 333.4h0M365.5 363.9h0M346.1 361.9h0M375.6 363.4h0M353.0 380.3h0M392.4 357.4h0M410.7 348.5h0M350.6 380.0h0M340.0 370.1h0M386.8 343.2h0M338.7 366.8h0M316.2 397.6h0M401.6 383.6h0M358.8 377.7h0M339.7 389.0h0M391.3 350.8h0M410.1 343.7h0M401.4 346.1h0M388.0 366.9h0M331.9 391.0h0M405.0 348.8h0M338.6 386.2h0M393.5 357.9h0M356.7 367.6h0M378.7 343.6h0M319.1 391.8h0M361.4 378.7h0M374.0 357.7h0M368.3 376.9h0M335.1 379.8h0M377.8 348.4h0M382.5 357.9h0M337.3 372.0h0M375.2 360.9h0M344.6 388.6h0M393.8 353.9h0M328.6 387.9h0M364.4 398.6h0M352.8 373.1h0M350.1 372.6h0M372.3 369.2h0M333.8 394.5h0M347.9 382.4h0M378.2 371.7h0M403.5 366.8h0M359.3 378.7h0M396.8 336.3h0M333.7 388.0h0M371.6 352.3h0M397.3 355.6h0M386.9 350.6h0M404.6 338.1h0M395.7 351.5h0M374.2 373.1h0M376.3 356.9h0M366.9 373.0h0M392.4 348.3h0M382.8 362.2h0M351.2 377.6h0M344.5 366.2h0M410.7 362.3h0M346.0 374.1h0M366.8 376.4h0M374.5 360.7h0M389.8 350.0h0M344.0 387.7h0M380.4 357.0h0M367.9 346.1h0M403.5 368.9h0M319.5 382.4h0M389.0 352.4h0M329.1 387.1h0M412.7 336.1h0M363.3 378.9h0M326.8 382.5h0M407.6 329.2h0M325.6 386.7h0M370.2 368.8h0M391.8 349.8h0M402.7 337.9h0M347.5 349.2h0M387.5 366.7h0M331.4 395.1h0M380.1 359.0h0M371.7 365.7h0M359.6 379.2h0M307.7 387.8h0M402.1 349.2h0M397.7 332.5h0M332.4 393.9h0M397.6 353.7h0M334.3 392.1h0M340.4 358.2h0M381.4 395.6h0M337.6 388.5h0M405.9 331.2h0M380.2 370.7h0M369.9 377.6h0M350.2 380.2h0M388.7 363.1h0M335.8 360.6h0M412.0 364.5h0M377.3 388.1h0M332.9 378.3h0M335.4 384.9h0M381.2 367.7h0M376.8 386.8h0M399.1 342.9h0M419.2 360.0h0M360.4 369.5h0M355.9 381.1h0M378.5 366.7h0M364.9 378.5h0M380.5 360.1h0M355.6 378.4h0M360.6 376.7h0M345.9 386.4h0M350.8 367.6h0M369.8 375.0h0M411.3 370.2h0" stroke="#f0961e" stroke-width="2.70" stroke-linecap="round" fill="none"/>
<path d="M373.5 391.9h0M392.9 324.6h0M366.6 358.2h0M416.8 354.6h0M437.9 354.7h0M388.3 379.1h0M366.6 348.6h0M411.4 361.4h0M381.4 359.9h0M340.6 373.6h0M409.8 364.9h0M390.0 347.9h0M392.4 336.8h0M375.1 393.0h0M396.1 337.0h0M377.2 342.3h0M382.3 339.9h0M435.3 313.3h0M380.5 387.4h0M339.2 355.1h0M431.2 343.7h0M437.6 341.7h0M380.6 392.6h0M357.3 407.1h0M385.9 382.6h0M370.8 335.2h0M367.7 359.6h0M380.6 337.8h0M418.9 363.3h0M358.8 361.3h0M362.3 402.2h0M414.7 362.2h0M358.4 407.4h0M412.5 365.4h0M392.2 375.4h0M358.3 423.6h0M321.8 388.2h0M398.7 381.2h0M441.5 339.4h0M329.4 364.6h0M393.9 385.2h0M331.7 394.6h0M373.1 389.4h0M395.5 334.1h0M347.8 369.1h0M372.4 392.0h0M407.1 347.2h0M358.2 421.3h0M425.1 350.9h0M347.2 355.5h0M468.6 359.1h0M368.8 391.8h0M386.1 359.4h0M385.1 378.8h0M359.9 373.7h0M456.0 331.6h0M326.1 354.3h0M401.4 356.1h0M335.0 359.4h0M332.3 368.8h0M364.0 393.8h0M425.3 359.8h0M379.1 350.9h0M375.6 387.5h0M388.0 348.3h0M437.6 344.2h0M446.1 320.6h0M361.9 398.0h0M326.6 363.7h0M364.8 405.3h0M371.1 392.6h0M363.5 342.7h0M396.6 424.2h0M376.1 364.5h0M400.1 376.7h0M357.6 340.3h0M379.5 395.5h0M377.2 385.7h0M420.5 357.5h0M391.3 376.8h0M331.3 365.6h0M420.2 357.0h0M378.4 381.3h0M380.3 414.1h0M416.1 359.6h0M413.6 380.5h0M358.2 346.3h0M379.0 349.9h0M395.3 386.8h0M385.9 377.7h0M361.2 363.4h0M390.2 377.7h0M368.0 402.7h0M334.0 389.7h0M407.0 362.1h0M441.5 345.8h0M360.3 404.0h0M431.0 347.2h0M406.5 329.9h0M333.5 370.2h0M359.0 400.9h0M338.7 410.6h0" stroke="#1b3566" stroke-width="2.70" stroke-linecap="round" fill="none"/>
<path d="M407.1 366.6h0M464.3 348.4h0M397.6 384.4h0M389.6 372.6h0M403.0 380.7h0M391.4 384.4h0M379.0 394.4h0M434.3 358.9h0M368.3 377.7h0M354.4 400.4h0M412.5 367.3h0M404.5 373.1h0M364.6 423.6h0M327.3 396.9h0M412.5 368.4h0M369.0 369.8h0M385.9 353.7h0M367.2 370.0h0M410.8 373.6h0M328.3 371.8h0M404.7 345.1h0M417.7 371.0h0M377.0 359.6h0M365.1 399.9h0M367.2 358.0h0M404.2 371.4h0M326.9 373.1h0M411.4 365.3h0M380.8 353.2h0M360.4 357.4h0M399.7 371.5h0M337.0 376.0h0M390.0 347.7h0M354.7 355.7h0M356.2 351.9h0M398.2 378.1h0M349.1 411.3h0M362.8 379.9h0M367.8 371.9h0M374.8 355.4h0M392.3 345.1h0M363.1 365.9h0M365.7 397.6h0M381.7 366.4h0M358.5 398.6h0M418.3 359.7h0M374.7 365.2h0M327.9 371.4h0M380.7 389.7h0M385.6 389.3h0M355.8 379.8h0M379.2 400.8h0M377.9 387.1h0M374.4 400.4h0M386.1 383.0h0M406.2 366.6h0M364.8 379.4h0M382.7 387.5h0M375.0 386.0h0" stroke="#c8102e" stroke-width="2.70" stroke-linecap="round" fill="none"/>
<text x="452.5" y="337" font-size="6.4" fill="#3a3a3a" stroke="#3a3a3a" stroke-width="0.12" font-style="italic">Mpo</text>
<text x="418.5" y="354.4" font-size="6.4" fill="#3a3a3a" stroke="#3a3a3a" stroke-width="0.12" font-style="italic">Ankrd28</text>
<text x="391.6" y="373.3" font-size="6.4" fill="#3a3a3a" stroke="#3a3a3a" stroke-width="0.12" font-style="italic">Spry2</text>
<text x="396.2" y="379.5" font-size="6.4" fill="#3a3a3a" stroke="#3a3a3a" stroke-width="0.12" font-style="italic">Mgst2</text>
<text x="340.4" y="409" font-size="6.4" fill="#3a3a3a" stroke="#3a3a3a" stroke-width="0.12" font-style="italic">Cacnb2</text>
<line x1="52.8" y1="486.2" x2="52.8" y2="602.5" stroke="#222" stroke-width="1.1"/>
<line x1="52.3" y1="602" x2="227" y2="602" stroke="#222" stroke-width="1.1"/>
<line x1="50.8" y1="602" x2="52.8" y2="602" stroke="#222" stroke-width="0.9"/>
<text x="47" y="604.5" font-size="7.0" fill="#333" stroke="#333" stroke-width="0.12" text-anchor="end">0</text>
<line x1="50.8" y1="567" x2="52.8" y2="567" stroke="#222" stroke-width="0.9"/>
<text x="47" y="569.5" font-size="7.0" fill="#333" stroke="#333" stroke-width="0.12" text-anchor="end">100</text>
<line x1="50.8" y1="532" x2="52.8" y2="532" stroke="#222" stroke-width="0.9"/>
<text x="47" y="534.5" font-size="7.0" fill="#333" stroke="#333" stroke-width="0.12" text-anchor="end">200</text>
<line x1="50.8" y1="497" x2="52.8" y2="497" stroke="#222" stroke-width="0.9"/>
<text x="47" y="499.5" font-size="7.0" fill="#333" stroke="#333" stroke-width="0.12" text-anchor="end">300</text>
<rect x="57.5" y="511.7" width="8.6" height="90.3" fill="#c8c8cc"/>
<line x1="61.8" y1="511.7" x2="61.8" y2="497.5" stroke="#2a2a2a" stroke-width="1.1"/>
<line x1="59.6" y1="497.5" x2="64" y2="497.5" stroke="#2a2a2a" stroke-width="1.1"/>
<line x1="61.8" y1="602" x2="61.8" y2="604" stroke="#222" stroke-width="0.9"/>
<text x="61.1" y="609.8" font-size="6.0" fill="#3a3a3a" stroke="#3a3a3a" stroke-width="0.12" text-anchor="end" transform="rotate(-45 61.1 609.8)">Scramble</text>
<rect x="70.5" y="560.5" width="8.6" height="41.5" fill="#cc0f2c"/>
<line x1="74.8" y1="560.5" x2="74.8" y2="554.4" stroke="#2a2a2a" stroke-width="1.1"/>
<line x1="72.6" y1="554.4" x2="77" y2="554.4" stroke="#2a2a2a" stroke-width="1.1"/>
<text x="74.8" y="552.8" font-size="6.0" fill="#222" text-anchor="middle" font-weight="bold">*</text>
<line x1="74.8" y1="602" x2="74.8" y2="604" stroke="#222" stroke-width="0.9"/>
<text x="74.1" y="609.8" font-size="6.0" fill="#3a3a3a" stroke="#3a3a3a" stroke-width="0.12" text-anchor="end" transform="rotate(-45 74.1 609.8)"><tspan font-style="italic">shHoxa1</tspan></text>
<rect x="83.6" y="585.5" width="8.6" height="16.4" fill="#cc0f2c"/>
<line x1="87.9" y1="585.5" x2="87.9" y2="583.8" stroke="#2a2a2a" stroke-width="1.1"/>
<line x1="85.7" y1="583.8" x2="90.1" y2="583.8" stroke="#2a2a2a" stroke-width="1.1"/>
<text x="87.9" y="582.2" font-size="6.0" fill="#222" text-anchor="middle" font-weight="bold">*</text>
<line x1="87.9" y1="602" x2="87.9" y2="604" stroke="#222" stroke-width="0.9"/>
<text x="87.2" y="609.8" font-size="6.0" fill="#3a3a3a" stroke="#3a3a3a" stroke-width="0.12" text-anchor="end" transform="rotate(-45 87.2 609.8)"><tspan font-style="italic">shId1</tspan></text>
<rect x="96.6" y="570.1" width="8.6" height="31.8" fill="#cc0f2c"/>
<line x1="100.9" y1="570.1" x2="100.9" y2="564.2" stroke="#2a2a2a" stroke-width="1.1"/>
<line x1="98.7" y1="564.2" x2="103.1" y2="564.2" stroke="#2a2a2a" stroke-width="1.1"/>
<text x="100.9" y="562.6" font-size="6.0" fill="#222" text-anchor="middle" font-weight="bold">*</text>
<line x1="100.9" y1="602" x2="100.9" y2="604" stroke="#222" stroke-width="0.9"/>
<text x="100.2" y="609.8" font-size="6.0" fill="#3a3a3a" stroke="#3a3a3a" stroke-width="0.12" text-anchor="end" transform="rotate(-45 100.2 609.8)"><tspan font-style="italic">shId2</tspan></text>
<rect x="109.6" y="571.9" width="8.6" height="30.1" fill="#cc0f2c"/>
<line x1="113.9" y1="571.9" x2="113.9" y2="564.2" stroke="#2a2a2a" stroke-width="1.1"/>
<line x1="111.7" y1="564.2" x2="116.1" y2="564.2" stroke="#2a2a2a" stroke-width="1.1"/>
<text x="113.9" y="562.6" font-size="6.0" fill="#222" text-anchor="middle" font-weight="bold">**</text>
<line x1="113.9" y1="602" x2="113.9" y2="604" stroke="#222" stroke-width="0.9"/>
<text x="113.2" y="609.8" font-size="6.0" fill="#3a3a3a" stroke="#3a3a3a" stroke-width="0.12" text-anchor="end" transform="rotate(-45 113.2 609.8)"><tspan font-style="italic">shJunb</tspan></text>
<rect x="122.6" y="548.1" width="8.6" height="53.9" fill="#cc0f2c"/>
<line x1="126.9" y1="548.1" x2="126.9" y2="535.5" stroke="#2a2a2a" stroke-width="1.1"/>
<line x1="124.7" y1="535.5" x2="129.1" y2="535.5" stroke="#2a2a2a" stroke-width="1.1"/>
<text x="126.9" y="533.9" font-size="6.0" fill="#222" text-anchor="middle" font-weight="bold">*</text>
<line x1="126.9" y1="602" x2="126.9" y2="604" stroke="#222" stroke-width="0.9"/>
<text x="126.2" y="609.8" font-size="6.0" fill="#3a3a3a" stroke="#3a3a3a" stroke-width="0.12" text-anchor="end" transform="rotate(-45 126.2 609.8)"><tspan font-style="italic">shKlf2</tspan></text>
<rect x="135.7" y="558.2" width="8.6" height="43.8" fill="#cc0f2c"/>
<line x1="140" y1="558.2" x2="140" y2="544.2" stroke="#2a2a2a" stroke-width="1.1"/>
<line x1="137.8" y1="544.2" x2="142.2" y2="544.2" stroke="#2a2a2a" stroke-width="1.1"/>
<text x="140" y="542.6" font-size="6.0" fill="#222" text-anchor="middle" font-weight="bold">*</text>
<line x1="140" y1="602" x2="140" y2="604" stroke="#222" stroke-width="0.9"/>
<text x="139.3" y="609.8" font-size="6.0" fill="#3a3a3a" stroke="#3a3a3a" stroke-width="0.12" text-anchor="end" transform="rotate(-45 139.3 609.8)"><tspan font-style="italic">shMecom</tspan></text>
<rect x="148.7" y="550" width="8.6" height="52" fill="#cc0f2c"/>
<line x1="153" y1="550" x2="153" y2="535.1" stroke="#2a2a2a" stroke-width="1.1"/>
<line x1="150.8" y1="535.1" x2="155.2" y2="535.1" stroke="#2a2a2a" stroke-width="1.1"/>
<text x="153" y="533.5" font-size="6.0" fill="#222" text-anchor="middle" font-weight="bold">*</text>
<line x1="153" y1="602" x2="153" y2="604" stroke="#222" stroke-width="0.9"/>
<text x="152.3" y="609.8" font-size="6.0" fill="#3a3a3a" stroke="#3a3a3a" stroke-width="0.12" text-anchor="end" transform="rotate(-45 152.3 609.8)"><tspan font-style="italic">shAnkrd28</tspan></text>
<rect x="161.7" y="543.2" width="8.6" height="58.8" fill="#cc0f2c"/>
<line x1="166" y1="543.2" x2="166" y2="539" stroke="#2a2a2a" stroke-width="1.1"/>
<line x1="163.8" y1="539" x2="168.2" y2="539" stroke="#2a2a2a" stroke-width="1.1"/>
<text x="166" y="537.4" font-size="6.0" fill="#222" text-anchor="middle" font-weight="bold">*</text>
<line x1="166" y1="602" x2="166" y2="604" stroke="#222" stroke-width="0.9"/>
<text x="165.3" y="609.8" font-size="6.0" fill="#3a3a3a" stroke="#3a3a3a" stroke-width="0.12" text-anchor="end" transform="rotate(-45 165.3 609.8)"><tspan font-style="italic">shCacnb2</tspan></text>
<rect x="174.8" y="562.5" width="8.6" height="39.5" fill="#cc0f2c"/>
<line x1="179.1" y1="562.5" x2="179.1" y2="552" stroke="#2a2a2a" stroke-width="1.1"/>
<line x1="176.9" y1="552" x2="181.3" y2="552" stroke="#2a2a2a" stroke-width="1.1"/>
<text x="179.1" y="550.4" font-size="6.0" fill="#222" text-anchor="middle" font-weight="bold">**</text>
<line x1="179.1" y1="602" x2="179.1" y2="604" stroke="#222" stroke-width="0.9"/>
<text x="178.4" y="609.8" font-size="6.0" fill="#3a3a3a" stroke="#3a3a3a" stroke-width="0.12" text-anchor="end" transform="rotate(-45 178.4 609.8)"><tspan font-style="italic">shMgst2</tspan></text>
<rect x="187.8" y="585" width="8.6" height="17" fill="#cc0f2c"/>
<line x1="192.1" y1="585" x2="192.1" y2="579.6" stroke="#2a2a2a" stroke-width="1.1"/>
<line x1="189.9" y1="579.6" x2="194.3" y2="579.6" stroke="#2a2a2a" stroke-width="1.1"/>
<text x="192.1" y="578" font-size="6.0" fill="#222" text-anchor="middle" font-weight="bold">**</text>
<line x1="192.1" y1="602" x2="192.1" y2="604" stroke="#222" stroke-width="0.9"/>
<text x="191.4" y="609.8" font-size="6.0" fill="#3a3a3a" stroke="#3a3a3a" stroke-width="0.12" text-anchor="end" transform="rotate(-45 191.4 609.8)"><tspan font-style="italic">shMpo</tspan></text>
<rect x="200.8" y="580.6" width="8.6" height="21.3" fill="#cc0f2c"/>
<line x1="205.1" y1="580.6" x2="205.1" y2="577.1" stroke="#2a2a2a" stroke-width="1.1"/>
<line x1="202.9" y1="577.1" x2="207.3" y2="577.1" stroke="#2a2a2a" stroke-width="1.1"/>
<text x="205.1" y="575.5" font-size="6.0" fill="#222" text-anchor="middle" font-weight="bold">**</text>
<line x1="205.1" y1="602" x2="205.1" y2="604" stroke="#222" stroke-width="0.9"/>
<text x="204.4" y="609.8" font-size="6.0" fill="#3a3a3a" stroke="#3a3a3a" stroke-width="0.12" text-anchor="end" transform="rotate(-45 204.4 609.8)"><tspan font-style="italic">shSpry2</tspan></text>
<rect x="213.9" y="557.5" width="8.6" height="44.4" fill="#cc0f2c"/>
<line x1="218.2" y1="557.5" x2="218.2" y2="552.6" stroke="#2a2a2a" stroke-width="1.1"/>
<line x1="216" y1="552.6" x2="220.4" y2="552.6" stroke="#2a2a2a" stroke-width="1.1"/>
<text x="218.2" y="551" font-size="6.0" fill="#222" text-anchor="middle" font-weight="bold">*</text>
<line x1="218.2" y1="602" x2="218.2" y2="604" stroke="#222" stroke-width="0.9"/>
<text x="217.5" y="609.8" font-size="6.0" fill="#3a3a3a" stroke="#3a3a3a" stroke-width="0.12" text-anchor="end" transform="rotate(-45 217.5 609.8)"><tspan font-style="italic">shXrcc5</tspan></text>
<text x="19.4" y="544.2" font-size="8.0" fill="#222" stroke="#222" stroke-width="0.12" text-anchor="middle" transform="rotate(-90 19.4 544.2)" textLength="41.3" lengthAdjust="spacingAndGlyphs">Colony formation</text>
<text x="29.6" y="543.8" font-size="7.8" fill="#222" stroke="#222" stroke-width="0.12" text-anchor="middle" transform="rotate(-90 29.6 543.8)" textLength="62.4" lengthAdjust="spacingAndGlyphs">(colonies per 10000 cells)</text>
<text x="106.5" y="494.5" font-size="6.6" fill="#b01030" text-anchor="middle" font-weight="bold">Oncogenic</text>
<line x1="69.5" y1="498.3" x2="142.5" y2="498.3" stroke="#999" stroke-width="1.3"/>
<text x="105.8" y="505.2" font-size="7.0" fill="#333" stroke="#333" stroke-width="0.12" text-anchor="middle"><tspan fill="#c8143c">LSC</tspan><tspan fill="#333" font-size="5.6" font-weight="bold"> vs </tspan><tspan fill="#55b04f">GMP</tspan></text>
<text x="185" y="494.5" font-size="6.6" fill="#3a9a3a" text-anchor="middle" font-weight="bold">Self-renewal</text>
<line x1="148.7" y1="498.3" x2="221.3" y2="498.3" stroke="#999" stroke-width="1.3"/>
<text x="184.6" y="505.2" font-size="7.0" fill="#333" stroke="#333" stroke-width="0.12" text-anchor="middle"><tspan fill="#c8143c">LSC</tspan><tspan fill="#333" font-size="5.6" font-weight="bold"> vs </tspan><tspan fill="#f0a030">mAML</tspan></text>
<line x1="298.5" y1="486.2" x2="298.5" y2="602.5" stroke="#222" stroke-width="1.1"/>
<line x1="298" y1="602" x2="473" y2="602" stroke="#222" stroke-width="1.1"/>
<line x1="296.5" y1="602" x2="298.5" y2="602" stroke="#222" stroke-width="0.9"/>
<text x="292.6" y="604.5" font-size="6.9" fill="#333" stroke="#333" stroke-width="0.12" text-anchor="end">0.0</text>
<line x1="296.5" y1="553.8" x2="298.5" y2="553.8" stroke="#222" stroke-width="0.9"/>
<text x="292.6" y="556.2" font-size="6.9" fill="#333" stroke="#333" stroke-width="0.12" text-anchor="end">0.5</text>
<line x1="296.5" y1="505.5" x2="298.5" y2="505.5" stroke="#222" stroke-width="0.9"/>
<text x="292.6" y="508" font-size="6.9" fill="#333" stroke="#333" stroke-width="0.12" text-anchor="end">1.0</text>
<line x1="297" y1="577.9" x2="298.5" y2="577.9" stroke="#222" stroke-width="0.8"/>
<line x1="297" y1="529.6" x2="298.5" y2="529.6" stroke="#222" stroke-width="0.8"/>
<rect x="303.2" y="505.5" width="8" height="13.8" fill="#d7dbb7"/>
<rect x="303.2" y="519.3" width="8" height="30.6" fill="#b9b3e2"/>
<rect x="303.2" y="549.9" width="8" height="52.1" fill="#8c8c9e"/>
<line x1="303.2" y1="519.3" x2="311.2" y2="519.3" stroke="#8a84b8" stroke-width="0.6"/>
<line x1="303.2" y1="549.9" x2="311.2" y2="549.9" stroke="#55556a" stroke-width="0.8"/>
<line x1="307.2" y1="550.9" x2="307.2" y2="548.9" stroke="#303048" stroke-width="0.8"/>
<line x1="305.4" y1="548.9" x2="309.1" y2="548.9" stroke="#303048" stroke-width="0.8"/>
<line x1="305.4" y1="550.9" x2="309.1" y2="550.9" stroke="#303048" stroke-width="0.8"/>
<line x1="307.2" y1="520.3" x2="307.2" y2="518.3" stroke="#403c70" stroke-width="0.8"/>
<line x1="305.4" y1="518.3" x2="309.1" y2="518.3" stroke="#403c70" stroke-width="0.8"/>
<line x1="305.4" y1="520.3" x2="309.1" y2="520.3" stroke="#403c70" stroke-width="0.8"/>
<line x1="307.2" y1="506.5" x2="307.2" y2="504.5" stroke="#8a8a70" stroke-width="0.8"/>
<line x1="305.4" y1="504.5" x2="309.1" y2="504.5" stroke="#8a8a70" stroke-width="0.8"/>
<line x1="305.4" y1="506.5" x2="309.1" y2="506.5" stroke="#8a8a70" stroke-width="0.8"/>
<line x1="307.2" y1="602" x2="307.2" y2="604" stroke="#222" stroke-width="0.9"/>
<text x="306.6" y="609.8" font-size="6.0" fill="#3a3a3a" stroke="#3a3a3a" stroke-width="0.12" text-anchor="end" transform="rotate(-45 306.6 609.8)">Scramble</text>
<rect x="316.3" y="506.5" width="8" height="24.6" fill="#d7dbb7"/>
<rect x="316.3" y="531.1" width="8" height="31.9" fill="#b9b3e2"/>
<rect x="316.3" y="563" width="8" height="39" fill="#8c8c9e"/>
<line x1="316.3" y1="531.1" x2="324.3" y2="531.1" stroke="#8a84b8" stroke-width="0.6"/>
<line x1="316.3" y1="563" x2="324.3" y2="563" stroke="#55556a" stroke-width="0.8"/>
<line x1="320.3" y1="567.8" x2="320.3" y2="558.2" stroke="#303048" stroke-width="0.8"/>
<line x1="318.5" y1="558.2" x2="322.1" y2="558.2" stroke="#303048" stroke-width="0.8"/>
<line x1="318.5" y1="567.8" x2="322.1" y2="567.8" stroke="#303048" stroke-width="0.8"/>
<line x1="320.3" y1="536.4" x2="320.3" y2="525.8" stroke="#403c70" stroke-width="0.8"/>
<line x1="318.5" y1="525.8" x2="322.1" y2="525.8" stroke="#403c70" stroke-width="0.8"/>
<line x1="318.5" y1="536.4" x2="322.1" y2="536.4" stroke="#403c70" stroke-width="0.8"/>
<line x1="320.3" y1="509.4" x2="320.3" y2="503.6" stroke="#8a8a70" stroke-width="0.8"/>
<line x1="318.5" y1="503.6" x2="322.1" y2="503.6" stroke="#8a8a70" stroke-width="0.8"/>
<line x1="318.5" y1="509.4" x2="322.1" y2="509.4" stroke="#8a8a70" stroke-width="0.8"/>
<line x1="320.3" y1="602" x2="320.3" y2="604" stroke="#222" stroke-width="0.9"/>
<text x="319.6" y="609.8" font-size="6.0" fill="#3a3a3a" stroke="#3a3a3a" stroke-width="0.12" text-anchor="end" transform="rotate(-45 319.6 609.8)"><tspan font-style="italic">shHoxa1</tspan></text>
<rect x="329.4" y="506" width="8" height="56.5" fill="#d7dbb7"/>
<rect x="329.4" y="562.4" width="8" height="27" fill="#b9b3e2"/>
<rect x="329.4" y="589.5" width="8" height="12.5" fill="#8c8c9e"/>
<line x1="329.4" y1="562.4" x2="337.4" y2="562.4" stroke="#8a84b8" stroke-width="0.6"/>
<line x1="329.4" y1="589.5" x2="337.4" y2="589.5" stroke="#55556a" stroke-width="0.8"/>
<line x1="333.4" y1="590.4" x2="333.4" y2="588.5" stroke="#303048" stroke-width="0.8"/>
<line x1="331.6" y1="588.5" x2="335.2" y2="588.5" stroke="#303048" stroke-width="0.8"/>
<line x1="331.6" y1="590.4" x2="335.2" y2="590.4" stroke="#303048" stroke-width="0.8"/>
<line x1="333.4" y1="563.9" x2="333.4" y2="561" stroke="#403c70" stroke-width="0.8"/>
<line x1="331.6" y1="561" x2="335.2" y2="561" stroke="#403c70" stroke-width="0.8"/>
<line x1="331.6" y1="563.9" x2="335.2" y2="563.9" stroke="#403c70" stroke-width="0.8"/>
<line x1="333.4" y1="507.9" x2="333.4" y2="504.1" stroke="#8a8a70" stroke-width="0.8"/>
<line x1="331.6" y1="504.1" x2="335.2" y2="504.1" stroke="#8a8a70" stroke-width="0.8"/>
<line x1="331.6" y1="507.9" x2="335.2" y2="507.9" stroke="#8a8a70" stroke-width="0.8"/>
<line x1="333.4" y1="602" x2="333.4" y2="604" stroke="#222" stroke-width="0.9"/>
<text x="332.7" y="609.8" font-size="6.0" fill="#3a3a3a" stroke="#3a3a3a" stroke-width="0.12" text-anchor="end" transform="rotate(-45 332.7 609.8)"><tspan font-style="italic">shId1</tspan></text>
<rect x="342.5" y="505.5" width="8" height="35.2" fill="#d7dbb7"/>
<rect x="342.5" y="540.7" width="8" height="44.3" fill="#b9b3e2"/>
<rect x="342.5" y="585" width="8" height="17" fill="#8c8c9e"/>
<line x1="342.5" y1="540.7" x2="350.5" y2="540.7" stroke="#8a84b8" stroke-width="0.6"/>
<line x1="342.5" y1="585" x2="350.5" y2="585" stroke="#55556a" stroke-width="0.8"/>
<line x1="346.5" y1="586" x2="346.5" y2="584.1" stroke="#303048" stroke-width="0.8"/>
<line x1="344.7" y1="584.1" x2="348.3" y2="584.1" stroke="#303048" stroke-width="0.8"/>
<line x1="344.7" y1="586" x2="348.3" y2="586" stroke="#303048" stroke-width="0.8"/>
<line x1="346.5" y1="542.7" x2="346.5" y2="538.8" stroke="#403c70" stroke-width="0.8"/>
<line x1="344.7" y1="538.8" x2="348.3" y2="538.8" stroke="#403c70" stroke-width="0.8"/>
<line x1="344.7" y1="542.7" x2="348.3" y2="542.7" stroke="#403c70" stroke-width="0.8"/>
<line x1="346.5" y1="507.4" x2="346.5" y2="503.6" stroke="#8a8a70" stroke-width="0.8"/>
<line x1="344.7" y1="503.6" x2="348.3" y2="503.6" stroke="#8a8a70" stroke-width="0.8"/>
<line x1="344.7" y1="507.4" x2="348.3" y2="507.4" stroke="#8a8a70" stroke-width="0.8"/>
<line x1="346.5" y1="602" x2="346.5" y2="604" stroke="#222" stroke-width="0.9"/>
<text x="345.8" y="609.8" font-size="6.0" fill="#3a3a3a" stroke="#3a3a3a" stroke-width="0.12" text-anchor="end" transform="rotate(-45 345.8 609.8)"><tspan font-style="italic">shId2</tspan></text>
<rect x="355.6" y="505.5" width="8" height="42" fill="#d7dbb7"/>
<rect x="355.6" y="547.5" width="8" height="36.2" fill="#b9b3e2"/>
<rect x="355.6" y="583.7" width="8" height="18.3" fill="#8c8c9e"/>
<line x1="355.6" y1="547.5" x2="363.6" y2="547.5" stroke="#8a84b8" stroke-width="0.6"/>
<line x1="355.6" y1="583.7" x2="363.6" y2="583.7" stroke="#55556a" stroke-width="0.8"/>
<line x1="359.6" y1="585.1" x2="359.6" y2="582.2" stroke="#303048" stroke-width="0.8"/>
<line x1="357.8" y1="582.2" x2="361.4" y2="582.2" stroke="#303048" stroke-width="0.8"/>
<line x1="357.8" y1="585.1" x2="361.4" y2="585.1" stroke="#303048" stroke-width="0.8"/>
<line x1="359.6" y1="548.4" x2="359.6" y2="546.5" stroke="#403c70" stroke-width="0.8"/>
<line x1="357.8" y1="546.5" x2="361.4" y2="546.5" stroke="#403c70" stroke-width="0.8"/>
<line x1="357.8" y1="548.4" x2="361.4" y2="548.4" stroke="#403c70" stroke-width="0.8"/>
<line x1="359.6" y1="506.9" x2="359.6" y2="504.1" stroke="#8a8a70" stroke-width="0.8"/>
<line x1="357.8" y1="504.1" x2="361.4" y2="504.1" stroke="#8a8a70" stroke-width="0.8"/>
<line x1="357.8" y1="506.9" x2="361.4" y2="506.9" stroke="#8a8a70" stroke-width="0.8"/>
<line x1="359.6" y1="602" x2="359.6" y2="604" stroke="#222" stroke-width="0.9"/>
<text x="358.9" y="609.8" font-size="6.0" fill="#3a3a3a" stroke="#3a3a3a" stroke-width="0.12" text-anchor="end" transform="rotate(-45 358.9 609.8)"><tspan font-style="italic">shJunb</tspan></text>
<rect x="368.6" y="505.5" width="8" height="27.5" fill="#d7dbb7"/>
<rect x="368.6" y="533" width="8" height="42.9" fill="#b9b3e2"/>
<rect x="368.6" y="575.9" width="8" height="26.1" fill="#8c8c9e"/>
<line x1="368.6" y1="533" x2="376.6" y2="533" stroke="#8a84b8" stroke-width="0.6"/>
<line x1="368.6" y1="575.9" x2="376.6" y2="575.9" stroke="#55556a" stroke-width="0.8"/>
<line x1="372.6" y1="577.4" x2="372.6" y2="574.5" stroke="#303048" stroke-width="0.8"/>
<line x1="370.8" y1="574.5" x2="374.4" y2="574.5" stroke="#303048" stroke-width="0.8"/>
<line x1="370.8" y1="577.4" x2="374.4" y2="577.4" stroke="#303048" stroke-width="0.8"/>
<line x1="372.6" y1="536.9" x2="372.6" y2="529.1" stroke="#403c70" stroke-width="0.8"/>
<line x1="370.8" y1="529.1" x2="374.4" y2="529.1" stroke="#403c70" stroke-width="0.8"/>
<line x1="370.8" y1="536.9" x2="374.4" y2="536.9" stroke="#403c70" stroke-width="0.8"/>
<line x1="372.6" y1="509.4" x2="372.6" y2="501.6" stroke="#8a8a70" stroke-width="0.8"/>
<line x1="370.8" y1="501.6" x2="374.4" y2="501.6" stroke="#8a8a70" stroke-width="0.8"/>
<line x1="370.8" y1="509.4" x2="374.4" y2="509.4" stroke="#8a8a70" stroke-width="0.8"/>
<line x1="372.6" y1="602" x2="372.6" y2="604" stroke="#222" stroke-width="0.9"/>
<text x="371.9" y="609.8" font-size="6.0" fill="#3a3a3a" stroke="#3a3a3a" stroke-width="0.12" text-anchor="end" transform="rotate(-45 371.9 609.8)"><tspan font-style="italic">shKlf2</tspan></text>
<rect x="381.7" y="505.5" width="8" height="27" fill="#d7dbb7"/>
<rect x="381.7" y="532.5" width="8" height="39.6" fill="#b9b3e2"/>
<rect x="381.7" y="572.1" width="8" height="29.9" fill="#8c8c9e"/>
<line x1="381.7" y1="532.5" x2="389.7" y2="532.5" stroke="#8a84b8" stroke-width="0.6"/>
<line x1="381.7" y1="572.1" x2="389.7" y2="572.1" stroke="#55556a" stroke-width="0.8"/>
<line x1="385.7" y1="574" x2="385.7" y2="570.2" stroke="#303048" stroke-width="0.8"/>
<line x1="383.9" y1="570.2" x2="387.5" y2="570.2" stroke="#303048" stroke-width="0.8"/>
<line x1="383.9" y1="574" x2="387.5" y2="574" stroke="#303048" stroke-width="0.8"/>
<line x1="385.7" y1="533.5" x2="385.7" y2="531.6" stroke="#403c70" stroke-width="0.8"/>
<line x1="383.9" y1="531.6" x2="387.5" y2="531.6" stroke="#403c70" stroke-width="0.8"/>
<line x1="383.9" y1="533.5" x2="387.5" y2="533.5" stroke="#403c70" stroke-width="0.8"/>
<line x1="385.7" y1="506.5" x2="385.7" y2="504.5" stroke="#8a8a70" stroke-width="0.8"/>
<line x1="383.9" y1="504.5" x2="387.5" y2="504.5" stroke="#8a8a70" stroke-width="0.8"/>
<line x1="383.9" y1="506.5" x2="387.5" y2="506.5" stroke="#8a8a70" stroke-width="0.8"/>
<line x1="385.7" y1="602" x2="385.7" y2="604" stroke="#222" stroke-width="0.9"/>
<text x="385" y="609.8" font-size="6.0" fill="#3a3a3a" stroke="#3a3a3a" stroke-width="0.12" text-anchor="end" transform="rotate(-45 385 609.8)"><tspan font-style="italic">shMecom</tspan></text>
<rect x="394.8" y="506.5" width="8" height="12.5" fill="#d7dbb7"/>
<rect x="394.8" y="519" width="8" height="28.5" fill="#b9b3e2"/>
<rect x="394.8" y="547.5" width="8" height="54.5" fill="#8c8c9e"/>
<line x1="394.8" y1="519" x2="402.8" y2="519" stroke="#8a84b8" stroke-width="0.6"/>
<line x1="394.8" y1="547.5" x2="402.8" y2="547.5" stroke="#55556a" stroke-width="0.8"/>
<line x1="398.8" y1="549.9" x2="398.8" y2="545.1" stroke="#303048" stroke-width="0.8"/>
<line x1="397" y1="545.1" x2="400.6" y2="545.1" stroke="#303048" stroke-width="0.8"/>
<line x1="397" y1="549.9" x2="400.6" y2="549.9" stroke="#303048" stroke-width="0.8"/>
<line x1="398.8" y1="520" x2="398.8" y2="518" stroke="#403c70" stroke-width="0.8"/>
<line x1="397" y1="518" x2="400.6" y2="518" stroke="#403c70" stroke-width="0.8"/>
<line x1="397" y1="520" x2="400.6" y2="520" stroke="#403c70" stroke-width="0.8"/>
<line x1="398.8" y1="507.4" x2="398.8" y2="505.5" stroke="#8a8a70" stroke-width="0.8"/>
<line x1="397" y1="505.5" x2="400.6" y2="505.5" stroke="#8a8a70" stroke-width="0.8"/>
<line x1="397" y1="507.4" x2="400.6" y2="507.4" stroke="#8a8a70" stroke-width="0.8"/>
<line x1="398.8" y1="602" x2="398.8" y2="604" stroke="#222" stroke-width="0.9"/>
<text x="398.1" y="609.8" font-size="6.0" fill="#3a3a3a" stroke="#3a3a3a" stroke-width="0.12" text-anchor="end" transform="rotate(-45 398.1 609.8)"><tspan font-style="italic">shAnkrd28</tspan></text>
<rect x="407.9" y="506.5" width="8" height="20.7" fill="#d7dbb7"/>
<rect x="407.9" y="527.2" width="8" height="49.7" fill="#b9b3e2"/>
<rect x="407.9" y="576.9" width="8" height="25.1" fill="#8c8c9e"/>
<line x1="407.9" y1="527.2" x2="415.9" y2="527.2" stroke="#8a84b8" stroke-width="0.6"/>
<line x1="407.9" y1="576.9" x2="415.9" y2="576.9" stroke="#55556a" stroke-width="0.8"/>
<line x1="411.9" y1="578.8" x2="411.9" y2="575" stroke="#303048" stroke-width="0.8"/>
<line x1="410.1" y1="575" x2="413.7" y2="575" stroke="#303048" stroke-width="0.8"/>
<line x1="410.1" y1="578.8" x2="413.7" y2="578.8" stroke="#303048" stroke-width="0.8"/>
<line x1="411.9" y1="528.7" x2="411.9" y2="525.8" stroke="#403c70" stroke-width="0.8"/>
<line x1="410.1" y1="525.8" x2="413.7" y2="525.8" stroke="#403c70" stroke-width="0.8"/>
<line x1="410.1" y1="528.7" x2="413.7" y2="528.7" stroke="#403c70" stroke-width="0.8"/>
<line x1="411.9" y1="508.4" x2="411.9" y2="504.5" stroke="#8a8a70" stroke-width="0.8"/>
<line x1="410.1" y1="504.5" x2="413.7" y2="504.5" stroke="#8a8a70" stroke-width="0.8"/>
<line x1="410.1" y1="508.4" x2="413.7" y2="508.4" stroke="#8a8a70" stroke-width="0.8"/>
<line x1="411.9" y1="602" x2="411.9" y2="604" stroke="#222" stroke-width="0.9"/>
<text x="411.2" y="609.8" font-size="6.0" fill="#3a3a3a" stroke="#3a3a3a" stroke-width="0.12" text-anchor="end" transform="rotate(-45 411.2 609.8)"><tspan font-style="italic">shCacnb2</tspan></text>
<rect x="421" y="506.5" width="8" height="37.6" fill="#d7dbb7"/>
<rect x="421" y="544.1" width="8" height="46.3" fill="#b9b3e2"/>
<rect x="421" y="590.4" width="8" height="11.6" fill="#8c8c9e"/>
<line x1="421" y1="544.1" x2="429" y2="544.1" stroke="#8a84b8" stroke-width="0.6"/>
<line x1="421" y1="590.4" x2="429" y2="590.4" stroke="#55556a" stroke-width="0.8"/>
<line x1="425" y1="591.4" x2="425" y2="589.5" stroke="#303048" stroke-width="0.8"/>
<line x1="423.2" y1="589.5" x2="426.8" y2="589.5" stroke="#303048" stroke-width="0.8"/>
<line x1="423.2" y1="591.4" x2="426.8" y2="591.4" stroke="#303048" stroke-width="0.8"/>
<line x1="425" y1="546" x2="425" y2="542.2" stroke="#403c70" stroke-width="0.8"/>
<line x1="423.2" y1="542.2" x2="426.8" y2="542.2" stroke="#403c70" stroke-width="0.8"/>
<line x1="423.2" y1="546" x2="426.8" y2="546" stroke="#403c70" stroke-width="0.8"/>
<line x1="425" y1="508.4" x2="425" y2="504.5" stroke="#8a8a70" stroke-width="0.8"/>
<line x1="423.2" y1="504.5" x2="426.8" y2="504.5" stroke="#8a8a70" stroke-width="0.8"/>
<line x1="423.2" y1="508.4" x2="426.8" y2="508.4" stroke="#8a8a70" stroke-width="0.8"/>
<line x1="425" y1="602" x2="425" y2="604" stroke="#222" stroke-width="0.9"/>
<text x="424.3" y="609.8" font-size="6.0" fill="#3a3a3a" stroke="#3a3a3a" stroke-width="0.12" text-anchor="end" transform="rotate(-45 424.3 609.8)"><tspan font-style="italic">shMgst2</tspan></text>
<rect x="434.1" y="506.5" width="8" height="22.6" fill="#d7dbb7"/>
<rect x="434.1" y="529" width="8" height="48.4" fill="#b9b3e2"/>
<rect x="434.1" y="577.5" width="8" height="24.5" fill="#8c8c9e"/>
<line x1="434.1" y1="529" x2="442.1" y2="529" stroke="#8a84b8" stroke-width="0.6"/>
<line x1="434.1" y1="577.5" x2="442.1" y2="577.5" stroke="#55556a" stroke-width="0.8"/>
<line x1="438.1" y1="581.8" x2="438.1" y2="573.1" stroke="#303048" stroke-width="0.8"/>
<line x1="436.2" y1="573.1" x2="439.9" y2="573.1" stroke="#303048" stroke-width="0.8"/>
<line x1="436.2" y1="581.8" x2="439.9" y2="581.8" stroke="#303048" stroke-width="0.8"/>
<line x1="438.1" y1="530" x2="438.1" y2="528.1" stroke="#403c70" stroke-width="0.8"/>
<line x1="436.2" y1="528.1" x2="439.9" y2="528.1" stroke="#403c70" stroke-width="0.8"/>
<line x1="436.2" y1="530" x2="439.9" y2="530" stroke="#403c70" stroke-width="0.8"/>
<line x1="438.1" y1="511.3" x2="438.1" y2="501.6" stroke="#8a8a70" stroke-width="0.8"/>
<line x1="436.2" y1="501.6" x2="439.9" y2="501.6" stroke="#8a8a70" stroke-width="0.8"/>
<line x1="436.2" y1="511.3" x2="439.9" y2="511.3" stroke="#8a8a70" stroke-width="0.8"/>
<line x1="438.1" y1="602" x2="438.1" y2="604" stroke="#222" stroke-width="0.9"/>
<text x="437.4" y="609.8" font-size="6.0" fill="#3a3a3a" stroke="#3a3a3a" stroke-width="0.12" text-anchor="end" transform="rotate(-45 437.4 609.8)"><tspan font-style="italic">shMpo</tspan></text>
<rect x="447.1" y="506.5" width="8" height="48.2" fill="#d7dbb7"/>
<rect x="447.1" y="554.7" width="8" height="32.2" fill="#b9b3e2"/>
<rect x="447.1" y="586.9" width="8" height="15.1" fill="#8c8c9e"/>
<line x1="447.1" y1="554.7" x2="455.1" y2="554.7" stroke="#8a84b8" stroke-width="0.6"/>
<line x1="447.1" y1="586.9" x2="455.1" y2="586.9" stroke="#55556a" stroke-width="0.8"/>
<line x1="451.1" y1="588.9" x2="451.1" y2="585" stroke="#303048" stroke-width="0.8"/>
<line x1="449.3" y1="585" x2="452.9" y2="585" stroke="#303048" stroke-width="0.8"/>
<line x1="449.3" y1="588.9" x2="452.9" y2="588.9" stroke="#303048" stroke-width="0.8"/>
<line x1="451.1" y1="556.6" x2="451.1" y2="552.8" stroke="#403c70" stroke-width="0.8"/>
<line x1="449.3" y1="552.8" x2="452.9" y2="552.8" stroke="#403c70" stroke-width="0.8"/>
<line x1="449.3" y1="556.6" x2="452.9" y2="556.6" stroke="#403c70" stroke-width="0.8"/>
<line x1="451.1" y1="508.4" x2="451.1" y2="504.5" stroke="#8a8a70" stroke-width="0.8"/>
<line x1="449.3" y1="504.5" x2="452.9" y2="504.5" stroke="#8a8a70" stroke-width="0.8"/>
<line x1="449.3" y1="508.4" x2="452.9" y2="508.4" stroke="#8a8a70" stroke-width="0.8"/>
<line x1="451.1" y1="602" x2="451.1" y2="604" stroke="#222" stroke-width="0.9"/>
<text x="450.4" y="609.8" font-size="6.0" fill="#3a3a3a" stroke="#3a3a3a" stroke-width="0.12" text-anchor="end" transform="rotate(-45 450.4 609.8)"><tspan font-style="italic">shSpry2</tspan></text>
<rect x="460.2" y="506.5" width="8" height="64.7" fill="#d7dbb7"/>
<rect x="460.2" y="571.1" width="8" height="25.8" fill="#b9b3e2"/>
<rect x="460.2" y="596.9" width="8" height="5.1" fill="#8c8c9e"/>
<line x1="460.2" y1="571.1" x2="468.2" y2="571.1" stroke="#8a84b8" stroke-width="0.6"/>
<line x1="460.2" y1="596.9" x2="468.2" y2="596.9" stroke="#55556a" stroke-width="0.8"/>
<line x1="464.2" y1="598.3" x2="464.2" y2="595.4" stroke="#303048" stroke-width="0.8"/>
<line x1="462.4" y1="595.4" x2="466" y2="595.4" stroke="#303048" stroke-width="0.8"/>
<line x1="462.4" y1="598.3" x2="466" y2="598.3" stroke="#303048" stroke-width="0.8"/>
<line x1="464.2" y1="573" x2="464.2" y2="569.2" stroke="#403c70" stroke-width="0.8"/>
<line x1="462.4" y1="569.2" x2="466" y2="569.2" stroke="#403c70" stroke-width="0.8"/>
<line x1="462.4" y1="573" x2="466" y2="573" stroke="#403c70" stroke-width="0.8"/>
<line x1="464.2" y1="510.3" x2="464.2" y2="502.6" stroke="#8a8a70" stroke-width="0.8"/>
<line x1="462.4" y1="502.6" x2="466" y2="502.6" stroke="#8a8a70" stroke-width="0.8"/>
<line x1="462.4" y1="510.3" x2="466" y2="510.3" stroke="#8a8a70" stroke-width="0.8"/>
<line x1="464.2" y1="602" x2="464.2" y2="604" stroke="#222" stroke-width="0.9"/>
<text x="463.5" y="609.8" font-size="6.0" fill="#3a3a3a" stroke="#3a3a3a" stroke-width="0.12" text-anchor="end" transform="rotate(-45 463.5 609.8)"><tspan font-style="italic">shXrcc5</tspan></text>
<rect x="476.4" y="532.5" width="5.4" height="5.4" fill="#8c8c9e"/>
<text x="485" y="537.2" font-size="5.7" fill="#333" stroke="#333" stroke-width="0.12">Compact</text>
<rect x="476.4" y="541.5" width="5.4" height="5.4" fill="#b9b3e2"/>
<text x="485" y="546.2" font-size="5.7" fill="#333" stroke="#333" stroke-width="0.12">Intermediate</text>
<rect x="476.4" y="550.6" width="5.4" height="5.4" fill="#d7dbb7"/>
<text x="485" y="555.3" font-size="5.7" fill="#333" stroke="#333" stroke-width="0.12">Diffuse</text>
<text x="278.5" y="545.9" font-size="7.2" fill="#222" stroke="#222" stroke-width="0.12" text-anchor="middle" transform="rotate(-90 278.5 545.9)" textLength="86.6" lengthAdjust="spacingAndGlyphs">% CFU (colonies per 10000 cells)</text>
<rect x="0.6" y="0.6" width="518.8" height="636.8" fill="none" stroke="#666" stroke-width="1.2"/>
</svg></body></html>
